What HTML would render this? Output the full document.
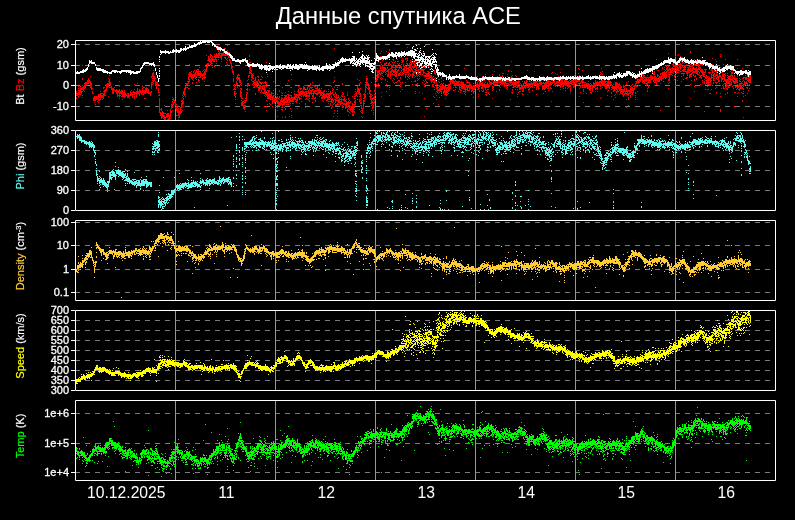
<!DOCTYPE html>
<html><head><meta charset="utf-8"><title>ACE</title><style>html,body{margin:0;padding:0;background:#000;overflow:hidden}</style></head><body>
<svg width="795" height="520" viewBox="0 0 795 520" style="display:block">
<rect width="795" height="520" fill="#000"/>
<text x="398.3" y="24" text-anchor="middle" fill="#fff" font-size="23.7" font-family="Liberation Sans, Arial, sans-serif">Данные спутника ACE</text>
<path d="M75 44.5H775M75 65.5H775M75 85.5H775M75 106.5H775M75 150.5H775M75 170.5H775M75 190.5H775M75 222.5H775M75 245.5H775M75 269.5H775M75 292.5H775M75 320.5H775M75 330.5H775M75 340.5H775M75 350.5H775M75 360.5H775M75 370.5H775M75 380.5H775M75 413.5H775M75 443.5H775M75 472.5H775" stroke="#7c7c7c" stroke-width="1" stroke-dasharray="5 5" fill="none"/>
<path d="M175.5 41V120M275.5 41V120M375.5 41V120M475.5 41V120M575.5 41V120M675.5 41V120M175.5 131V210M275.5 131V210M375.5 131V210M475.5 131V210M575.5 131V210M675.5 131V210M175.5 221V300M275.5 221V300M375.5 221V300M475.5 221V300M575.5 221V300M675.5 221V300M175.5 311V390M275.5 311V390M375.5 311V390M475.5 311V390M575.5 311V390M675.5 311V390M175.5 401V480M275.5 401V480M375.5 401V480M475.5 401V480M575.5 401V480M675.5 401V480" stroke="#969696" stroke-width="1" fill="none"/>
<path d="M75 90h1v4h-1zM76 91h1v5h-1zM76 97h1v2h-1zM77 93h1v3h-1zM78 86h1v1h-1zM78 88h1v1h-1zM78 90h1v1h-1zM78 92h1v3h-1zM78 96h1v2h-1zM79 90h1v5h-1zM80 86h1v1h-1zM80 88h1v5h-1zM80 94h1v1h-1zM81 88h1v2h-1zM81 91h1v3h-1zM82 65h1v1h-1zM82 78h1v2h-1zM82 85h1v1h-1zM82 87h1v3h-1zM82 91h1v1h-1zM82 95h1v1h-1zM82 97h1v1h-1zM83 86h1v5h-1zM84 83h1v6h-1zM84 91h1v1h-1zM85 82h1v6h-1zM86 82h1v4h-1zM87 80h1v4h-1zM88 78h1v6h-1zM89 80h1v3h-1zM90 76h1v1h-1zM90 81h1v7h-1zM91 83h1v7h-1zM92 88h1v1h-1zM92 91h1v3h-1zM93 93h1v1h-1zM93 97h1v4h-1zM94 96h1v5h-1zM94 102h1v1h-1zM95 96h1v5h-1zM95 104h1v1h-1zM96 96h1v4h-1zM97 96h1v4h-1zM97 101h1v1h-1zM98 94h1v7h-1zM98 102h1v1h-1zM99 94h1v4h-1zM99 99h1v2h-1zM100 91h1v1h-1zM100 93h1v7h-1zM101 93h1v1h-1zM101 95h1v3h-1zM102 93h1v1h-1zM102 95h1v3h-1zM102 99h1v1h-1zM103 87h1v2h-1zM103 91h1v1h-1zM103 93h1v6h-1zM104 87h1v1h-1zM104 90h1v6h-1zM105 89h1v4h-1zM105 95h1v1h-1zM106 84h1v7h-1zM107 83h1v5h-1zM108 78h1v1h-1zM108 81h1v1h-1zM108 83h1v4h-1zM108 96h1v1h-1zM109 75h1v1h-1zM109 79h1v6h-1zM109 87h1v1h-1zM110 82h1v4h-1zM110 87h1v1h-1zM111 86h1v4h-1zM112 88h1v6h-1zM113 88h1v6h-1zM114 87h1v1h-1zM114 89h1v2h-1zM115 90h1v2h-1zM116 89h1v5h-1zM117 90h1v7h-1zM118 90h1v3h-1zM118 95h1v1h-1zM119 81h1v1h-1zM119 85h1v2h-1zM119 89h1v8h-1zM119 98h1v1h-1zM120 91h1v3h-1zM120 95h1v1h-1zM121 90h1v5h-1zM121 96h1v1h-1zM122 90h1v7h-1zM122 99h1v1h-1zM123 92h1v5h-1zM124 90h1v8h-1zM125 93h1v4h-1zM126 94h1v2h-1zM127 93h1v1h-1zM127 95h1v3h-1zM128 93h1v5h-1zM129 95h1v2h-1zM129 98h1v1h-1zM130 91h1v5h-1zM131 90h1v1h-1zM131 92h1v4h-1zM132 92h1v1h-1zM132 94h1v4h-1zM133 91h1v2h-1zM133 94h1v1h-1zM134 84h1v1h-1zM134 89h1v1h-1zM134 92h1v3h-1zM134 96h1v3h-1zM135 92h1v2h-1zM136 91h1v7h-1zM137 83h1v1h-1zM137 88h1v7h-1zM138 91h1v3h-1zM139 89h1v7h-1zM140 90h1v3h-1zM141 91h1v4h-1zM142 85h1v2h-1zM142 88h1v5h-1zM142 94h1v1h-1zM143 87h1v1h-1zM143 90h1v5h-1zM144 87h1v1h-1zM144 90h1v4h-1zM144 98h1v1h-1zM145 88h1v6h-1zM145 98h1v1h-1zM146 87h1v6h-1zM147 88h1v5h-1zM148 89h1v5h-1zM149 92h1v2h-1zM150 92h1v4h-1zM151 76h1v2h-1zM151 82h1v7h-1zM151 91h1v2h-1zM152 73h1v4h-1zM152 78h1v1h-1zM152 80h1v1h-1zM152 82h1v1h-1zM152 84h1v1h-1zM153 70h1v1h-1zM153 72h1v7h-1zM153 80h1v2h-1zM153 83h1v1h-1zM154 76h1v5h-1zM155 78h1v1h-1zM155 81h1v5h-1zM156 82h1v7h-1zM157 81h1v5h-1zM158 84h1v1h-1zM158 88h1v5h-1zM158 95h1v1h-1zM159 92h1v1h-1zM159 94h1v2h-1zM159 98h1v15h-1zM160 109h1v1h-1zM160 112h1v4h-1zM161 108h1v3h-1zM161 113h1v6h-1zM162 111h1v7h-1zM163 112h1v5h-1zM163 118h1v1h-1zM164 105h1v1h-1zM164 113h1v1h-1zM164 115h1v5h-1zM165 113h1v1h-1zM165 117h1v3h-1zM166 114h1v4h-1zM167 110h1v1h-1zM167 113h1v5h-1zM167 119h1v1h-1zM168 113h1v4h-1zM168 118h1v2h-1zM169 115h1v5h-1zM170 109h1v8h-1zM170 118h1v1h-1zM171 104h1v5h-1zM171 111h1v2h-1zM172 97h1v1h-1zM172 99h1v1h-1zM172 101h1v2h-1zM172 104h1v4h-1zM172 110h1v1h-1zM173 98h1v3h-1zM173 102h1v3h-1zM174 100h1v3h-1zM174 105h1v1h-1zM175 101h1v5h-1zM175 107h1v2h-1zM176 104h1v1h-1zM176 106h1v5h-1zM176 115h1v1h-1zM177 106h1v2h-1zM177 109h1v4h-1zM177 115h1v1h-1zM178 108h1v1h-1zM178 110h1v6h-1zM178 117h1v1h-1zM178 119h1v1h-1zM179 111h1v7h-1zM180 107h1v7h-1zM181 100h1v2h-1zM181 103h1v5h-1zM181 109h1v1h-1zM181 111h1v2h-1zM182 95h1v1h-1zM182 97h1v1h-1zM182 100h1v5h-1zM182 106h1v1h-1zM182 110h1v1h-1zM183 91h1v4h-1zM183 96h1v1h-1zM183 98h1v2h-1zM183 101h1v3h-1zM184 88h1v8h-1zM185 83h1v1h-1zM185 86h1v4h-1zM185 94h1v1h-1zM185 96h1v1h-1zM186 83h1v3h-1zM186 87h1v1h-1zM187 81h1v1h-1zM187 83h1v2h-1zM187 87h1v1h-1zM188 74h1v1h-1zM188 76h1v4h-1zM188 81h1v3h-1zM188 85h1v1h-1zM188 88h1v1h-1zM189 64h1v1h-1zM189 72h1v5h-1zM189 79h1v3h-1zM189 85h1v1h-1zM189 88h1v1h-1zM190 72h1v5h-1zM191 71h1v1h-1zM191 73h1v6h-1zM192 74h1v6h-1zM192 82h1v2h-1zM193 71h1v2h-1zM193 74h1v4h-1zM193 80h1v1h-1zM194 70h1v1h-1zM194 73h1v4h-1zM195 72h1v7h-1zM196 70h1v3h-1zM196 74h1v1h-1zM196 76h1v2h-1zM196 79h1v1h-1zM196 82h1v1h-1zM197 69h1v1h-1zM197 71h1v5h-1zM198 69h1v7h-1zM198 77h1v1h-1zM198 79h1v3h-1zM199 67h1v1h-1zM199 71h1v1h-1zM199 73h1v3h-1zM199 77h1v1h-1zM199 80h1v1h-1zM199 82h1v1h-1zM200 71h1v7h-1zM201 73h1v3h-1zM202 71h1v1h-1zM202 74h1v3h-1zM202 78h1v2h-1zM203 70h1v1h-1zM203 73h1v3h-1zM203 77h1v1h-1zM204 69h1v1h-1zM204 71h1v8h-1zM204 81h1v1h-1zM205 66h1v1h-1zM205 69h1v6h-1zM205 77h1v1h-1zM206 55h1v1h-1zM206 64h1v1h-1zM206 66h1v6h-1zM207 60h1v1h-1zM207 63h1v5h-1zM208 56h1v5h-1zM208 63h1v2h-1zM209 58h1v4h-1zM210 54h1v4h-1zM210 59h1v4h-1zM210 64h1v1h-1zM211 55h1v1h-1zM211 58h1v6h-1zM211 65h1v1h-1zM212 56h1v5h-1zM212 63h1v1h-1zM212 65h1v1h-1zM212 67h1v1h-1zM213 59h1v3h-1zM214 54h1v1h-1zM214 56h1v2h-1zM214 59h1v3h-1zM214 65h1v2h-1zM215 55h1v5h-1zM216 48h1v1h-1zM216 53h1v5h-1zM216 59h1v3h-1zM216 63h1v1h-1zM217 54h1v4h-1zM218 46h1v1h-1zM218 49h1v3h-1zM218 53h1v5h-1zM218 59h1v1h-1zM219 47h1v1h-1zM219 49h1v1h-1zM219 52h1v4h-1zM219 57h1v1h-1zM220 51h1v1h-1zM220 53h1v1h-1zM220 55h1v3h-1zM221 53h1v7h-1zM221 61h1v1h-1zM221 66h1v1h-1zM222 53h1v3h-1zM223 49h1v7h-1zM224 48h1v3h-1zM224 52h1v1h-1zM224 54h1v2h-1zM224 57h1v1h-1zM225 48h1v1h-1zM225 51h1v5h-1zM225 57h1v2h-1zM226 51h1v5h-1zM226 59h1v1h-1zM226 62h1v1h-1zM227 45h1v1h-1zM227 50h1v2h-1zM227 53h1v3h-1zM227 58h1v1h-1zM227 60h1v1h-1zM227 64h1v2h-1zM228 52h1v6h-1zM229 52h1v1h-1zM229 54h1v4h-1zM229 59h1v2h-1zM230 60h1v4h-1zM231 63h1v6h-1zM232 66h1v2h-1zM232 69h1v4h-1zM233 71h1v4h-1zM233 76h1v1h-1zM233 78h1v4h-1zM233 85h1v1h-1zM233 89h1v1h-1zM234 84h1v1h-1zM234 86h1v1h-1zM234 88h1v2h-1zM234 91h1v5h-1zM235 87h1v1h-1zM235 89h1v1h-1zM235 91h1v1h-1zM235 93h1v2h-1zM235 96h1v2h-1zM235 99h1v1h-1zM235 103h1v1h-1zM236 77h1v2h-1zM236 81h1v5h-1zM236 93h1v1h-1zM237 75h1v6h-1zM237 83h1v2h-1zM237 86h1v2h-1zM238 74h1v2h-1zM238 77h1v3h-1zM239 75h1v1h-1zM239 77h1v6h-1zM239 86h1v1h-1zM240 80h1v3h-1zM240 84h1v1h-1zM240 88h1v1h-1zM240 90h1v7h-1zM241 83h1v1h-1zM241 85h1v1h-1zM241 88h1v2h-1zM241 92h1v2h-1zM241 95h1v4h-1zM241 100h1v1h-1zM241 102h1v4h-1zM242 98h1v1h-1zM242 101h1v5h-1zM243 101h1v1h-1zM243 103h1v1h-1zM243 105h1v4h-1zM244 100h1v1h-1zM244 102h1v1h-1zM244 105h1v5h-1zM245 98h1v1h-1zM245 100h1v3h-1zM245 105h1v3h-1zM245 111h1v1h-1zM246 85h1v1h-1zM246 89h1v1h-1zM246 92h1v1h-1zM246 94h1v7h-1zM247 80h1v1h-1zM247 83h1v4h-1zM247 88h1v3h-1zM247 92h1v2h-1zM248 75h1v3h-1zM248 79h1v1h-1zM248 83h1v3h-1zM249 55h1v2h-1zM249 59h1v1h-1zM249 62h1v4h-1zM249 67h1v3h-1zM249 71h1v3h-1zM249 75h1v1h-1zM249 89h1v1h-1zM250 62h1v1h-1zM250 65h1v6h-1zM250 72h1v2h-1zM251 64h1v1h-1zM251 70h1v2h-1zM251 73h1v5h-1zM251 79h1v2h-1zM252 74h1v5h-1zM252 81h1v1h-1zM252 84h1v1h-1zM253 73h1v1h-1zM253 75h1v1h-1zM253 78h1v1h-1zM253 81h1v3h-1zM253 85h1v1h-1zM253 87h1v1h-1zM254 80h1v1h-1zM254 82h1v3h-1zM254 86h1v2h-1zM255 64h1v1h-1zM255 77h1v4h-1zM255 82h1v4h-1zM255 93h1v2h-1zM255 103h1v1h-1zM256 81h1v6h-1zM257 76h1v1h-1zM257 81h1v4h-1zM257 86h1v2h-1zM258 76h1v2h-1zM258 79h1v2h-1zM258 83h1v3h-1zM258 87h1v4h-1zM259 81h1v2h-1zM259 85h1v6h-1zM260 79h1v1h-1zM260 82h1v2h-1zM260 85h1v4h-1zM260 92h1v1h-1zM261 76h1v1h-1zM261 79h1v1h-1zM261 82h1v3h-1zM261 86h1v1h-1zM261 90h1v2h-1zM262 77h1v1h-1zM262 82h1v1h-1zM262 85h1v5h-1zM262 92h1v1h-1zM263 83h1v1h-1zM263 85h1v2h-1zM263 88h1v2h-1zM263 92h1v2h-1zM264 82h1v1h-1zM264 85h1v9h-1zM264 95h1v1h-1zM264 106h1v1h-1zM265 81h1v3h-1zM265 85h1v1h-1zM265 89h1v6h-1zM265 96h1v1h-1zM266 62h1v1h-1zM266 69h1v1h-1zM266 82h1v1h-1zM266 84h1v1h-1zM266 86h1v1h-1zM266 91h1v2h-1zM266 94h1v2h-1zM266 100h1v1h-1zM266 106h1v1h-1zM266 110h1v1h-1zM267 74h1v1h-1zM267 76h1v1h-1zM267 90h1v1h-1zM267 92h1v7h-1zM267 101h1v1h-1zM267 104h1v1h-1zM268 90h1v3h-1zM268 94h1v5h-1zM269 88h1v1h-1zM269 90h1v2h-1zM269 93h1v6h-1zM269 103h1v1h-1zM270 94h1v6h-1zM270 104h1v1h-1zM271 92h1v6h-1zM271 99h1v1h-1zM272 93h1v1h-1zM272 96h1v8h-1zM272 106h1v1h-1zM273 81h1v1h-1zM273 90h1v1h-1zM273 93h1v1h-1zM273 95h1v4h-1zM273 100h1v2h-1zM274 95h1v1h-1zM274 98h1v5h-1zM275 84h1v1h-1zM275 87h1v1h-1zM275 95h1v1h-1zM275 98h1v4h-1zM275 104h1v1h-1zM275 106h1v1h-1zM275 108h1v1h-1zM276 97h1v5h-1zM277 94h1v1h-1zM277 96h1v3h-1zM277 100h1v4h-1zM277 105h1v1h-1zM277 107h1v1h-1zM277 110h1v1h-1zM277 116h1v1h-1zM278 98h1v1h-1zM278 101h1v5h-1zM279 90h1v2h-1zM279 96h1v2h-1zM279 99h1v1h-1zM279 102h1v4h-1zM280 100h1v6h-1zM281 92h1v1h-1zM281 95h1v1h-1zM281 97h1v5h-1zM281 103h1v2h-1zM281 107h1v1h-1zM281 109h1v1h-1zM282 87h1v1h-1zM282 93h1v1h-1zM282 95h1v1h-1zM282 98h1v1h-1zM282 100h1v3h-1zM282 104h1v4h-1zM282 109h1v2h-1zM282 117h1v1h-1zM283 99h1v6h-1zM284 95h1v1h-1zM284 97h1v8h-1zM284 107h1v1h-1zM285 92h1v1h-1zM285 95h1v5h-1zM285 101h1v2h-1zM285 108h1v2h-1zM285 116h1v2h-1zM286 95h1v2h-1zM286 98h1v5h-1zM286 104h1v1h-1zM287 83h1v1h-1zM287 94h1v1h-1zM287 97h1v1h-1zM287 99h1v4h-1zM287 104h1v1h-1zM288 80h1v1h-1zM288 91h1v1h-1zM288 94h1v7h-1zM288 102h1v1h-1zM288 104h1v1h-1zM289 95h1v1h-1zM289 97h1v6h-1zM289 116h1v1h-1zM290 87h1v1h-1zM290 95h1v1h-1zM290 98h1v4h-1zM290 103h1v1h-1zM290 105h1v1h-1zM290 108h1v1h-1zM291 68h1v1h-1zM291 74h1v1h-1zM291 79h1v1h-1zM291 87h1v1h-1zM291 92h1v1h-1zM291 95h1v4h-1zM291 100h1v2h-1zM291 111h1v1h-1zM291 115h1v1h-1zM291 117h1v1h-1zM292 97h1v5h-1zM292 103h1v1h-1zM293 97h1v5h-1zM293 103h1v1h-1zM294 91h1v1h-1zM294 93h1v2h-1zM294 96h1v4h-1zM295 94h1v6h-1zM295 101h1v1h-1zM296 94h1v4h-1zM296 99h1v4h-1zM297 91h1v1h-1zM297 94h1v2h-1zM297 97h1v4h-1zM297 108h1v1h-1zM298 86h1v1h-1zM298 89h1v4h-1zM298 94h1v4h-1zM299 88h1v1h-1zM299 92h1v4h-1zM299 97h1v3h-1zM299 103h1v1h-1zM300 88h1v2h-1zM300 91h1v5h-1zM300 98h1v1h-1zM301 88h1v1h-1zM301 91h1v4h-1zM301 96h1v1h-1zM301 98h1v1h-1zM301 101h1v1h-1zM302 90h1v5h-1zM303 86h1v4h-1zM303 91h1v3h-1zM303 95h1v2h-1zM304 85h1v1h-1zM304 87h1v3h-1zM304 92h1v4h-1zM305 85h1v1h-1zM305 89h1v1h-1zM305 91h1v2h-1zM305 94h1v3h-1zM305 99h1v1h-1zM305 103h1v2h-1zM305 107h1v1h-1zM306 85h1v1h-1zM306 89h1v1h-1zM306 91h1v6h-1zM306 98h1v1h-1zM307 87h1v3h-1zM307 91h1v1h-1zM307 93h1v1h-1zM307 95h1v2h-1zM307 99h1v1h-1zM308 86h1v1h-1zM308 90h1v4h-1zM308 95h1v2h-1zM308 99h1v1h-1zM309 86h1v1h-1zM309 88h1v2h-1zM309 92h1v5h-1zM309 98h1v1h-1zM309 100h1v2h-1zM310 83h1v3h-1zM310 87h1v1h-1zM310 90h1v1h-1zM310 92h1v2h-1zM311 87h1v2h-1zM311 90h1v5h-1zM311 98h1v1h-1zM312 82h1v1h-1zM312 85h1v1h-1zM312 87h1v1h-1zM312 89h1v2h-1zM312 93h1v1h-1zM312 95h1v2h-1zM312 98h1v1h-1zM312 102h1v1h-1zM313 85h1v1h-1zM313 89h1v1h-1zM313 91h1v7h-1zM314 85h1v2h-1zM314 90h1v4h-1zM314 98h1v1h-1zM315 86h1v1h-1zM315 88h1v1h-1zM315 90h1v2h-1zM315 93h1v1h-1zM315 97h1v2h-1zM315 100h1v2h-1zM316 88h1v1h-1zM316 90h1v2h-1zM316 93h1v2h-1zM317 86h1v5h-1zM317 92h1v3h-1zM318 89h1v5h-1zM319 84h1v1h-1zM319 88h1v6h-1zM319 96h1v1h-1zM320 90h1v6h-1zM321 88h1v1h-1zM321 92h1v4h-1zM321 97h1v2h-1zM322 92h1v2h-1zM322 95h1v4h-1zM322 100h1v1h-1zM323 91h1v7h-1zM323 101h1v1h-1zM324 90h1v2h-1zM324 93h1v6h-1zM325 94h1v4h-1zM326 91h1v1h-1zM326 93h1v5h-1zM326 100h1v1h-1zM327 93h1v2h-1zM327 96h1v5h-1zM328 89h1v1h-1zM328 91h1v1h-1zM328 93h1v7h-1zM328 101h1v1h-1zM328 103h1v1h-1zM329 93h1v5h-1zM329 99h1v1h-1zM329 101h1v1h-1zM330 85h1v1h-1zM330 91h1v4h-1zM330 98h1v1h-1zM330 101h1v1h-1zM330 103h1v3h-1zM331 86h1v1h-1zM331 93h1v1h-1zM331 96h1v2h-1zM331 99h1v4h-1zM331 107h1v2h-1zM332 67h1v1h-1zM332 88h1v1h-1zM332 90h1v1h-1zM332 92h1v2h-1zM332 98h1v3h-1zM332 102h1v1h-1zM332 105h1v2h-1zM333 82h1v1h-1zM333 89h1v1h-1zM333 94h1v2h-1zM333 100h1v2h-1zM333 104h1v1h-1zM333 116h1v1h-1zM334 48h1v1h-1zM334 71h1v1h-1zM334 77h1v1h-1zM334 80h1v2h-1zM334 87h1v1h-1zM334 94h1v1h-1zM334 96h1v1h-1zM334 99h1v1h-1zM334 103h1v1h-1zM334 110h1v1h-1zM334 113h1v1h-1zM335 92h1v2h-1zM335 97h1v1h-1zM335 99h1v4h-1zM335 104h1v2h-1zM336 89h1v1h-1zM336 94h1v5h-1zM336 100h1v1h-1zM336 104h1v2h-1zM337 87h1v1h-1zM337 89h1v1h-1zM337 97h1v2h-1zM337 100h1v2h-1zM337 103h1v2h-1zM337 108h1v1h-1zM337 110h1v2h-1zM337 113h1v1h-1zM337 116h1v1h-1zM338 95h1v3h-1zM338 99h1v4h-1zM338 104h1v1h-1zM339 98h1v5h-1zM340 97h1v1h-1zM340 99h1v1h-1zM340 101h1v4h-1zM341 95h1v2h-1zM341 98h1v6h-1zM342 83h1v2h-1zM342 92h1v1h-1zM342 94h1v1h-1zM342 96h1v1h-1zM342 99h1v1h-1zM342 102h1v2h-1zM342 105h1v3h-1zM342 109h1v1h-1zM343 93h1v2h-1zM343 99h1v2h-1zM343 103h1v2h-1zM343 106h1v2h-1zM344 96h1v1h-1zM344 98h1v4h-1zM344 103h1v2h-1zM345 100h1v2h-1zM345 103h1v6h-1zM346 99h1v1h-1zM346 101h1v7h-1zM347 92h1v1h-1zM347 94h1v2h-1zM347 102h1v3h-1zM347 106h1v2h-1zM347 109h1v3h-1zM348 98h1v2h-1zM348 101h1v5h-1zM348 108h1v1h-1zM348 111h1v1h-1zM348 115h1v1h-1zM349 100h1v1h-1zM349 102h1v2h-1zM349 105h1v3h-1zM349 109h1v1h-1zM349 112h1v1h-1zM350 101h1v2h-1zM350 106h1v1h-1zM350 108h1v3h-1zM350 113h1v1h-1zM351 106h1v4h-1zM351 111h1v1h-1zM352 96h1v1h-1zM352 103h1v10h-1zM352 114h1v2h-1zM353 104h1v1h-1zM353 106h1v6h-1zM353 114h1v2h-1zM354 94h1v1h-1zM354 96h1v1h-1zM354 98h1v1h-1zM354 101h1v2h-1zM354 104h1v4h-1zM354 109h1v1h-1zM354 111h1v2h-1zM355 89h1v1h-1zM355 91h1v1h-1zM355 93h1v1h-1zM355 95h1v2h-1zM355 98h1v1h-1zM355 100h1v5h-1zM356 92h1v4h-1zM357 79h1v1h-1zM357 86h1v6h-1zM357 96h1v1h-1zM357 99h1v1h-1zM358 85h1v1h-1zM358 88h1v6h-1zM359 80h1v1h-1zM359 83h1v2h-1zM359 89h1v6h-1zM359 96h1v1h-1zM359 99h1v3h-1zM359 109h1v1h-1zM360 82h1v1h-1zM360 88h1v1h-1zM360 93h1v4h-1zM360 98h1v1h-1zM360 100h1v1h-1zM360 102h1v2h-1zM360 105h1v1h-1zM360 111h1v1h-1zM361 99h1v1h-1zM361 102h1v2h-1zM361 105h1v4h-1zM361 110h1v1h-1zM361 112h1v1h-1zM361 116h1v1h-1zM362 108h1v6h-1zM362 117h1v1h-1zM363 94h1v1h-1zM363 98h1v1h-1zM363 100h1v9h-1zM364 93h1v6h-1zM364 100h1v2h-1zM364 103h1v1h-1zM365 82h1v1h-1zM365 84h1v9h-1zM365 94h1v4h-1zM366 76h1v1h-1zM366 78h1v8h-1zM366 87h1v1h-1zM367 78h1v2h-1zM367 82h1v4h-1zM367 88h1v1h-1zM367 93h1v1h-1zM368 83h1v7h-1zM369 85h1v1h-1zM369 87h1v7h-1zM369 96h1v1h-1zM370 90h1v2h-1zM370 93h1v7h-1zM370 103h1v1h-1zM371 82h1v1h-1zM371 94h1v1h-1zM371 96h1v1h-1zM371 98h1v6h-1zM371 105h1v1h-1zM371 110h1v1h-1zM372 95h1v1h-1zM372 98h1v2h-1zM372 101h1v2h-1zM372 104h1v1h-1zM372 106h1v3h-1zM373 77h1v1h-1zM373 97h1v2h-1zM373 100h1v1h-1zM373 102h1v2h-1zM373 105h1v3h-1zM373 110h1v1h-1zM373 112h1v1h-1zM373 114h1v1h-1zM374 84h1v1h-1zM374 90h1v2h-1zM374 94h1v1h-1zM374 96h1v4h-1zM374 101h1v2h-1zM375 80h1v1h-1zM375 82h1v2h-1zM375 87h1v6h-1zM375 94h1v2h-1zM375 98h1v1h-1zM376 70h1v1h-1zM376 75h1v2h-1zM376 78h1v4h-1zM376 84h1v3h-1zM377 68h1v1h-1zM377 71h1v9h-1zM378 70h1v3h-1zM378 74h1v4h-1zM378 83h1v2h-1zM378 86h1v1h-1zM379 70h1v4h-1zM380 53h1v1h-1zM380 56h1v1h-1zM380 62h1v1h-1zM380 65h1v4h-1zM380 70h1v1h-1zM380 73h1v2h-1zM380 78h1v1h-1zM381 51h1v1h-1zM381 56h1v1h-1zM381 59h1v1h-1zM381 64h1v1h-1zM381 70h1v1h-1zM381 72h1v2h-1zM381 77h1v1h-1zM381 79h1v1h-1zM381 82h1v1h-1zM381 92h1v1h-1zM381 96h1v1h-1zM382 60h1v1h-1zM382 65h1v4h-1zM382 70h1v2h-1zM382 73h1v1h-1zM382 75h1v1h-1zM382 78h1v1h-1zM383 65h1v1h-1zM383 67h1v6h-1zM383 76h1v1h-1zM384 57h1v1h-1zM384 63h1v3h-1zM384 67h1v5h-1zM385 59h1v1h-1zM385 63h1v3h-1zM385 67h1v4h-1zM385 72h1v1h-1zM385 74h1v1h-1zM385 79h1v2h-1zM386 51h1v1h-1zM386 56h1v1h-1zM386 59h1v1h-1zM386 62h1v2h-1zM386 65h1v1h-1zM386 69h1v1h-1zM386 71h1v1h-1zM386 73h1v1h-1zM386 84h1v1h-1zM386 91h1v1h-1zM387 59h1v1h-1zM387 65h1v1h-1zM387 67h1v2h-1zM387 70h1v2h-1zM387 74h1v3h-1zM387 81h1v1h-1zM387 86h1v1h-1zM388 52h1v1h-1zM388 63h1v3h-1zM388 69h1v8h-1zM389 49h1v2h-1zM389 62h1v2h-1zM389 65h1v1h-1zM389 69h1v1h-1zM389 77h1v1h-1zM389 87h1v1h-1zM389 89h1v1h-1zM389 95h1v1h-1zM390 64h1v1h-1zM390 68h1v1h-1zM390 71h1v6h-1zM390 78h1v1h-1zM390 85h1v1h-1zM391 56h1v1h-1zM391 61h1v1h-1zM391 65h1v4h-1zM391 70h1v3h-1zM391 74h1v1h-1zM392 59h1v1h-1zM392 62h1v1h-1zM392 65h1v3h-1zM392 69h1v3h-1zM392 73h1v2h-1zM392 80h1v1h-1zM393 53h1v1h-1zM393 59h1v2h-1zM393 64h1v2h-1zM393 67h1v1h-1zM393 70h1v3h-1zM393 74h1v1h-1zM393 78h1v1h-1zM393 82h1v1h-1zM394 62h1v1h-1zM394 65h1v1h-1zM394 67h1v1h-1zM394 69h1v4h-1zM394 74h1v2h-1zM394 79h1v1h-1zM394 83h1v1h-1zM395 61h1v1h-1zM395 66h1v8h-1zM395 75h1v2h-1zM395 82h1v1h-1zM396 65h1v3h-1zM396 69h1v1h-1zM396 71h1v6h-1zM396 82h1v1h-1zM397 55h1v1h-1zM397 59h1v1h-1zM397 61h1v1h-1zM397 63h1v1h-1zM397 65h1v3h-1zM397 70h1v3h-1zM397 78h1v1h-1zM397 81h1v1h-1zM398 61h1v1h-1zM398 64h1v1h-1zM398 67h1v1h-1zM398 69h1v2h-1zM398 73h1v3h-1zM398 80h1v1h-1zM399 55h1v1h-1zM399 57h1v1h-1zM399 63h1v1h-1zM399 66h1v3h-1zM399 73h1v3h-1zM399 80h1v2h-1zM400 57h1v1h-1zM400 65h1v3h-1zM400 72h1v1h-1zM400 74h1v1h-1zM400 77h1v2h-1zM400 82h1v1h-1zM400 84h1v1h-1zM400 86h1v1h-1zM400 91h1v1h-1zM401 57h1v1h-1zM401 60h1v1h-1zM401 62h1v1h-1zM401 64h1v1h-1zM401 66h1v3h-1zM401 70h1v2h-1zM401 75h1v1h-1zM402 58h1v1h-1zM402 60h1v3h-1zM402 69h1v1h-1zM402 72h1v1h-1zM402 74h1v1h-1zM402 82h1v1h-1zM402 89h1v1h-1zM403 60h1v2h-1zM403 64h1v3h-1zM403 68h1v4h-1zM403 73h1v1h-1zM404 66h1v7h-1zM405 44h1v1h-1zM405 53h1v1h-1zM405 55h1v1h-1zM405 58h1v2h-1zM405 67h1v1h-1zM405 70h1v1h-1zM405 72h1v1h-1zM405 74h1v4h-1zM405 82h1v1h-1zM405 86h1v1h-1zM406 55h1v1h-1zM406 58h1v1h-1zM406 61h1v1h-1zM406 63h1v1h-1zM406 66h1v5h-1zM406 72h1v1h-1zM406 74h1v1h-1zM407 47h1v1h-1zM407 58h1v3h-1zM407 63h1v3h-1zM407 68h1v1h-1zM407 71h1v2h-1zM407 76h1v1h-1zM407 79h1v1h-1zM408 67h1v6h-1zM408 74h1v2h-1zM408 77h1v1h-1zM409 63h1v5h-1zM409 69h1v2h-1zM409 73h1v1h-1zM409 76h1v1h-1zM409 78h1v1h-1zM410 60h1v1h-1zM410 62h1v1h-1zM410 64h1v5h-1zM410 70h1v2h-1zM410 74h1v2h-1zM411 57h1v1h-1zM411 61h1v5h-1zM411 68h1v2h-1zM411 81h1v1h-1zM412 61h1v2h-1zM412 66h1v2h-1zM412 69h1v3h-1zM412 73h1v5h-1zM412 84h1v1h-1zM413 57h1v1h-1zM413 61h1v1h-1zM413 63h1v1h-1zM413 66h1v3h-1zM413 71h1v5h-1zM414 57h1v1h-1zM414 60h1v1h-1zM414 62h1v1h-1zM414 64h1v4h-1zM414 69h1v1h-1zM414 71h1v2h-1zM414 75h1v1h-1zM414 77h1v1h-1zM414 81h1v1h-1zM415 64h1v1h-1zM415 66h1v1h-1zM415 69h1v4h-1zM415 76h1v1h-1zM415 80h1v2h-1zM415 84h1v2h-1zM415 91h1v1h-1zM415 93h1v1h-1zM416 62h1v1h-1zM416 65h1v4h-1zM416 70h1v1h-1zM416 72h1v1h-1zM416 74h1v2h-1zM416 84h1v1h-1zM417 44h1v1h-1zM417 59h1v1h-1zM417 62h1v1h-1zM417 65h1v1h-1zM417 70h1v1h-1zM417 72h1v1h-1zM417 74h1v1h-1zM417 76h1v1h-1zM417 78h1v1h-1zM417 80h1v1h-1zM417 83h1v2h-1zM417 86h1v1h-1zM418 60h1v3h-1zM418 67h1v1h-1zM418 69h1v5h-1zM418 75h1v1h-1zM418 79h1v1h-1zM419 51h1v1h-1zM419 60h1v2h-1zM419 64h1v2h-1zM419 67h1v1h-1zM419 69h1v1h-1zM419 72h1v1h-1zM419 74h1v1h-1zM419 76h1v1h-1zM419 78h1v1h-1zM419 92h1v1h-1zM420 68h1v7h-1zM421 64h1v1h-1zM421 66h1v5h-1zM422 62h1v2h-1zM422 66h1v2h-1zM422 69h1v2h-1zM422 74h1v1h-1zM422 82h1v1h-1zM422 93h1v1h-1zM423 65h1v1h-1zM423 69h1v5h-1zM423 75h1v1h-1zM423 80h1v1h-1zM424 66h1v2h-1zM424 69h1v1h-1zM424 72h1v1h-1zM424 75h1v2h-1zM424 81h1v1h-1zM424 84h1v1h-1zM424 86h1v1h-1zM424 98h1v1h-1zM424 116h1v1h-1zM425 45h1v1h-1zM425 62h1v1h-1zM425 66h1v3h-1zM425 73h1v1h-1zM425 75h1v2h-1zM425 79h1v2h-1zM425 83h1v1h-1zM425 86h1v1h-1zM426 73h1v4h-1zM426 78h1v1h-1zM426 81h1v2h-1zM426 108h1v1h-1zM427 71h1v1h-1zM427 73h1v4h-1zM427 78h1v1h-1zM427 82h1v1h-1zM428 66h1v2h-1zM428 71h1v6h-1zM428 78h1v1h-1zM429 69h1v1h-1zM429 72h1v7h-1zM430 73h1v1h-1zM430 75h1v3h-1zM430 79h1v2h-1zM431 75h1v8h-1zM432 77h1v5h-1zM432 84h1v3h-1zM433 76h1v1h-1zM433 79h1v2h-1zM433 82h1v1h-1zM433 84h1v1h-1zM433 86h1v1h-1zM433 96h1v1h-1zM433 103h1v1h-1zM434 70h1v4h-1zM434 78h1v1h-1zM434 80h1v4h-1zM434 87h1v1h-1zM434 89h1v1h-1zM434 97h1v1h-1zM435 67h1v2h-1zM435 73h1v2h-1zM435 77h1v1h-1zM435 79h1v3h-1zM435 93h1v1h-1zM436 80h1v3h-1zM436 84h1v5h-1zM436 91h1v1h-1zM436 95h1v1h-1zM436 99h1v1h-1zM437 75h1v1h-1zM437 77h1v1h-1zM437 84h1v1h-1zM437 86h1v7h-1zM438 76h1v1h-1zM438 79h1v1h-1zM438 81h1v1h-1zM438 85h1v1h-1zM438 87h1v1h-1zM438 89h1v2h-1zM438 93h1v1h-1zM438 104h1v1h-1zM439 79h1v1h-1zM439 82h1v1h-1zM439 85h1v2h-1zM439 88h1v3h-1zM439 92h1v1h-1zM439 97h1v1h-1zM440 84h1v1h-1zM440 86h1v6h-1zM441 77h1v2h-1zM441 81h1v1h-1zM441 83h1v1h-1zM441 86h1v4h-1zM441 91h1v3h-1zM441 95h1v1h-1zM442 84h1v6h-1zM443 80h1v1h-1zM443 83h1v1h-1zM443 85h1v4h-1zM443 91h1v3h-1zM444 86h1v7h-1zM444 94h1v1h-1zM445 84h1v1h-1zM445 86h1v3h-1zM445 90h1v5h-1zM445 98h1v1h-1zM446 87h1v9h-1zM447 87h1v2h-1zM447 90h1v3h-1zM447 94h1v1h-1zM448 84h1v8h-1zM448 93h1v1h-1zM449 81h1v1h-1zM449 84h1v7h-1zM450 77h1v1h-1zM450 80h1v5h-1zM450 86h1v3h-1zM451 78h1v4h-1zM452 77h1v7h-1zM453 79h1v5h-1zM453 85h1v1h-1zM453 87h1v1h-1zM453 90h1v1h-1zM454 77h1v1h-1zM454 79h1v1h-1zM454 81h1v5h-1zM454 90h1v1h-1zM455 80h1v2h-1zM455 83h1v5h-1zM455 89h1v1h-1zM456 81h1v5h-1zM456 87h1v1h-1zM457 81h1v5h-1zM458 81h1v5h-1zM458 91h1v1h-1zM459 77h1v1h-1zM459 81h1v1h-1zM459 84h1v6h-1zM460 79h1v1h-1zM460 82h1v1h-1zM460 84h1v2h-1zM460 87h1v1h-1zM460 89h1v2h-1zM460 92h1v1h-1zM461 81h1v8h-1zM461 90h1v1h-1zM462 82h1v7h-1zM463 82h1v7h-1zM463 91h1v1h-1zM464 68h1v1h-1zM464 84h1v6h-1zM464 91h1v1h-1zM464 93h1v1h-1zM465 84h1v2h-1zM465 87h1v6h-1zM465 94h1v1h-1zM466 80h1v1h-1zM466 82h1v1h-1zM466 85h1v3h-1zM466 89h1v1h-1zM467 81h1v2h-1zM467 85h1v6h-1zM468 82h1v1h-1zM468 85h1v3h-1zM468 90h1v1h-1zM469 82h1v9h-1zM470 84h1v5h-1zM471 85h1v4h-1zM471 90h1v2h-1zM471 94h1v1h-1zM472 86h1v5h-1zM473 79h1v1h-1zM473 83h1v1h-1zM473 85h1v2h-1zM473 88h1v2h-1zM473 91h1v3h-1zM473 97h1v1h-1zM474 85h1v5h-1zM474 91h1v1h-1zM475 84h1v1h-1zM475 86h1v3h-1zM476 84h1v3h-1zM477 76h1v1h-1zM477 79h1v2h-1zM477 82h1v6h-1zM477 89h1v1h-1zM478 79h1v3h-1zM478 84h1v6h-1zM478 94h1v1h-1zM478 96h1v1h-1zM479 79h1v2h-1zM479 82h1v5h-1zM479 88h1v1h-1zM479 90h1v2h-1zM480 79h1v1h-1zM480 81h1v5h-1zM481 80h1v2h-1zM481 83h1v3h-1zM481 87h1v2h-1zM481 90h1v1h-1zM482 76h1v1h-1zM482 82h1v7h-1zM482 91h1v1h-1zM483 77h1v1h-1zM483 80h1v1h-1zM483 84h1v3h-1zM483 89h1v3h-1zM484 80h1v1h-1zM484 83h1v5h-1zM485 74h1v1h-1zM485 82h1v1h-1zM485 84h1v6h-1zM485 92h1v1h-1zM485 94h1v1h-1zM486 79h1v1h-1zM486 84h1v4h-1zM486 90h1v1h-1zM486 92h1v1h-1zM486 94h1v2h-1zM487 82h1v6h-1zM487 89h1v1h-1zM488 77h1v2h-1zM488 80h1v1h-1zM488 84h1v4h-1zM488 89h1v1h-1zM488 92h1v2h-1zM489 76h1v1h-1zM489 80h1v4h-1zM489 85h1v2h-1zM489 94h1v1h-1zM490 82h1v3h-1zM491 77h1v1h-1zM491 79h1v2h-1zM491 82h1v3h-1zM492 74h1v1h-1zM492 77h1v2h-1zM492 80h1v1h-1zM492 83h1v1h-1zM492 86h1v3h-1zM492 90h1v1h-1zM492 98h1v1h-1zM493 79h1v1h-1zM493 81h1v4h-1zM493 86h1v2h-1zM493 89h1v1h-1zM494 71h1v1h-1zM494 78h1v8h-1zM495 77h1v2h-1zM495 80h1v3h-1zM495 84h1v1h-1zM496 77h1v1h-1zM496 79h1v4h-1zM496 84h1v1h-1zM496 91h1v1h-1zM497 76h1v1h-1zM497 79h1v6h-1zM498 77h1v6h-1zM499 74h1v2h-1zM499 77h1v1h-1zM499 79h1v2h-1zM499 82h1v1h-1zM499 86h1v1h-1zM499 89h1v2h-1zM500 76h1v1h-1zM500 78h1v5h-1zM500 84h1v1h-1zM500 87h1v1h-1zM501 77h1v7h-1zM502 73h1v1h-1zM502 75h1v4h-1zM502 80h1v5h-1zM503 73h1v1h-1zM503 78h1v1h-1zM503 80h1v4h-1zM504 78h1v1h-1zM504 81h1v6h-1zM505 79h1v5h-1zM505 85h1v1h-1zM506 80h1v2h-1zM506 83h1v4h-1zM506 88h1v1h-1zM507 74h1v1h-1zM507 76h1v1h-1zM507 78h1v4h-1zM507 83h1v1h-1zM507 87h1v1h-1zM507 89h1v1h-1zM508 70h1v2h-1zM508 78h1v4h-1zM508 83h1v3h-1zM509 78h1v5h-1zM509 84h1v2h-1zM510 77h1v7h-1zM510 85h1v1h-1zM510 99h1v1h-1zM511 61h1v1h-1zM511 71h1v1h-1zM511 76h1v2h-1zM511 79h1v4h-1zM511 84h1v2h-1zM511 92h1v1h-1zM512 75h1v1h-1zM512 77h1v4h-1zM512 82h1v3h-1zM512 87h1v1h-1zM512 89h1v2h-1zM512 92h1v2h-1zM513 79h1v1h-1zM513 81h1v7h-1zM514 79h1v2h-1zM514 82h1v3h-1zM514 86h1v1h-1zM515 75h1v1h-1zM515 79h1v1h-1zM515 81h1v6h-1zM515 89h1v1h-1zM516 76h1v1h-1zM516 81h1v5h-1zM516 87h1v1h-1zM517 81h1v3h-1zM517 85h1v3h-1zM517 89h1v1h-1zM517 94h1v1h-1zM517 96h1v1h-1zM518 78h1v1h-1zM518 80h1v5h-1zM518 86h1v1h-1zM518 92h1v1h-1zM519 81h1v2h-1zM519 84h1v6h-1zM519 91h1v1h-1zM520 83h1v1h-1zM520 85h1v1h-1zM520 87h1v3h-1zM520 91h1v1h-1zM521 84h1v5h-1zM522 81h1v1h-1zM522 85h1v4h-1zM522 90h1v2h-1zM522 93h1v2h-1zM523 83h1v3h-1zM523 87h1v5h-1zM523 94h1v1h-1zM524 81h1v3h-1zM524 85h1v3h-1zM525 82h1v7h-1zM526 80h1v7h-1zM527 70h1v1h-1zM527 77h1v2h-1zM527 81h1v1h-1zM527 83h1v2h-1zM527 87h1v1h-1zM528 83h1v5h-1zM528 89h1v2h-1zM529 80h1v2h-1zM529 83h1v4h-1zM529 88h1v2h-1zM529 92h1v1h-1zM530 81h1v1h-1zM530 83h1v5h-1zM531 78h1v1h-1zM531 82h1v3h-1zM531 86h1v1h-1zM532 83h1v5h-1zM532 90h1v1h-1zM533 77h1v8h-1zM534 71h1v1h-1zM534 81h1v5h-1zM534 87h1v1h-1zM535 79h1v6h-1zM536 81h1v2h-1zM536 84h1v6h-1zM536 94h1v1h-1zM537 81h1v1h-1zM537 83h1v5h-1zM538 81h1v1h-1zM538 83h1v7h-1zM539 81h1v3h-1zM539 85h1v1h-1zM539 88h1v1h-1zM540 79h1v6h-1zM541 80h1v1h-1zM541 82h1v3h-1zM542 83h1v1h-1zM542 85h1v5h-1zM543 76h1v1h-1zM543 79h1v2h-1zM543 82h1v2h-1zM543 85h1v4h-1zM543 93h1v1h-1zM544 80h1v1h-1zM544 83h1v7h-1zM545 80h1v1h-1zM545 82h1v7h-1zM545 91h1v1h-1zM546 77h1v2h-1zM546 80h1v8h-1zM547 77h1v7h-1zM547 85h1v2h-1zM547 88h1v1h-1zM548 79h1v10h-1zM548 90h1v1h-1zM549 81h1v1h-1zM549 83h1v3h-1zM550 78h1v1h-1zM550 81h1v5h-1zM550 87h1v2h-1zM551 73h1v1h-1zM551 77h1v1h-1zM551 80h1v1h-1zM551 82h1v3h-1zM551 88h1v1h-1zM551 101h1v1h-1zM552 72h1v1h-1zM552 77h1v4h-1zM552 82h1v2h-1zM552 91h1v1h-1zM553 77h1v1h-1zM553 79h1v4h-1zM553 85h1v1h-1zM554 80h1v5h-1zM555 73h1v1h-1zM555 77h1v3h-1zM555 83h1v4h-1zM556 79h1v1h-1zM556 81h1v3h-1zM557 74h1v1h-1zM557 77h1v3h-1zM557 81h1v4h-1zM557 86h1v1h-1zM558 76h1v2h-1zM558 79h1v4h-1zM558 84h1v1h-1zM559 79h1v5h-1zM560 72h1v1h-1zM560 76h1v1h-1zM560 78h1v1h-1zM560 80h1v1h-1zM560 82h1v6h-1zM560 89h1v1h-1zM561 79h1v7h-1zM562 77h1v8h-1zM562 86h1v1h-1zM563 75h1v1h-1zM563 79h1v1h-1zM563 82h1v5h-1zM563 88h1v1h-1zM564 77h1v1h-1zM564 80h1v5h-1zM565 80h1v6h-1zM565 87h1v2h-1zM565 90h1v1h-1zM566 80h1v6h-1zM567 77h1v3h-1zM567 81h1v6h-1zM567 88h1v1h-1zM568 81h1v7h-1zM569 80h1v1h-1zM569 82h1v5h-1zM570 76h1v1h-1zM570 81h1v3h-1zM570 85h1v2h-1zM570 88h1v4h-1zM570 93h1v1h-1zM571 76h1v1h-1zM571 78h1v1h-1zM571 80h1v5h-1zM572 80h1v3h-1zM572 84h1v1h-1zM573 79h1v6h-1zM573 86h1v2h-1zM574 75h1v1h-1zM574 79h1v2h-1zM574 82h1v5h-1zM575 80h1v4h-1zM576 77h1v6h-1zM576 84h1v1h-1zM577 76h1v6h-1zM578 68h1v1h-1zM578 73h1v1h-1zM578 76h1v3h-1zM578 80h1v2h-1zM578 83h1v1h-1zM579 69h1v1h-1zM579 75h1v1h-1zM579 78h1v4h-1zM579 83h1v2h-1zM579 88h1v1h-1zM579 96h1v1h-1zM580 77h1v3h-1zM580 82h1v2h-1zM580 85h1v3h-1zM580 92h1v1h-1zM581 78h1v1h-1zM581 80h1v3h-1zM581 85h1v1h-1zM582 70h1v1h-1zM582 75h1v1h-1zM582 80h1v8h-1zM583 79h1v1h-1zM583 81h1v2h-1zM583 85h1v1h-1zM583 87h1v1h-1zM583 89h1v3h-1zM583 93h1v1h-1zM583 102h1v1h-1zM584 82h1v1h-1zM584 84h1v4h-1zM585 82h1v1h-1zM585 84h1v4h-1zM586 83h1v4h-1zM586 93h1v1h-1zM587 83h1v6h-1zM588 81h1v1h-1zM588 83h1v6h-1zM589 84h1v7h-1zM590 79h1v1h-1zM590 83h1v1h-1zM590 85h1v6h-1zM590 92h1v1h-1zM591 79h1v1h-1zM591 84h1v3h-1zM591 88h1v1h-1zM591 92h1v2h-1zM592 85h1v7h-1zM593 82h1v6h-1zM594 83h1v5h-1zM595 75h1v1h-1zM595 78h1v1h-1zM595 80h1v7h-1zM595 88h1v2h-1zM595 91h1v1h-1zM596 82h1v4h-1zM596 88h1v1h-1zM597 78h1v1h-1zM597 81h1v4h-1zM597 87h1v3h-1zM597 91h1v1h-1zM598 82h1v4h-1zM599 81h1v5h-1zM600 72h1v1h-1zM600 74h1v1h-1zM600 76h1v4h-1zM600 81h1v2h-1zM600 84h1v3h-1zM600 88h1v1h-1zM600 98h1v1h-1zM601 68h1v1h-1zM601 73h1v1h-1zM601 77h1v2h-1zM601 80h1v4h-1zM601 85h1v1h-1zM601 97h1v1h-1zM602 71h1v1h-1zM602 74h1v1h-1zM602 78h1v1h-1zM602 80h1v6h-1zM602 87h1v1h-1zM603 79h1v1h-1zM603 81h1v5h-1zM604 79h1v8h-1zM605 77h1v1h-1zM605 81h1v2h-1zM605 84h1v5h-1zM606 78h1v1h-1zM606 81h1v1h-1zM606 83h1v6h-1zM607 78h1v1h-1zM607 81h1v4h-1zM607 86h1v2h-1zM607 91h1v1h-1zM607 95h1v1h-1zM608 77h1v1h-1zM608 80h1v5h-1zM608 86h1v2h-1zM608 90h1v1h-1zM609 76h1v3h-1zM609 81h1v3h-1zM609 85h1v4h-1zM610 81h1v5h-1zM611 75h1v2h-1zM611 79h1v1h-1zM611 82h1v1h-1zM611 84h1v2h-1zM611 87h1v1h-1zM611 89h1v1h-1zM611 92h1v2h-1zM611 96h1v1h-1zM612 85h1v4h-1zM613 78h1v1h-1zM613 84h1v1h-1zM613 86h1v3h-1zM613 90h1v2h-1zM613 99h1v1h-1zM614 86h1v5h-1zM614 95h1v1h-1zM615 77h1v1h-1zM615 82h1v7h-1zM615 90h1v1h-1zM615 94h1v1h-1zM615 97h1v1h-1zM616 82h1v8h-1zM616 91h1v2h-1zM617 83h1v5h-1zM617 89h1v3h-1zM618 84h1v5h-1zM618 91h1v1h-1zM619 83h1v3h-1zM619 87h1v4h-1zM619 94h1v1h-1zM620 85h1v9h-1zM621 86h1v2h-1zM621 89h1v3h-1zM621 93h1v1h-1zM622 89h1v6h-1zM623 85h1v3h-1zM623 89h1v4h-1zM623 94h1v3h-1zM624 86h1v1h-1zM624 88h1v4h-1zM624 93h1v2h-1zM625 91h1v3h-1zM626 82h1v1h-1zM626 84h1v1h-1zM626 88h1v4h-1zM626 93h1v2h-1zM626 99h1v1h-1zM626 107h1v1h-1zM627 90h1v5h-1zM628 81h1v1h-1zM628 90h1v2h-1zM628 93h1v3h-1zM628 97h1v3h-1zM628 105h1v1h-1zM629 90h1v4h-1zM630 86h1v1h-1zM630 88h1v6h-1zM630 95h1v3h-1zM631 85h1v1h-1zM631 87h1v6h-1zM631 94h1v1h-1zM632 84h1v1h-1zM632 87h1v4h-1zM632 92h1v3h-1zM633 86h1v1h-1zM633 88h1v5h-1zM634 85h1v5h-1zM635 75h1v1h-1zM635 81h1v1h-1zM635 83h1v4h-1zM635 92h1v2h-1zM635 95h1v1h-1zM635 97h1v1h-1zM635 99h1v1h-1zM636 78h1v1h-1zM636 81h1v3h-1zM636 85h1v2h-1zM637 73h1v1h-1zM637 76h1v1h-1zM637 79h1v4h-1zM637 86h1v1h-1zM637 91h1v1h-1zM638 79h1v5h-1zM638 85h1v1h-1zM639 75h1v1h-1zM639 79h1v4h-1zM640 73h1v1h-1zM640 76h1v6h-1zM640 85h1v1h-1zM641 77h1v3h-1zM642 74h1v2h-1zM642 77h1v6h-1zM643 73h1v6h-1zM643 80h1v2h-1zM643 83h1v1h-1zM644 70h1v1h-1zM644 73h1v1h-1zM644 75h1v3h-1zM644 79h1v5h-1zM645 77h1v5h-1zM645 83h1v1h-1zM646 77h1v5h-1zM646 83h1v3h-1zM647 65h1v1h-1zM647 75h1v1h-1zM647 77h1v1h-1zM647 79h1v2h-1zM647 82h1v3h-1zM647 88h1v1h-1zM647 90h1v2h-1zM648 77h1v6h-1zM648 85h1v3h-1zM649 77h1v1h-1zM649 79h1v4h-1zM650 75h1v8h-1zM651 75h1v5h-1zM652 72h1v2h-1zM652 76h1v4h-1zM653 73h1v2h-1zM653 77h1v2h-1zM653 80h1v2h-1zM654 71h1v4h-1zM654 76h1v5h-1zM654 82h1v1h-1zM654 85h1v1h-1zM655 76h1v7h-1zM656 59h1v1h-1zM656 66h1v1h-1zM656 69h1v1h-1zM656 77h1v4h-1zM656 82h1v3h-1zM657 70h1v1h-1zM657 74h1v3h-1zM657 78h1v4h-1zM658 70h1v1h-1zM658 75h1v1h-1zM658 77h1v5h-1zM658 85h1v1h-1zM659 76h1v6h-1zM659 85h1v1h-1zM660 73h1v2h-1zM660 76h1v4h-1zM660 83h1v1h-1zM660 110h1v1h-1zM661 73h1v1h-1zM661 76h1v5h-1zM662 67h1v2h-1zM662 72h1v5h-1zM662 78h1v1h-1zM663 72h1v7h-1zM663 81h1v1h-1zM664 67h1v1h-1zM664 69h1v1h-1zM664 71h1v7h-1zM665 70h1v1h-1zM665 72h1v7h-1zM666 65h1v2h-1zM666 68h1v2h-1zM666 71h1v2h-1zM666 74h1v4h-1zM667 67h1v5h-1zM668 53h1v1h-1zM668 60h1v1h-1zM668 63h1v1h-1zM668 66h1v1h-1zM668 69h1v2h-1zM668 72h1v1h-1zM668 74h1v1h-1zM668 76h1v1h-1zM668 79h1v2h-1zM668 83h1v1h-1zM668 88h1v1h-1zM669 68h1v2h-1zM669 72h1v1h-1zM669 74h1v7h-1zM669 82h1v1h-1zM670 68h1v7h-1zM671 68h1v1h-1zM671 70h1v3h-1zM671 74h1v1h-1zM672 64h1v1h-1zM672 67h1v4h-1zM672 72h1v1h-1zM672 75h1v1h-1zM673 60h1v1h-1zM673 63h1v4h-1zM673 68h1v2h-1zM673 71h1v1h-1zM673 73h1v1h-1zM674 60h1v1h-1zM674 63h1v1h-1zM674 65h1v2h-1zM674 68h1v4h-1zM674 75h1v2h-1zM674 79h1v1h-1zM675 56h1v1h-1zM675 61h1v1h-1zM675 65h1v4h-1zM675 70h1v1h-1zM675 73h1v1h-1zM675 75h1v1h-1zM675 78h1v1h-1zM675 85h1v1h-1zM676 61h1v1h-1zM676 63h1v1h-1zM676 65h1v2h-1zM676 68h1v6h-1zM677 55h1v1h-1zM677 62h1v1h-1zM677 64h1v7h-1zM677 72h1v1h-1zM677 76h1v1h-1zM677 80h1v1h-1zM678 54h1v1h-1zM678 60h1v2h-1zM678 64h1v2h-1zM678 67h1v4h-1zM678 72h1v1h-1zM679 59h1v1h-1zM679 61h1v1h-1zM679 64h1v4h-1zM679 70h1v1h-1zM680 56h1v1h-1zM680 61h1v1h-1zM680 63h1v7h-1zM680 71h1v1h-1zM681 43h1v1h-1zM681 57h1v1h-1zM681 60h1v2h-1zM681 64h1v2h-1zM681 67h1v1h-1zM681 71h1v1h-1zM681 73h1v1h-1zM681 76h1v1h-1zM681 81h1v1h-1zM682 57h1v1h-1zM682 59h1v1h-1zM682 62h1v2h-1zM682 65h1v2h-1zM682 70h1v1h-1zM682 73h1v1h-1zM683 58h1v1h-1zM683 62h1v1h-1zM683 65h1v1h-1zM683 67h1v1h-1zM683 69h1v3h-1zM683 73h1v3h-1zM683 79h1v1h-1zM684 63h1v1h-1zM684 65h1v7h-1zM684 73h1v1h-1zM685 59h1v1h-1zM685 65h1v3h-1zM685 69h1v1h-1zM685 71h1v1h-1zM685 78h1v1h-1zM686 59h1v3h-1zM686 64h1v2h-1zM686 71h1v3h-1zM686 77h1v2h-1zM687 59h1v1h-1zM687 67h1v1h-1zM687 69h1v7h-1zM687 77h1v1h-1zM688 67h1v6h-1zM689 61h1v1h-1zM689 66h1v2h-1zM689 69h1v2h-1zM689 72h1v1h-1zM689 74h1v4h-1zM690 51h1v2h-1zM690 64h1v1h-1zM690 66h1v1h-1zM690 68h1v4h-1zM690 74h1v3h-1zM690 84h1v1h-1zM690 98h1v1h-1zM691 60h1v1h-1zM691 64h1v1h-1zM691 66h1v1h-1zM691 70h1v2h-1zM691 73h1v2h-1zM691 76h1v1h-1zM691 80h1v1h-1zM692 60h1v1h-1zM692 62h1v1h-1zM692 65h1v2h-1zM692 68h1v3h-1zM692 72h1v2h-1zM693 65h1v1h-1zM693 67h1v3h-1zM693 71h1v2h-1zM693 74h1v2h-1zM694 59h1v1h-1zM694 61h1v1h-1zM694 63h1v2h-1zM694 68h1v2h-1zM694 71h1v2h-1zM694 76h1v1h-1zM694 79h1v2h-1zM694 86h1v1h-1zM694 91h1v1h-1zM695 61h1v1h-1zM695 64h1v2h-1zM695 68h1v5h-1zM695 75h1v2h-1zM696 60h1v1h-1zM696 62h1v1h-1zM696 64h1v1h-1zM696 67h1v7h-1zM696 78h1v2h-1zM697 62h1v1h-1zM697 64h1v2h-1zM697 69h1v6h-1zM698 60h1v2h-1zM698 63h1v4h-1zM698 68h1v2h-1zM698 71h1v1h-1zM698 74h1v1h-1zM699 59h1v1h-1zM699 62h1v2h-1zM699 65h1v1h-1zM699 67h1v3h-1zM699 72h1v2h-1zM699 75h1v1h-1zM699 77h1v1h-1zM700 61h1v1h-1zM700 64h1v1h-1zM700 67h1v2h-1zM700 70h1v2h-1zM700 75h1v3h-1zM700 84h1v1h-1zM701 64h1v1h-1zM701 69h1v4h-1zM701 75h1v1h-1zM701 77h1v2h-1zM702 64h1v2h-1zM702 69h1v7h-1zM702 80h1v1h-1zM702 82h1v1h-1zM703 71h1v6h-1zM704 60h1v1h-1zM704 69h1v1h-1zM704 72h1v1h-1zM704 74h1v1h-1zM704 76h1v1h-1zM704 79h1v1h-1zM704 81h1v3h-1zM704 111h1v1h-1zM705 69h1v4h-1zM705 77h1v2h-1zM705 80h1v1h-1zM705 84h1v1h-1zM705 89h1v1h-1zM706 69h1v1h-1zM706 75h1v4h-1zM706 80h1v4h-1zM707 76h1v2h-1zM707 79h1v6h-1zM707 86h1v1h-1zM707 89h1v1h-1zM708 72h1v1h-1zM708 76h1v1h-1zM708 78h1v7h-1zM708 89h1v1h-1zM709 69h1v1h-1zM709 72h1v2h-1zM709 77h1v4h-1zM709 82h1v1h-1zM709 84h1v2h-1zM709 93h1v1h-1zM710 72h1v1h-1zM710 78h1v5h-1zM710 84h1v2h-1zM710 93h1v1h-1zM711 68h1v3h-1zM711 74h1v5h-1zM711 80h1v1h-1zM711 89h1v1h-1zM712 58h1v1h-1zM712 64h1v1h-1zM712 69h1v5h-1zM712 75h1v1h-1zM712 77h1v1h-1zM712 85h1v1h-1zM713 72h1v1h-1zM713 74h1v7h-1zM713 82h1v2h-1zM714 66h1v1h-1zM714 68h1v1h-1zM714 70h1v2h-1zM714 73h1v2h-1zM714 76h1v1h-1zM714 78h1v1h-1zM714 80h1v1h-1zM715 59h1v1h-1zM715 69h1v3h-1zM715 75h1v2h-1zM715 82h1v1h-1zM715 88h1v1h-1zM716 61h1v1h-1zM716 70h1v3h-1zM716 74h1v2h-1zM716 77h1v2h-1zM716 82h1v2h-1zM716 87h1v1h-1zM716 92h1v2h-1zM717 71h1v1h-1zM717 74h1v4h-1zM717 79h1v1h-1zM717 82h1v1h-1zM718 76h1v6h-1zM719 69h1v1h-1zM719 73h1v4h-1zM719 80h1v2h-1zM719 83h1v1h-1zM720 54h1v1h-1zM720 56h1v1h-1zM720 67h1v1h-1zM720 73h1v1h-1zM720 75h1v2h-1zM720 85h1v1h-1zM720 93h1v1h-1zM720 96h1v1h-1zM720 109h1v3h-1zM721 68h1v1h-1zM721 72h1v1h-1zM721 77h1v5h-1zM721 88h1v1h-1zM722 72h1v1h-1zM722 74h1v3h-1zM722 78h1v2h-1zM722 85h1v1h-1zM723 64h1v1h-1zM723 67h1v1h-1zM723 69h1v1h-1zM723 74h1v3h-1zM723 78h1v1h-1zM723 81h1v1h-1zM723 84h1v1h-1zM723 86h1v3h-1zM724 74h1v1h-1zM724 76h1v5h-1zM724 83h1v1h-1zM724 88h1v1h-1zM725 59h1v1h-1zM725 67h1v1h-1zM725 73h1v1h-1zM725 75h1v1h-1zM725 79h1v3h-1zM725 83h1v2h-1zM725 86h1v2h-1zM725 94h1v1h-1zM726 79h1v8h-1zM726 88h1v1h-1zM727 70h1v1h-1zM727 73h1v1h-1zM727 75h1v1h-1zM727 77h1v1h-1zM727 79h1v5h-1zM727 85h1v1h-1zM727 88h1v2h-1zM727 92h1v2h-1zM728 76h1v8h-1zM728 85h1v3h-1zM729 76h1v4h-1zM729 81h1v4h-1zM729 87h1v1h-1zM730 71h1v1h-1zM730 75h1v2h-1zM730 78h1v4h-1zM730 83h1v3h-1zM731 65h1v1h-1zM731 70h1v1h-1zM731 72h1v4h-1zM731 79h1v1h-1zM731 82h1v3h-1zM732 70h1v1h-1zM732 72h1v2h-1zM732 75h1v2h-1zM732 78h1v3h-1zM732 86h1v1h-1zM733 77h1v2h-1zM733 80h1v3h-1zM733 85h1v1h-1zM733 88h1v1h-1zM734 75h1v2h-1zM734 78h1v2h-1zM734 81h1v3h-1zM734 85h1v1h-1zM734 92h1v1h-1zM734 106h1v1h-1zM735 72h1v1h-1zM735 78h1v6h-1zM735 86h1v2h-1zM735 92h1v1h-1zM736 71h1v1h-1zM736 78h1v5h-1zM736 86h1v1h-1zM736 89h1v1h-1zM737 59h1v1h-1zM737 68h1v1h-1zM737 75h1v2h-1zM737 78h1v1h-1zM737 80h1v3h-1zM737 84h1v1h-1zM737 86h1v3h-1zM737 93h1v1h-1zM737 96h1v1h-1zM738 85h1v3h-1zM738 89h1v1h-1zM738 92h1v1h-1zM739 78h1v1h-1zM739 80h1v2h-1zM739 83h1v4h-1zM739 88h1v3h-1zM740 79h1v1h-1zM740 81h1v1h-1zM740 83h1v6h-1zM741 82h1v2h-1zM741 85h1v4h-1zM741 92h1v1h-1zM742 68h1v1h-1zM742 71h1v1h-1zM742 73h1v1h-1zM742 78h1v1h-1zM742 81h1v1h-1zM742 83h1v1h-1zM742 85h1v1h-1zM742 87h1v2h-1zM742 93h1v1h-1zM742 100h1v2h-1zM743 77h1v2h-1zM743 80h1v1h-1zM743 84h1v3h-1zM743 88h1v2h-1zM743 91h1v1h-1zM743 93h1v1h-1zM743 96h1v1h-1zM743 117h1v1h-1zM744 77h1v1h-1zM744 81h1v4h-1zM745 71h1v2h-1zM745 75h1v1h-1zM745 77h1v3h-1zM745 82h1v3h-1zM745 95h1v1h-1zM746 77h1v3h-1zM746 81h1v3h-1zM746 85h1v1h-1zM746 87h1v1h-1zM747 67h1v1h-1zM747 71h1v2h-1zM747 74h1v3h-1zM747 78h1v1h-1zM747 80h1v1h-1zM747 83h1v2h-1zM747 87h1v2h-1zM747 93h1v1h-1zM748 72h1v2h-1zM748 75h1v7h-1zM748 85h1v1h-1zM748 90h1v1h-1zM749 71h1v1h-1zM749 73h1v1h-1zM749 75h1v3h-1zM749 79h1v4h-1zM749 84h1v1h-1zM749 88h1v1h-1zM750 72h1v1h-1zM750 74h1v9h-1z" fill="#ff0000" shape-rendering="crispEdges"/>
<path d="M75 71h1v3h-1zM76 72h1v2h-1zM77 71h1v3h-1zM78 72h1v2h-1zM79 72h1v2h-1zM80 71h1v2h-1zM81 71h1v2h-1zM82 70h1v3h-1zM83 69h1v4h-1zM84 70h1v2h-1zM85 69h1v3h-1zM86 68h1v3h-1zM87 67h1v3h-1zM88 64h1v3h-1zM89 60h1v4h-1zM90 61h1v2h-1zM91 60h1v4h-1zM92 62h1v2h-1zM93 62h1v2h-1zM94 62h1v2h-1zM95 64h1v2h-1zM96 67h1v3h-1zM97 68h1v3h-1zM98 68h1v3h-1zM99 68h1v3h-1zM100 68h1v3h-1zM101 69h1v2h-1zM102 69h1v3h-1zM103 69h1v4h-1zM104 70h1v3h-1zM105 70h1v3h-1zM106 71h1v2h-1zM107 71h1v3h-1zM108 72h1v1h-1zM109 72h1v2h-1zM110 72h1v2h-1zM111 71h1v3h-1zM112 70h1v2h-1zM113 70h1v2h-1zM114 70h1v3h-1zM115 70h1v3h-1zM116 70h1v2h-1zM117 71h1v2h-1zM118 71h1v1h-1zM119 71h1v2h-1zM120 71h1v3h-1zM121 70h1v3h-1zM122 70h1v2h-1zM123 70h1v2h-1zM124 70h1v2h-1zM125 70h1v2h-1zM126 70h1v3h-1zM127 70h1v2h-1zM128 70h1v3h-1zM129 70h1v3h-1zM130 70h1v5h-1zM131 71h1v3h-1zM132 71h1v2h-1zM133 71h1v3h-1zM134 72h1v2h-1zM135 72h1v2h-1zM136 71h1v3h-1zM137 71h1v3h-1zM138 71h1v2h-1zM139 71h1v2h-1zM140 68h1v4h-1zM141 67h1v2h-1zM142 65h1v3h-1zM143 63h1v3h-1zM144 62h1v3h-1zM145 62h1v2h-1zM146 62h1v2h-1zM147 62h1v2h-1zM148 62h1v2h-1zM149 63h1v2h-1zM150 63h1v2h-1zM151 63h1v3h-1zM152 63h1v2h-1zM153 62h1v4h-1zM154 64h1v3h-1zM155 68h1v3h-1zM156 72h1v3h-1zM157 75h1v3h-1zM158 78h1v4h-1zM159 56h1v2h-1zM159 59h1v1h-1zM159 61h1v1h-1zM159 68h1v1h-1zM159 70h1v2h-1zM159 73h1v1h-1zM159 75h1v2h-1zM159 78h1v1h-1zM160 50h1v3h-1zM160 54h1v1h-1zM161 51h1v3h-1zM162 51h1v2h-1zM163 51h1v2h-1zM164 51h1v2h-1zM165 50h1v4h-1zM166 51h1v2h-1zM167 51h1v2h-1zM168 51h1v3h-1zM169 52h1v2h-1zM170 51h1v2h-1zM171 52h1v1h-1zM172 50h1v3h-1zM173 49h1v4h-1zM174 50h1v2h-1zM175 50h1v2h-1zM176 49h1v4h-1zM177 50h1v2h-1zM178 50h1v3h-1zM179 50h1v3h-1zM180 48h1v4h-1zM181 48h1v3h-1zM182 49h1v1h-1zM183 48h1v3h-1zM184 48h1v2h-1zM185 46h1v5h-1zM186 48h1v2h-1zM187 47h1v2h-1zM188 47h1v2h-1zM189 45h1v3h-1zM190 46h1v2h-1zM191 45h1v3h-1zM192 45h1v3h-1zM193 45h1v2h-1zM194 43h1v4h-1zM195 44h1v3h-1zM196 44h1v2h-1zM197 43h1v2h-1zM198 42h1v2h-1zM199 42h1v3h-1zM200 41h1v3h-1zM201 42h1v2h-1zM202 41h1v2h-1zM203 41h1v2h-1zM204 41h1v2h-1zM205 41h1v2h-1zM206 41h1v1h-1zM207 41h1v2h-1zM208 41h1v2h-1zM209 41h1v2h-1zM210 41h1v1h-1zM211 41h1v2h-1zM212 42h1v4h-1zM213 43h1v2h-1zM214 44h1v3h-1zM215 45h1v2h-1zM216 46h1v2h-1zM217 46h1v4h-1zM218 47h1v3h-1zM219 47h1v3h-1zM220 47h1v4h-1zM221 48h1v2h-1zM222 49h1v2h-1zM223 49h1v2h-1zM224 49h1v4h-1zM225 51h1v3h-1zM226 51h1v3h-1zM227 52h1v3h-1zM228 53h1v2h-1zM229 53h1v3h-1zM230 54h1v4h-1zM231 55h1v4h-1zM232 56h1v5h-1zM233 58h1v3h-1zM234 58h1v3h-1zM235 60h1v2h-1zM236 60h1v2h-1zM237 59h1v3h-1zM238 59h1v3h-1zM239 60h1v3h-1zM240 60h1v4h-1zM241 60h1v2h-1zM242 59h1v3h-1zM243 59h1v3h-1zM244 59h1v2h-1zM245 58h1v4h-1zM246 60h1v3h-1zM247 60h1v6h-1zM248 63h1v4h-1zM249 64h1v3h-1zM250 64h1v2h-1zM251 64h1v2h-1zM252 63h1v4h-1zM253 63h1v4h-1zM254 64h1v3h-1zM255 64h1v3h-1zM256 64h1v3h-1zM257 63h1v3h-1zM258 64h1v3h-1zM259 64h1v5h-1zM260 65h1v4h-1zM261 64h1v6h-1zM262 65h1v4h-1zM263 66h1v2h-1zM264 65h1v5h-1zM265 65h1v5h-1zM266 65h1v6h-1zM266 72h1v1h-1zM267 66h1v4h-1zM268 65h1v2h-1zM268 68h1v3h-1zM269 63h1v1h-1zM269 65h1v6h-1zM270 65h1v5h-1zM271 66h1v3h-1zM272 66h1v4h-1zM272 71h1v1h-1zM273 66h1v3h-1zM274 66h1v2h-1zM274 69h1v1h-1zM275 65h1v4h-1zM276 65h1v3h-1zM276 69h1v1h-1zM277 65h1v3h-1zM277 69h1v1h-1zM278 66h1v2h-1zM279 65h1v4h-1zM280 64h1v5h-1zM281 66h1v2h-1zM281 69h1v1h-1zM282 65h1v4h-1zM283 65h1v4h-1zM284 65h1v3h-1zM285 66h1v2h-1zM286 66h1v3h-1zM287 64h1v5h-1zM288 64h1v3h-1zM288 68h1v1h-1zM289 65h1v4h-1zM290 64h1v5h-1zM290 70h1v1h-1zM291 66h1v3h-1zM292 65h1v5h-1zM293 64h1v4h-1zM294 66h1v3h-1zM295 64h1v5h-1zM296 64h1v5h-1zM297 65h1v5h-1zM298 65h1v5h-1zM299 64h1v1h-1zM299 66h1v3h-1zM300 64h1v4h-1zM301 64h1v4h-1zM302 64h1v5h-1zM303 65h1v4h-1zM304 64h1v5h-1zM305 62h1v1h-1zM305 65h1v4h-1zM306 64h1v5h-1zM307 65h1v4h-1zM307 70h1v1h-1zM308 66h1v4h-1zM309 66h1v4h-1zM310 66h1v3h-1zM311 66h1v3h-1zM312 65h1v5h-1zM313 66h1v4h-1zM314 65h1v5h-1zM315 66h1v4h-1zM316 66h1v5h-1zM317 66h1v3h-1zM318 67h1v3h-1zM319 65h1v6h-1zM320 68h1v2h-1zM321 67h1v3h-1zM322 66h1v5h-1zM323 66h1v5h-1zM324 66h1v3h-1zM325 66h1v3h-1zM326 63h1v6h-1zM327 65h1v5h-1zM328 66h1v3h-1zM329 64h1v1h-1zM329 66h1v3h-1zM329 70h1v1h-1zM330 65h1v5h-1zM331 66h1v3h-1zM332 64h1v1h-1zM332 66h1v3h-1zM333 64h1v5h-1zM334 64h1v4h-1zM335 62h1v4h-1zM336 63h1v4h-1zM337 62h1v4h-1zM338 60h1v1h-1zM338 62h1v4h-1zM339 61h1v3h-1zM340 59h1v4h-1zM341 58h1v4h-1zM342 57h1v6h-1zM343 58h1v4h-1zM344 59h1v3h-1zM345 58h1v4h-1zM346 59h1v2h-1zM347 59h1v2h-1zM348 59h1v2h-1zM349 58h1v3h-1zM350 59h1v5h-1zM351 58h1v5h-1zM352 52h1v1h-1zM352 56h1v1h-1zM352 58h1v4h-1zM352 63h1v1h-1zM352 65h1v1h-1zM353 56h1v5h-1zM353 62h1v2h-1zM353 65h1v1h-1zM354 56h1v6h-1zM354 63h1v2h-1zM355 60h1v1h-1zM355 62h1v3h-1zM356 58h1v2h-1zM356 61h1v2h-1zM356 64h1v3h-1zM357 60h1v5h-1zM358 59h1v5h-1zM359 52h1v1h-1zM359 58h1v2h-1zM359 61h1v1h-1zM359 63h1v3h-1zM360 57h1v1h-1zM360 59h1v6h-1zM360 66h1v1h-1zM361 56h1v3h-1zM361 60h1v3h-1zM362 51h1v1h-1zM362 54h1v10h-1zM363 55h1v1h-1zM363 58h1v5h-1zM363 64h1v1h-1zM364 56h1v7h-1zM365 57h1v2h-1zM365 60h1v7h-1zM366 55h1v1h-1zM366 58h1v1h-1zM366 60h1v4h-1zM366 65h1v1h-1zM367 56h1v8h-1zM367 65h1v2h-1zM368 55h1v1h-1zM368 57h1v3h-1zM368 61h1v3h-1zM368 66h1v1h-1zM369 57h1v1h-1zM369 60h1v5h-1zM369 66h1v2h-1zM369 69h1v1h-1zM370 63h1v6h-1zM371 60h1v1h-1zM371 63h1v4h-1zM371 68h1v2h-1zM371 71h1v1h-1zM372 63h1v1h-1zM372 65h1v2h-1zM372 68h1v5h-1zM373 63h1v2h-1zM373 66h1v4h-1zM373 72h1v1h-1zM374 58h1v1h-1zM374 62h1v3h-1zM374 66h1v3h-1zM375 59h1v5h-1zM376 53h1v8h-1zM377 55h1v4h-1zM377 60h1v1h-1zM378 56h1v6h-1zM379 57h1v3h-1zM380 57h1v3h-1zM381 57h1v2h-1zM382 56h1v3h-1zM383 56h1v4h-1zM384 56h1v3h-1zM385 56h1v4h-1zM386 56h1v3h-1zM387 55h1v4h-1zM388 54h1v4h-1zM389 53h1v5h-1zM389 59h1v1h-1zM390 54h1v2h-1zM391 52h1v4h-1zM392 52h1v5h-1zM393 53h1v5h-1zM394 54h1v3h-1zM395 52h1v5h-1zM396 52h1v2h-1zM396 55h1v4h-1zM397 53h1v3h-1zM398 52h1v5h-1zM399 52h1v5h-1zM400 53h1v3h-1zM401 51h1v6h-1zM402 52h1v4h-1zM403 52h1v4h-1zM404 51h1v4h-1zM404 56h1v1h-1zM405 53h1v3h-1zM406 52h1v3h-1zM407 52h1v4h-1zM408 51h1v5h-1zM409 51h1v5h-1zM410 50h1v6h-1zM411 50h1v7h-1zM412 47h1v2h-1zM412 50h1v6h-1zM412 59h1v1h-1zM412 61h1v1h-1zM413 46h1v1h-1zM413 51h1v7h-1zM414 49h1v1h-1zM414 51h1v8h-1zM414 61h1v1h-1zM415 49h1v2h-1zM415 53h1v4h-1zM415 59h1v2h-1zM416 45h1v1h-1zM416 50h1v1h-1zM416 53h1v1h-1zM416 56h1v1h-1zM416 59h1v2h-1zM416 63h1v1h-1zM416 72h1v2h-1zM417 48h1v1h-1zM417 54h1v1h-1zM417 56h1v2h-1zM417 59h1v2h-1zM417 62h1v4h-1zM418 53h1v1h-1zM418 55h1v6h-1zM418 62h1v1h-1zM419 51h1v2h-1zM419 54h1v2h-1zM419 57h1v1h-1zM419 59h1v4h-1zM419 65h1v2h-1zM419 72h1v1h-1zM420 48h1v1h-1zM420 50h1v1h-1zM420 52h1v1h-1zM420 57h1v4h-1zM420 63h1v3h-1zM420 68h1v1h-1zM421 53h1v2h-1zM421 56h1v4h-1zM421 61h1v1h-1zM421 63h1v3h-1zM421 67h1v1h-1zM422 55h1v1h-1zM422 57h1v7h-1zM422 67h1v1h-1zM423 51h1v1h-1zM423 53h1v1h-1zM423 55h1v2h-1zM423 58h1v4h-1zM423 66h1v1h-1zM424 46h1v1h-1zM424 53h1v3h-1zM424 59h1v1h-1zM424 61h1v3h-1zM424 65h1v1h-1zM425 56h1v9h-1zM425 66h1v1h-1zM426 56h1v2h-1zM426 59h1v1h-1zM426 62h1v3h-1zM426 66h1v2h-1zM427 56h1v1h-1zM427 58h1v6h-1zM427 65h1v1h-1zM428 56h1v2h-1zM428 59h1v3h-1zM428 63h1v3h-1zM428 67h1v1h-1zM429 56h1v3h-1zM429 60h1v5h-1zM430 56h1v1h-1zM430 59h1v7h-1zM430 69h1v1h-1zM431 55h1v1h-1zM431 58h1v2h-1zM431 63h1v4h-1zM431 68h1v1h-1zM431 71h1v1h-1zM431 73h1v1h-1zM432 49h1v1h-1zM432 54h1v1h-1zM432 57h1v1h-1zM432 59h1v1h-1zM432 61h1v3h-1zM432 66h1v1h-1zM432 69h1v1h-1zM432 71h1v1h-1zM433 53h1v1h-1zM433 55h1v1h-1zM433 57h1v6h-1zM433 64h1v1h-1zM433 70h1v1h-1zM433 79h1v1h-1zM434 56h1v4h-1zM434 61h1v2h-1zM434 64h1v1h-1zM435 53h1v1h-1zM435 57h1v1h-1zM435 59h1v3h-1zM435 64h1v5h-1zM436 54h1v1h-1zM436 61h1v2h-1zM436 64h1v3h-1zM436 69h1v4h-1zM436 78h1v1h-1zM436 80h1v1h-1zM437 67h1v8h-1zM438 69h1v2h-1zM438 72h1v5h-1zM439 72h1v3h-1zM440 72h1v4h-1zM441 73h1v2h-1zM442 72h1v5h-1zM443 73h1v4h-1zM444 74h1v3h-1zM445 75h1v2h-1zM446 75h1v5h-1zM447 77h1v1h-1zM448 76h1v4h-1zM449 74h1v5h-1zM450 76h1v4h-1zM451 77h1v3h-1zM452 76h1v3h-1zM453 76h1v3h-1zM454 76h1v3h-1zM455 76h1v2h-1zM456 75h1v3h-1zM457 76h1v2h-1zM458 76h1v2h-1zM459 74h1v5h-1zM460 76h1v3h-1zM461 76h1v3h-1zM462 76h1v3h-1zM463 76h1v3h-1zM464 76h1v3h-1zM465 76h1v3h-1zM466 75h1v3h-1zM467 76h1v2h-1zM468 76h1v3h-1zM469 77h1v2h-1zM470 77h1v3h-1zM471 76h1v4h-1zM472 77h1v3h-1zM473 77h1v3h-1zM474 77h1v3h-1zM475 77h1v3h-1zM476 77h1v4h-1zM477 78h1v2h-1zM478 79h1v1h-1zM479 78h1v3h-1zM480 78h1v4h-1zM481 78h1v2h-1zM482 77h1v4h-1zM483 76h1v4h-1zM484 77h1v3h-1zM485 76h1v3h-1zM486 77h1v2h-1zM487 77h1v3h-1zM488 77h1v3h-1zM489 77h1v3h-1zM490 77h1v3h-1zM491 77h1v3h-1zM492 76h1v4h-1zM493 77h1v3h-1zM494 77h1v4h-1zM495 77h1v3h-1zM496 77h1v4h-1zM497 77h1v4h-1zM498 77h1v3h-1zM499 77h1v3h-1zM500 77h1v3h-1zM501 77h1v2h-1zM502 78h1v3h-1zM503 77h1v3h-1zM504 78h1v3h-1zM505 77h1v4h-1zM506 78h1v2h-1zM507 78h1v2h-1zM508 77h1v3h-1zM509 77h1v4h-1zM510 79h1v2h-1zM511 78h1v3h-1zM512 78h1v2h-1zM513 78h1v2h-1zM514 78h1v3h-1zM515 78h1v3h-1zM516 78h1v2h-1zM517 78h1v2h-1zM518 78h1v2h-1zM519 78h1v2h-1zM520 78h1v2h-1zM521 77h1v3h-1zM522 77h1v2h-1zM523 77h1v2h-1zM524 76h1v3h-1zM525 76h1v3h-1zM526 75h1v4h-1zM527 76h1v4h-1zM528 77h1v3h-1zM529 77h1v3h-1zM530 78h1v2h-1zM531 77h1v4h-1zM532 77h1v3h-1zM533 77h1v4h-1zM534 78h1v3h-1zM535 78h1v3h-1zM536 78h1v2h-1zM537 78h1v3h-1zM538 78h1v2h-1zM539 76h1v5h-1zM540 77h1v4h-1zM541 77h1v3h-1zM542 77h1v3h-1zM543 77h1v3h-1zM544 77h1v4h-1zM545 78h1v2h-1zM546 77h1v4h-1zM547 76h1v4h-1zM548 77h1v3h-1zM549 77h1v3h-1zM550 77h1v3h-1zM551 77h1v3h-1zM552 78h1v2h-1zM553 78h1v3h-1zM554 77h1v3h-1zM555 77h1v2h-1zM556 77h1v3h-1zM557 77h1v3h-1zM558 77h1v3h-1zM559 77h1v4h-1zM560 76h1v4h-1zM561 77h1v2h-1zM562 76h1v3h-1zM563 76h1v3h-1zM564 77h1v2h-1zM565 77h1v3h-1zM566 76h1v4h-1zM567 77h1v3h-1zM568 76h1v3h-1zM569 77h1v2h-1zM570 76h1v4h-1zM571 77h1v2h-1zM572 76h1v3h-1zM573 76h1v4h-1zM574 77h1v2h-1zM575 76h1v3h-1zM576 77h1v2h-1zM577 76h1v4h-1zM578 77h1v3h-1zM579 76h1v4h-1zM580 76h1v3h-1zM581 77h1v2h-1zM582 76h1v4h-1zM583 77h1v3h-1zM584 77h1v2h-1zM585 77h1v2h-1zM586 76h1v3h-1zM587 76h1v3h-1zM588 75h1v4h-1zM589 77h1v2h-1zM590 76h1v4h-1zM591 77h1v2h-1zM592 76h1v3h-1zM593 76h1v3h-1zM594 76h1v2h-1zM595 76h1v3h-1zM596 76h1v3h-1zM597 76h1v3h-1zM598 77h1v2h-1zM599 75h1v5h-1zM600 76h1v3h-1zM601 76h1v4h-1zM602 76h1v3h-1zM603 76h1v3h-1zM604 76h1v4h-1zM605 77h1v3h-1zM606 76h1v3h-1zM607 77h1v3h-1zM608 76h1v4h-1zM609 76h1v4h-1zM610 76h1v3h-1zM611 76h1v3h-1zM612 76h1v3h-1zM613 74h1v4h-1zM614 72h1v1h-1zM614 75h1v4h-1zM615 75h1v3h-1zM616 74h1v5h-1zM617 73h1v3h-1zM618 73h1v4h-1zM619 72h1v6h-1zM620 74h1v3h-1zM621 73h1v1h-1zM621 75h1v3h-1zM622 75h1v3h-1zM623 73h1v4h-1zM624 73h1v3h-1zM625 73h1v4h-1zM626 71h1v5h-1zM627 71h1v5h-1zM628 71h1v3h-1zM629 71h1v4h-1zM630 72h1v4h-1zM631 73h1v3h-1zM632 72h1v1h-1zM632 74h1v4h-1zM633 73h1v4h-1zM634 73h1v1h-1zM634 75h1v3h-1zM635 74h1v5h-1zM636 75h1v3h-1zM637 74h1v4h-1zM638 74h1v3h-1zM639 71h1v6h-1zM640 73h1v2h-1zM641 68h1v1h-1zM641 71h1v6h-1zM642 72h1v2h-1zM643 71h1v3h-1zM644 70h1v4h-1zM645 69h1v5h-1zM646 69h1v4h-1zM647 68h1v5h-1zM648 69h1v4h-1zM649 68h1v4h-1zM650 68h1v4h-1zM651 68h1v3h-1zM652 66h1v6h-1zM652 73h1v1h-1zM653 66h1v4h-1zM654 66h1v4h-1zM655 66h1v3h-1zM656 65h1v4h-1zM657 65h1v4h-1zM658 64h1v4h-1zM659 64h1v3h-1zM660 63h1v3h-1zM661 62h1v4h-1zM662 63h1v2h-1zM663 61h1v4h-1zM664 60h1v4h-1zM665 60h1v3h-1zM666 60h1v3h-1zM667 60h1v3h-1zM668 57h1v6h-1zM669 59h1v5h-1zM670 58h1v6h-1zM671 58h1v4h-1zM672 59h1v3h-1zM673 59h1v4h-1zM674 59h1v4h-1zM675 60h1v4h-1zM676 62h1v3h-1zM677 61h1v4h-1zM678 60h1v3h-1zM679 58h1v5h-1zM680 57h1v4h-1zM681 58h1v2h-1zM682 58h1v4h-1zM683 58h1v3h-1zM684 57h1v5h-1zM685 59h1v4h-1zM686 60h1v3h-1zM687 59h1v4h-1zM688 60h1v4h-1zM689 61h1v3h-1zM690 60h1v3h-1zM691 59h1v5h-1zM692 60h1v4h-1zM693 60h1v5h-1zM694 61h1v2h-1zM695 60h1v3h-1zM696 61h1v3h-1zM697 59h1v5h-1zM698 60h1v3h-1zM699 60h1v3h-1zM700 60h1v4h-1zM701 61h1v3h-1zM702 57h1v1h-1zM702 60h1v4h-1zM703 60h1v5h-1zM704 60h1v4h-1zM705 60h1v1h-1zM705 62h1v4h-1zM706 62h1v3h-1zM707 62h1v3h-1zM708 63h1v4h-1zM709 63h1v6h-1zM710 63h1v5h-1zM711 64h1v3h-1zM712 65h1v4h-1zM713 65h1v4h-1zM714 66h1v4h-1zM715 66h1v3h-1zM715 70h1v1h-1zM716 64h1v1h-1zM716 66h1v3h-1zM717 66h1v5h-1zM717 72h1v1h-1zM718 68h1v3h-1zM719 67h1v5h-1zM719 73h1v1h-1zM720 69h1v4h-1zM721 69h1v2h-1zM722 68h1v4h-1zM723 67h1v5h-1zM724 67h1v5h-1zM725 66h1v3h-1zM725 70h1v1h-1zM726 65h1v5h-1zM727 64h1v1h-1zM727 66h1v4h-1zM728 66h1v3h-1zM729 66h1v3h-1zM730 65h1v5h-1zM731 66h1v4h-1zM732 66h1v4h-1zM733 66h1v5h-1zM734 69h1v2h-1zM734 73h1v1h-1zM735 70h1v3h-1zM736 71h1v3h-1zM737 71h1v4h-1zM738 71h1v3h-1zM739 71h1v2h-1zM739 74h1v2h-1zM740 70h1v5h-1zM741 70h1v5h-1zM742 71h1v4h-1zM743 71h1v3h-1zM744 71h1v2h-1zM745 70h1v4h-1zM746 70h1v4h-1zM747 72h1v3h-1zM748 70h1v1h-1zM748 72h1v5h-1zM749 71h1v4h-1zM750 71h1v4h-1z" fill="#ffffff" shape-rendering="crispEdges"/>
<path d="M75 137h1v2h-1zM76 136h1v1h-1zM77 134h1v5h-1zM78 135h1v3h-1zM79 134h1v7h-1zM80 136h1v5h-1zM81 137h1v6h-1zM82 140h1v2h-1zM83 140h1v2h-1zM84 140h1v4h-1zM85 141h1v3h-1zM86 141h1v4h-1zM87 142h1v2h-1zM88 142h1v3h-1zM89 141h1v7h-1zM90 142h1v5h-1zM91 141h1v1h-1zM91 143h1v5h-1zM92 142h1v5h-1zM93 144h1v7h-1zM94 145h1v3h-1zM94 150h1v3h-1zM94 155h1v2h-1zM95 150h1v1h-1zM95 152h1v3h-1zM95 159h1v1h-1zM95 161h1v3h-1zM96 164h1v2h-1zM96 168h1v1h-1zM96 170h1v6h-1zM97 174h1v1h-1zM97 176h1v6h-1zM97 183h1v1h-1zM98 178h1v3h-1zM99 171h1v1h-1zM99 176h1v1h-1zM99 178h1v1h-1zM99 180h1v4h-1zM99 185h1v1h-1zM99 189h1v1h-1zM100 177h1v1h-1zM100 179h1v4h-1zM100 184h1v1h-1zM100 187h1v1h-1zM101 178h1v5h-1zM102 180h1v5h-1zM103 178h1v7h-1zM103 186h1v1h-1zM104 180h1v6h-1zM105 182h1v5h-1zM106 183h1v5h-1zM107 181h1v2h-1zM107 184h1v6h-1zM107 191h1v1h-1zM108 181h1v6h-1zM109 172h1v11h-1zM110 172h1v7h-1zM111 171h1v2h-1zM111 174h1v2h-1zM111 177h1v3h-1zM112 170h1v6h-1zM112 177h1v1h-1zM113 169h1v1h-1zM113 171h1v6h-1zM114 172h1v5h-1zM114 189h1v1h-1zM115 162h1v1h-1zM115 166h1v1h-1zM115 170h1v1h-1zM115 174h1v6h-1zM116 170h1v4h-1zM116 175h1v1h-1zM117 170h1v4h-1zM118 167h1v1h-1zM118 169h1v6h-1zM118 176h1v1h-1zM119 170h1v6h-1zM120 170h1v6h-1zM121 172h1v5h-1zM122 171h1v7h-1zM122 179h1v1h-1zM123 171h1v1h-1zM123 173h1v6h-1zM124 171h1v1h-1zM124 174h1v4h-1zM124 180h1v1h-1zM125 169h1v1h-1zM125 173h1v3h-1zM125 177h1v1h-1zM125 179h1v2h-1zM125 183h1v1h-1zM125 185h1v1h-1zM126 176h1v5h-1zM127 171h1v1h-1zM127 173h1v4h-1zM127 178h1v4h-1zM127 183h1v1h-1zM128 177h1v5h-1zM129 178h1v6h-1zM130 180h1v3h-1zM131 180h1v4h-1zM132 179h1v1h-1zM132 181h1v4h-1zM133 179h1v2h-1zM133 182h1v3h-1zM134 172h1v1h-1zM134 179h1v1h-1zM134 181h1v5h-1zM135 179h1v1h-1zM135 181h1v4h-1zM136 180h1v4h-1zM136 185h1v3h-1zM137 180h1v1h-1zM137 182h1v4h-1zM138 180h1v6h-1zM139 180h1v6h-1zM140 179h1v1h-1zM140 183h1v4h-1zM140 188h1v2h-1zM141 177h1v1h-1zM141 180h1v6h-1zM142 180h1v6h-1zM143 179h1v7h-1zM143 190h1v1h-1zM144 179h1v1h-1zM144 181h1v5h-1zM145 179h1v5h-1zM146 176h1v1h-1zM146 179h1v9h-1zM147 181h1v6h-1zM148 182h1v4h-1zM149 182h1v3h-1zM150 182h1v5h-1zM151 182h1v5h-1zM152 143h1v1h-1zM152 146h1v1h-1zM152 148h1v2h-1zM152 151h1v2h-1zM152 154h1v1h-1zM153 144h1v1h-1zM153 146h1v4h-1zM153 152h1v1h-1zM154 141h1v6h-1zM154 148h1v1h-1zM154 151h1v2h-1zM154 154h1v1h-1zM155 141h1v6h-1zM155 148h1v3h-1zM156 140h1v1h-1zM156 142h1v4h-1zM156 147h1v2h-1zM157 140h1v9h-1zM157 151h1v2h-1zM158 132h1v1h-1zM158 134h1v3h-1zM158 141h1v7h-1zM158 149h1v2h-1zM158 152h1v1h-1zM158 196h1v3h-1zM158 200h1v3h-1zM158 204h1v4h-1zM159 141h1v1h-1zM159 144h1v3h-1zM159 148h1v3h-1zM159 185h1v1h-1zM159 192h1v1h-1zM159 197h1v1h-1zM159 199h1v6h-1zM160 199h1v1h-1zM160 201h1v7h-1zM161 198h1v1h-1zM161 200h1v6h-1zM161 209h1v1h-1zM162 197h1v1h-1zM162 199h1v1h-1zM162 201h1v1h-1zM162 203h1v2h-1zM162 206h1v3h-1zM163 177h1v1h-1zM163 198h1v2h-1zM163 201h1v2h-1zM163 204h1v1h-1zM163 206h1v1h-1zM163 208h1v1h-1zM164 199h1v5h-1zM164 206h1v1h-1zM165 198h1v1h-1zM165 200h1v1h-1zM165 202h1v4h-1zM166 194h1v1h-1zM166 197h1v6h-1zM167 196h1v5h-1zM167 203h1v1h-1zM168 193h1v2h-1zM168 196h1v1h-1zM168 198h1v2h-1zM168 202h1v1h-1zM169 194h1v5h-1zM169 200h1v1h-1zM170 194h1v5h-1zM171 190h1v8h-1zM172 190h1v5h-1zM172 196h1v1h-1zM173 190h1v5h-1zM174 177h1v1h-1zM174 189h1v4h-1zM175 188h1v2h-1zM176 185h1v3h-1zM177 184h1v6h-1zM178 185h1v4h-1zM178 190h1v1h-1zM179 173h1v1h-1zM179 184h1v6h-1zM180 183h1v1h-1zM180 185h1v5h-1zM181 184h1v4h-1zM181 189h1v1h-1zM182 183h1v5h-1zM183 183h1v6h-1zM184 183h1v4h-1zM185 182h1v4h-1zM185 187h1v1h-1zM186 183h1v4h-1zM187 179h1v1h-1zM187 183h1v1h-1zM187 185h1v2h-1zM187 188h1v1h-1zM188 180h1v1h-1zM188 182h1v7h-1zM189 184h1v4h-1zM190 183h1v5h-1zM191 177h1v1h-1zM191 180h1v1h-1zM191 182h1v6h-1zM192 182h1v5h-1zM193 180h1v4h-1zM193 185h1v2h-1zM194 182h1v3h-1zM194 186h1v1h-1zM194 207h1v1h-1zM195 181h1v6h-1zM196 182h1v4h-1zM197 181h1v1h-1zM197 183h1v5h-1zM198 184h1v3h-1zM199 182h1v1h-1zM199 184h1v3h-1zM200 173h1v1h-1zM200 178h1v1h-1zM200 180h1v4h-1zM200 186h1v2h-1zM200 189h1v1h-1zM201 181h1v3h-1zM201 185h1v1h-1zM202 179h1v4h-1zM203 180h1v5h-1zM204 182h1v2h-1zM205 180h1v1h-1zM205 182h1v4h-1zM206 179h1v6h-1zM207 178h1v1h-1zM207 180h1v6h-1zM208 180h1v4h-1zM209 179h1v7h-1zM209 188h1v1h-1zM210 179h1v3h-1zM210 183h1v2h-1zM211 180h1v4h-1zM212 179h1v5h-1zM213 179h1v4h-1zM213 184h1v1h-1zM214 178h1v6h-1zM215 181h1v3h-1zM216 181h1v3h-1zM217 180h1v1h-1zM217 182h1v3h-1zM218 180h1v5h-1zM219 176h1v6h-1zM219 183h1v1h-1zM220 178h1v1h-1zM220 180h1v3h-1zM220 184h1v2h-1zM221 179h1v5h-1zM222 178h1v4h-1zM223 177h1v4h-1zM223 182h1v2h-1zM224 179h1v4h-1zM225 179h1v3h-1zM226 178h1v4h-1zM227 178h1v5h-1zM227 205h1v1h-1zM228 177h1v5h-1zM228 183h1v2h-1zM229 177h1v1h-1zM229 179h1v1h-1zM229 181h1v3h-1zM230 179h1v6h-1zM231 137h1v1h-1zM231 182h1v5h-1zM233 155h1v2h-1zM233 159h1v1h-1zM233 161h1v1h-1zM233 163h1v2h-1zM233 166h1v1h-1zM233 170h1v1h-1zM233 177h1v2h-1zM233 183h1v1h-1zM233 186h1v1h-1zM233 190h1v1h-1zM236 136h1v1h-1zM236 144h1v5h-1zM236 150h1v1h-1zM236 153h1v1h-1zM236 157h1v3h-1zM236 161h1v1h-1zM236 165h1v3h-1zM236 174h1v2h-1zM236 178h1v1h-1zM236 185h1v1h-1zM239 133h1v1h-1zM239 136h1v2h-1zM239 139h1v2h-1zM239 144h1v1h-1zM239 147h1v1h-1zM239 150h1v3h-1zM239 155h1v1h-1zM239 158h1v3h-1zM239 163h1v2h-1zM242 136h1v1h-1zM242 139h1v1h-1zM242 147h1v4h-1zM242 155h1v1h-1zM242 157h1v2h-1zM242 162h1v1h-1zM242 164h1v1h-1zM242 166h1v1h-1zM242 172h1v1h-1zM242 175h1v2h-1zM242 178h1v2h-1zM242 182h1v1h-1zM242 186h1v2h-1zM242 190h1v1h-1zM242 192h1v1h-1zM242 194h1v1h-1zM244 139h1v1h-1zM244 142h1v3h-1zM244 146h1v1h-1zM244 148h1v2h-1zM244 151h1v1h-1zM245 142h1v5h-1zM245 148h1v1h-1zM245 154h1v1h-1zM245 156h1v1h-1zM245 158h1v3h-1zM245 162h1v1h-1zM245 167h1v2h-1zM245 171h1v2h-1zM245 176h1v1h-1zM245 178h1v1h-1zM245 182h1v2h-1zM245 192h1v1h-1zM245 194h1v1h-1zM246 142h1v6h-1zM246 152h1v1h-1zM247 142h1v3h-1zM247 146h1v1h-1zM248 142h1v3h-1zM248 147h1v1h-1zM249 141h1v4h-1zM250 140h1v5h-1zM250 146h1v1h-1zM251 139h1v3h-1zM251 143h1v3h-1zM251 147h1v1h-1zM252 137h1v4h-1zM252 142h1v3h-1zM252 146h1v1h-1zM252 150h1v1h-1zM253 136h1v2h-1zM253 141h1v5h-1zM253 147h1v1h-1zM254 136h1v1h-1zM254 138h1v3h-1zM254 142h1v2h-1zM254 145h1v3h-1zM255 138h1v1h-1zM255 141h1v3h-1zM255 145h1v2h-1zM256 135h1v1h-1zM256 137h1v1h-1zM256 141h1v5h-1zM256 147h1v2h-1zM256 150h1v1h-1zM257 142h1v4h-1zM258 139h1v1h-1zM258 142h1v5h-1zM258 149h1v1h-1zM259 139h1v1h-1zM259 141h1v7h-1zM260 138h1v3h-1zM260 142h1v3h-1zM260 146h1v2h-1zM261 131h1v1h-1zM261 140h1v5h-1zM262 140h1v5h-1zM262 147h1v2h-1zM263 141h1v6h-1zM263 148h1v1h-1zM264 137h1v2h-1zM264 142h1v6h-1zM264 149h1v1h-1zM265 141h1v4h-1zM266 142h1v1h-1zM266 144h1v3h-1zM266 149h1v1h-1zM267 142h1v5h-1zM268 141h1v5h-1zM269 142h1v5h-1zM270 138h1v1h-1zM270 141h1v2h-1zM270 144h1v2h-1zM270 147h1v2h-1zM270 152h1v1h-1zM271 143h1v7h-1zM271 154h1v1h-1zM272 133h1v1h-1zM272 138h1v1h-1zM272 140h1v4h-1zM272 145h1v4h-1zM273 137h1v1h-1zM273 143h1v6h-1zM273 150h1v1h-1zM273 154h1v1h-1zM273 158h1v1h-1zM274 140h1v5h-1zM274 146h1v2h-1zM274 149h1v2h-1zM275 140h1v1h-1zM275 142h1v2h-1zM275 145h1v5h-1zM275 152h1v2h-1zM275 156h1v2h-1zM275 159h1v2h-1zM275 164h1v1h-1zM275 166h1v2h-1zM275 169h1v2h-1zM275 173h1v1h-1zM275 175h1v1h-1zM275 179h1v1h-1zM275 181h1v1h-1zM275 183h1v3h-1zM275 187h1v1h-1zM275 189h1v1h-1zM275 192h1v2h-1zM275 195h1v4h-1zM275 200h1v2h-1zM275 203h1v6h-1zM276 143h1v1h-1zM276 145h1v5h-1zM276 152h1v2h-1zM276 158h1v2h-1zM276 164h1v3h-1zM276 168h1v1h-1zM276 170h1v2h-1zM276 176h1v4h-1zM276 183h1v3h-1zM276 190h1v1h-1zM276 192h1v1h-1zM276 194h1v1h-1zM276 198h1v1h-1zM276 200h1v1h-1zM276 203h1v2h-1zM276 209h1v1h-1zM277 145h1v4h-1zM277 158h1v1h-1zM277 161h1v2h-1zM277 164h1v1h-1zM277 167h1v1h-1zM277 171h1v1h-1zM277 175h1v2h-1zM277 179h1v1h-1zM277 183h1v3h-1zM277 188h1v1h-1zM277 196h1v1h-1zM278 131h1v1h-1zM278 140h1v1h-1zM278 144h1v2h-1zM278 148h1v2h-1zM278 151h1v1h-1zM278 153h1v1h-1zM278 157h1v1h-1zM279 140h1v1h-1zM279 145h1v5h-1zM280 144h1v7h-1zM281 139h1v1h-1zM281 141h1v1h-1zM281 144h1v5h-1zM282 141h1v1h-1zM282 143h1v1h-1zM282 146h1v1h-1zM282 148h1v4h-1zM283 143h1v5h-1zM283 149h1v1h-1zM284 143h1v4h-1zM285 143h1v1h-1zM285 145h1v3h-1zM286 139h1v2h-1zM286 142h1v1h-1zM286 145h1v1h-1zM286 147h1v5h-1zM286 167h1v1h-1zM287 142h1v4h-1zM287 147h1v2h-1zM288 139h1v1h-1zM288 142h1v1h-1zM288 144h1v2h-1zM288 147h1v2h-1zM288 150h1v1h-1zM289 141h1v6h-1zM290 135h1v1h-1zM290 137h1v3h-1zM290 141h1v1h-1zM290 144h1v4h-1zM290 149h1v2h-1zM290 156h1v1h-1zM290 158h1v1h-1zM291 140h1v1h-1zM291 142h1v4h-1zM292 137h1v1h-1zM292 139h1v1h-1zM292 141h1v6h-1zM292 148h1v1h-1zM293 140h1v1h-1zM293 142h1v3h-1zM293 146h1v2h-1zM294 142h1v6h-1zM295 137h1v1h-1zM295 140h1v1h-1zM295 143h1v4h-1zM295 148h1v2h-1zM296 141h1v1h-1zM296 144h1v5h-1zM296 150h1v1h-1zM297 141h1v5h-1zM298 138h1v1h-1zM298 141h1v1h-1zM298 143h1v5h-1zM299 140h1v3h-1zM299 144h1v2h-1zM299 147h1v2h-1zM300 138h1v1h-1zM300 141h1v1h-1zM300 144h1v3h-1zM300 148h1v1h-1zM301 140h1v1h-1zM301 142h1v1h-1zM301 145h1v3h-1zM301 149h1v3h-1zM301 154h1v1h-1zM302 140h1v3h-1zM302 144h1v2h-1zM302 147h1v1h-1zM302 149h1v1h-1zM302 152h1v1h-1zM303 142h1v3h-1zM303 146h1v4h-1zM303 151h1v1h-1zM304 144h1v7h-1zM305 141h1v2h-1zM305 145h1v2h-1zM305 148h1v2h-1zM305 151h1v1h-1zM305 153h1v2h-1zM306 143h1v1h-1zM306 145h1v3h-1zM306 154h1v1h-1zM307 143h1v1h-1zM307 145h1v2h-1zM307 148h1v2h-1zM308 141h1v2h-1zM308 144h1v5h-1zM308 150h1v1h-1zM309 141h1v7h-1zM309 150h1v1h-1zM310 141h1v3h-1zM310 145h1v1h-1zM310 147h1v1h-1zM310 149h1v1h-1zM311 141h1v6h-1zM312 139h1v6h-1zM312 147h1v2h-1zM313 142h1v3h-1zM313 146h1v2h-1zM313 149h1v3h-1zM313 155h1v1h-1zM314 139h1v7h-1zM314 147h1v2h-1zM315 137h1v1h-1zM315 140h1v1h-1zM315 143h1v4h-1zM315 148h1v1h-1zM315 150h1v2h-1zM316 135h1v1h-1zM316 140h1v3h-1zM316 144h1v2h-1zM316 147h1v3h-1zM317 135h1v1h-1zM317 137h1v1h-1zM317 139h1v1h-1zM317 142h1v2h-1zM317 145h1v3h-1zM318 141h1v5h-1zM319 138h1v1h-1zM319 140h1v1h-1zM319 142h1v2h-1zM319 145h1v2h-1zM319 148h1v1h-1zM320 137h1v1h-1zM320 139h1v1h-1zM320 141h1v1h-1zM320 143h1v3h-1zM320 147h1v1h-1zM321 139h1v1h-1zM321 141h1v6h-1zM321 148h1v1h-1zM322 138h1v1h-1zM322 141h1v6h-1zM322 149h1v1h-1zM323 137h1v1h-1zM323 140h1v4h-1zM323 146h1v2h-1zM323 149h1v1h-1zM323 154h1v1h-1zM324 140h1v2h-1zM324 143h1v4h-1zM325 139h1v1h-1zM325 141h1v6h-1zM325 148h1v2h-1zM325 151h1v1h-1zM326 139h1v2h-1zM326 143h1v5h-1zM326 157h1v1h-1zM327 143h1v5h-1zM328 144h1v6h-1zM328 152h1v1h-1zM329 141h1v1h-1zM329 143h1v5h-1zM329 149h1v1h-1zM329 153h1v1h-1zM330 140h1v1h-1zM330 144h1v2h-1zM330 147h1v4h-1zM331 144h1v5h-1zM332 142h1v5h-1zM332 148h1v2h-1zM332 151h1v1h-1zM332 154h1v1h-1zM333 143h1v6h-1zM333 150h1v3h-1zM334 144h1v6h-1zM335 143h1v1h-1zM335 145h1v1h-1zM335 149h1v3h-1zM335 153h1v1h-1zM335 156h1v1h-1zM335 161h1v1h-1zM336 142h1v4h-1zM336 148h1v4h-1zM336 153h1v1h-1zM337 143h1v1h-1zM337 145h1v1h-1zM337 147h1v4h-1zM338 142h1v3h-1zM338 148h1v3h-1zM338 153h1v2h-1zM338 157h1v1h-1zM339 145h1v1h-1zM339 147h1v2h-1zM339 150h1v4h-1zM339 157h1v2h-1zM340 148h1v1h-1zM340 151h1v4h-1zM341 146h1v1h-1zM341 149h1v1h-1zM341 154h1v1h-1zM341 156h1v2h-1zM341 159h1v3h-1zM342 144h1v1h-1zM342 149h1v1h-1zM342 151h1v1h-1zM342 155h1v2h-1zM342 158h1v1h-1zM342 160h1v1h-1zM343 148h1v3h-1zM343 153h1v4h-1zM344 142h1v1h-1zM344 147h1v1h-1zM344 150h1v1h-1zM344 153h1v1h-1zM344 158h1v2h-1zM344 161h1v2h-1zM344 165h1v1h-1zM345 149h1v1h-1zM345 152h1v2h-1zM345 155h1v4h-1zM345 160h1v2h-1zM346 151h1v7h-1zM346 160h1v1h-1zM347 144h1v1h-1zM347 149h1v1h-1zM347 152h1v5h-1zM347 159h1v1h-1zM347 161h1v1h-1zM348 146h1v1h-1zM348 148h1v1h-1zM348 151h1v1h-1zM348 153h1v2h-1zM348 156h1v1h-1zM348 158h1v1h-1zM348 161h1v1h-1zM348 163h1v1h-1zM349 149h1v3h-1zM349 154h1v1h-1zM349 156h1v5h-1zM350 149h1v5h-1zM350 155h1v4h-1zM350 160h1v1h-1zM351 146h1v1h-1zM351 148h1v1h-1zM351 151h1v3h-1zM351 157h1v2h-1zM351 163h1v1h-1zM352 146h1v1h-1zM352 151h1v1h-1zM352 153h1v4h-1zM353 150h1v6h-1zM354 146h1v3h-1zM354 150h1v1h-1zM354 152h1v4h-1zM354 157h1v2h-1zM354 164h1v1h-1zM355 146h1v2h-1zM355 149h1v4h-1zM355 154h1v2h-1zM355 157h1v1h-1zM355 159h1v1h-1zM355 162h1v2h-1zM355 166h1v1h-1zM355 170h1v2h-1zM355 173h1v3h-1zM355 181h1v1h-1zM355 183h1v1h-1zM355 188h1v1h-1zM355 190h1v2h-1zM355 195h1v1h-1zM356 138h1v1h-1zM356 142h1v2h-1zM356 145h1v1h-1zM356 147h1v1h-1zM356 149h1v3h-1zM356 153h1v1h-1zM356 171h1v1h-1zM356 173h1v1h-1zM356 175h1v2h-1zM356 181h1v1h-1zM356 184h1v1h-1zM356 186h1v1h-1zM356 188h1v4h-1zM356 193h1v1h-1zM356 196h1v1h-1zM356 200h1v1h-1zM357 141h1v5h-1zM357 148h1v1h-1zM357 150h1v1h-1zM361 155h1v3h-1zM361 161h1v3h-1zM361 165h1v2h-1zM361 169h1v4h-1zM362 160h1v1h-1zM362 162h1v2h-1zM362 167h1v3h-1zM362 172h1v1h-1zM362 177h1v2h-1zM366 152h1v2h-1zM366 155h1v3h-1zM366 159h1v1h-1zM366 161h1v1h-1zM366 165h1v2h-1zM366 168h1v1h-1zM366 170h1v1h-1zM366 172h1v2h-1zM366 178h1v1h-1zM366 180h1v1h-1zM366 185h1v4h-1zM366 190h1v2h-1zM366 196h1v7h-1zM366 204h1v2h-1zM366 207h1v1h-1zM367 144h1v1h-1zM367 147h1v4h-1zM367 152h1v2h-1zM367 188h1v2h-1zM367 193h1v1h-1zM367 198h1v1h-1zM367 200h1v3h-1zM367 204h1v2h-1zM368 145h1v4h-1zM368 150h1v2h-1zM369 140h1v1h-1zM369 142h1v1h-1zM369 144h1v1h-1zM369 147h1v2h-1zM369 150h1v1h-1zM369 153h1v1h-1zM369 157h1v1h-1zM370 133h1v1h-1zM370 137h1v1h-1zM370 144h1v1h-1zM370 147h1v3h-1zM370 151h1v2h-1zM370 155h1v1h-1zM371 142h1v6h-1zM372 141h1v3h-1zM372 146h1v1h-1zM372 148h1v1h-1zM372 150h1v1h-1zM373 139h1v3h-1zM373 143h1v2h-1zM374 135h1v1h-1zM374 138h1v4h-1zM374 143h1v1h-1zM375 132h1v1h-1zM375 138h1v4h-1zM375 143h1v2h-1zM375 146h1v1h-1zM375 148h1v1h-1zM375 151h1v1h-1zM376 132h1v2h-1zM376 136h1v2h-1zM376 139h1v2h-1zM376 144h1v1h-1zM377 131h1v1h-1zM377 133h1v1h-1zM377 135h1v4h-1zM377 141h1v2h-1zM377 144h1v1h-1zM377 209h1v1h-1zM378 135h1v7h-1zM379 131h1v1h-1zM379 135h1v6h-1zM380 135h1v6h-1zM381 132h1v3h-1zM381 137h1v1h-1zM381 140h1v2h-1zM381 144h1v1h-1zM381 146h1v1h-1zM382 135h1v5h-1zM382 141h1v1h-1zM382 143h1v1h-1zM383 132h1v2h-1zM383 135h1v2h-1zM383 140h1v1h-1zM383 144h1v1h-1zM384 133h1v1h-1zM384 136h1v2h-1zM384 139h1v1h-1zM384 141h1v1h-1zM385 134h1v7h-1zM385 147h1v1h-1zM386 132h1v3h-1zM386 137h1v1h-1zM386 139h1v2h-1zM386 142h1v1h-1zM387 131h1v2h-1zM387 134h1v3h-1zM387 138h1v2h-1zM387 207h1v1h-1zM388 135h1v6h-1zM389 131h1v1h-1zM389 135h1v3h-1zM389 139h1v2h-1zM389 144h1v2h-1zM389 149h1v1h-1zM389 208h1v1h-1zM390 137h1v3h-1zM391 133h1v3h-1zM391 138h1v2h-1zM391 141h1v1h-1zM391 146h1v1h-1zM391 150h1v2h-1zM391 155h1v1h-1zM391 201h1v1h-1zM392 132h1v1h-1zM392 135h1v1h-1zM392 137h1v1h-1zM392 142h1v1h-1zM392 146h1v2h-1zM392 200h1v3h-1zM392 206h1v1h-1zM392 208h1v1h-1zM393 135h1v6h-1zM393 142h1v3h-1zM394 133h1v2h-1zM394 137h1v7h-1zM395 132h1v1h-1zM395 134h1v1h-1zM395 136h1v2h-1zM395 140h1v3h-1zM395 145h1v1h-1zM396 135h1v1h-1zM396 137h1v2h-1zM396 140h1v3h-1zM397 131h1v2h-1zM397 135h1v2h-1zM397 139h1v1h-1zM397 141h1v1h-1zM397 143h1v1h-1zM397 155h1v2h-1zM398 136h1v1h-1zM398 138h1v5h-1zM399 133h1v1h-1zM399 136h1v2h-1zM399 139h1v2h-1zM399 143h1v1h-1zM399 145h1v1h-1zM399 147h1v1h-1zM399 151h1v1h-1zM399 209h1v1h-1zM400 134h1v1h-1zM400 136h1v1h-1zM400 138h1v1h-1zM400 140h1v3h-1zM401 139h1v3h-1zM401 143h1v1h-1zM401 146h1v1h-1zM401 205h1v1h-1zM401 207h1v1h-1zM401 209h1v1h-1zM402 134h1v1h-1zM402 140h1v2h-1zM402 143h1v1h-1zM402 145h1v1h-1zM402 148h1v1h-1zM402 150h1v1h-1zM402 159h1v1h-1zM403 136h1v1h-1zM403 139h1v4h-1zM403 144h1v1h-1zM404 132h1v1h-1zM404 135h1v1h-1zM404 137h1v2h-1zM404 142h1v3h-1zM404 149h1v1h-1zM405 138h1v1h-1zM405 140h1v2h-1zM405 144h1v3h-1zM405 153h1v1h-1zM405 194h1v1h-1zM405 207h1v1h-1zM406 137h1v2h-1zM406 141h1v5h-1zM407 139h1v6h-1zM407 147h1v1h-1zM407 208h1v1h-1zM408 137h1v1h-1zM408 139h1v1h-1zM408 141h1v3h-1zM408 145h1v1h-1zM409 137h1v2h-1zM409 140h1v2h-1zM409 143h1v2h-1zM410 140h1v2h-1zM410 143h1v1h-1zM410 145h1v1h-1zM410 147h1v1h-1zM411 133h1v1h-1zM411 135h1v2h-1zM411 138h1v1h-1zM411 141h1v1h-1zM411 143h1v1h-1zM411 146h1v2h-1zM411 156h1v1h-1zM412 136h1v1h-1zM412 144h1v1h-1zM412 146h1v3h-1zM412 150h1v1h-1zM412 154h1v1h-1zM412 193h1v1h-1zM412 198h1v1h-1zM412 200h1v2h-1zM412 203h1v1h-1zM412 209h1v1h-1zM413 140h1v1h-1zM413 142h1v2h-1zM413 145h1v2h-1zM413 148h1v1h-1zM414 143h1v5h-1zM414 149h1v2h-1zM415 140h1v2h-1zM415 143h1v1h-1zM415 145h1v2h-1zM415 148h1v1h-1zM415 151h1v3h-1zM416 142h1v3h-1zM416 146h1v1h-1zM416 148h1v2h-1zM416 151h1v1h-1zM416 159h1v1h-1zM416 195h1v1h-1zM416 198h1v1h-1zM416 201h1v2h-1zM416 206h1v2h-1zM417 141h1v1h-1zM417 143h1v1h-1zM417 146h1v1h-1zM417 148h1v1h-1zM417 150h1v2h-1zM417 154h1v1h-1zM418 141h1v1h-1zM418 144h1v5h-1zM419 134h1v1h-1zM419 138h1v1h-1zM419 140h1v1h-1zM419 143h1v2h-1zM419 147h1v2h-1zM419 150h1v1h-1zM419 152h1v1h-1zM420 142h1v2h-1zM420 146h1v2h-1zM420 150h1v1h-1zM420 152h1v1h-1zM421 144h1v4h-1zM421 149h1v2h-1zM422 141h1v3h-1zM422 146h1v4h-1zM422 162h1v1h-1zM423 138h1v1h-1zM423 140h1v1h-1zM423 142h1v1h-1zM423 146h1v2h-1zM423 150h1v2h-1zM423 153h1v1h-1zM423 155h1v1h-1zM424 139h1v1h-1zM424 141h1v1h-1zM424 144h1v1h-1zM424 146h1v3h-1zM424 151h1v1h-1zM425 139h1v1h-1zM425 141h1v1h-1zM425 143h1v8h-1zM426 141h1v4h-1zM426 146h1v4h-1zM426 152h1v1h-1zM427 133h1v1h-1zM427 136h1v2h-1zM427 139h1v1h-1zM427 142h1v1h-1zM427 144h1v1h-1zM427 148h1v1h-1zM427 150h1v1h-1zM428 139h1v4h-1zM428 144h1v5h-1zM428 151h1v1h-1zM428 154h1v2h-1zM429 134h1v1h-1zM429 139h1v1h-1zM429 141h1v2h-1zM429 144h1v1h-1zM429 147h1v2h-1zM429 150h1v1h-1zM429 152h1v1h-1zM429 205h1v1h-1zM430 139h1v1h-1zM430 141h1v6h-1zM431 132h1v1h-1zM431 134h1v1h-1zM431 137h1v5h-1zM431 143h1v3h-1zM431 148h1v1h-1zM432 137h1v2h-1zM432 140h1v1h-1zM432 143h1v4h-1zM432 156h1v1h-1zM433 137h1v3h-1zM433 141h1v3h-1zM434 136h1v1h-1zM434 140h1v7h-1zM435 137h1v6h-1zM435 144h1v1h-1zM436 138h1v3h-1zM436 142h1v3h-1zM437 136h1v2h-1zM437 139h1v3h-1zM438 135h1v3h-1zM438 139h1v3h-1zM438 143h1v1h-1zM439 133h1v1h-1zM439 136h1v1h-1zM439 138h1v1h-1zM439 140h1v2h-1zM439 143h1v1h-1zM439 207h1v1h-1zM440 136h1v2h-1zM440 139h1v2h-1zM440 142h1v1h-1zM440 147h1v2h-1zM440 150h1v1h-1zM440 200h1v1h-1zM440 203h1v1h-1zM440 208h1v2h-1zM441 139h1v2h-1zM441 142h1v1h-1zM441 144h1v1h-1zM441 146h1v1h-1zM441 150h1v2h-1zM441 153h1v1h-1zM442 136h1v1h-1zM442 139h1v2h-1zM442 142h1v2h-1zM442 145h1v1h-1zM442 147h1v1h-1zM442 149h1v1h-1zM442 209h1v1h-1zM443 133h1v1h-1zM443 135h1v6h-1zM443 142h1v1h-1zM444 132h1v1h-1zM444 134h1v2h-1zM444 138h1v1h-1zM444 140h1v1h-1zM444 142h1v2h-1zM444 146h1v1h-1zM444 150h1v1h-1zM444 209h1v1h-1zM445 135h1v6h-1zM446 133h1v4h-1zM446 138h1v2h-1zM446 190h1v2h-1zM446 200h1v1h-1zM447 132h1v7h-1zM448 132h1v2h-1zM448 135h1v3h-1zM448 140h1v1h-1zM448 142h1v2h-1zM448 209h1v1h-1zM449 133h1v2h-1zM449 136h1v1h-1zM449 138h1v5h-1zM450 132h1v1h-1zM450 134h1v4h-1zM450 139h1v2h-1zM450 143h1v1h-1zM451 134h1v2h-1zM451 138h1v7h-1zM451 155h1v1h-1zM452 134h1v1h-1zM452 136h1v5h-1zM452 142h1v1h-1zM453 133h1v2h-1zM453 138h1v2h-1zM453 141h1v2h-1zM453 144h1v1h-1zM453 147h1v1h-1zM454 136h1v3h-1zM454 142h1v2h-1zM454 145h1v1h-1zM454 147h1v2h-1zM454 150h1v2h-1zM455 134h1v5h-1zM455 140h1v3h-1zM456 134h1v1h-1zM456 137h1v5h-1zM456 146h1v1h-1zM457 135h1v1h-1zM457 139h1v1h-1zM457 141h1v4h-1zM457 146h1v1h-1zM457 155h1v1h-1zM458 140h1v2h-1zM458 143h1v4h-1zM459 139h1v6h-1zM459 146h1v2h-1zM460 139h1v1h-1zM460 141h1v2h-1zM460 144h1v4h-1zM461 138h1v3h-1zM461 142h1v1h-1zM461 144h1v1h-1zM461 147h1v1h-1zM461 152h1v1h-1zM462 135h1v1h-1zM462 137h1v1h-1zM462 140h1v1h-1zM462 142h1v1h-1zM462 145h1v2h-1zM462 151h1v2h-1zM462 156h1v1h-1zM462 206h1v1h-1zM463 133h1v1h-1zM463 136h1v3h-1zM463 140h1v1h-1zM463 142h1v1h-1zM463 145h1v2h-1zM463 148h1v1h-1zM463 152h1v1h-1zM464 135h1v1h-1zM464 137h1v2h-1zM464 140h1v5h-1zM464 146h1v2h-1zM465 133h1v1h-1zM465 137h1v7h-1zM465 146h1v1h-1zM465 149h1v1h-1zM466 131h1v1h-1zM466 138h1v3h-1zM466 142h1v1h-1zM466 144h1v1h-1zM466 147h1v1h-1zM466 150h1v1h-1zM467 137h1v3h-1zM467 141h1v4h-1zM468 135h1v2h-1zM468 138h1v7h-1zM468 160h1v1h-1zM468 171h1v1h-1zM468 175h1v1h-1zM469 134h1v1h-1zM469 136h1v1h-1zM469 138h1v3h-1zM469 144h1v1h-1zM469 158h1v1h-1zM469 190h1v1h-1zM469 197h1v1h-1zM469 199h1v2h-1zM470 131h1v1h-1zM470 135h1v3h-1zM470 139h1v3h-1zM470 144h1v1h-1zM470 147h1v1h-1zM470 149h1v1h-1zM471 137h1v2h-1zM471 143h1v4h-1zM471 148h1v1h-1zM471 152h1v1h-1zM471 208h1v1h-1zM472 134h1v2h-1zM472 138h1v2h-1zM472 141h1v1h-1zM472 143h1v1h-1zM473 134h1v2h-1zM473 137h1v2h-1zM473 142h1v1h-1zM473 145h1v2h-1zM473 153h1v1h-1zM474 131h1v1h-1zM474 134h1v1h-1zM474 137h1v1h-1zM474 139h1v3h-1zM474 143h1v1h-1zM474 150h1v1h-1zM475 131h1v1h-1zM475 134h1v1h-1zM475 136h1v2h-1zM475 140h1v2h-1zM475 144h1v2h-1zM476 139h1v5h-1zM476 147h1v1h-1zM476 154h1v1h-1zM477 138h1v2h-1zM477 141h1v4h-1zM478 131h1v1h-1zM478 134h1v3h-1zM478 138h1v3h-1zM478 145h1v1h-1zM478 147h1v1h-1zM478 151h1v1h-1zM478 155h1v1h-1zM479 132h1v1h-1zM479 137h1v1h-1zM479 139h1v1h-1zM479 142h1v2h-1zM479 145h1v3h-1zM479 152h1v1h-1zM480 133h1v3h-1zM480 139h1v2h-1zM480 142h1v1h-1zM480 145h1v1h-1zM480 148h1v2h-1zM480 204h1v1h-1zM480 209h1v1h-1zM481 136h1v2h-1zM481 139h1v2h-1zM481 142h1v1h-1zM482 131h1v1h-1zM482 136h1v3h-1zM482 140h1v1h-1zM482 142h1v1h-1zM482 144h1v1h-1zM482 158h1v1h-1zM483 132h1v8h-1zM484 131h1v1h-1zM484 134h1v1h-1zM484 137h1v2h-1zM484 142h1v2h-1zM484 209h1v1h-1zM485 132h1v1h-1zM485 136h1v4h-1zM486 132h1v5h-1zM486 138h1v1h-1zM486 140h1v1h-1zM487 133h1v1h-1zM487 135h1v1h-1zM487 139h1v1h-1zM487 144h1v1h-1zM487 146h1v2h-1zM487 149h1v1h-1zM487 151h1v1h-1zM487 194h1v1h-1zM487 205h1v1h-1zM488 132h1v1h-1zM488 134h1v1h-1zM488 136h1v5h-1zM488 144h1v1h-1zM488 147h1v1h-1zM488 209h1v1h-1zM489 135h1v4h-1zM489 141h1v3h-1zM489 199h1v2h-1zM490 133h1v4h-1zM490 139h1v2h-1zM490 146h1v2h-1zM490 207h1v2h-1zM491 137h1v1h-1zM491 139h1v4h-1zM492 132h1v1h-1zM492 135h1v1h-1zM492 137h1v3h-1zM492 141h1v3h-1zM492 145h1v1h-1zM493 134h1v1h-1zM493 137h1v1h-1zM493 139h1v2h-1zM493 142h1v2h-1zM493 145h1v2h-1zM494 140h1v1h-1zM494 142h1v4h-1zM495 140h1v1h-1zM495 142h1v4h-1zM495 147h1v1h-1zM495 149h1v2h-1zM496 134h1v1h-1zM496 139h1v1h-1zM496 141h1v1h-1zM496 148h1v5h-1zM496 154h1v1h-1zM497 143h1v2h-1zM497 147h1v4h-1zM497 152h1v3h-1zM498 145h1v4h-1zM498 150h1v1h-1zM498 152h1v1h-1zM499 138h1v1h-1zM499 142h1v1h-1zM499 145h1v5h-1zM499 151h1v2h-1zM500 142h1v3h-1zM500 146h1v4h-1zM501 136h1v1h-1zM501 140h1v1h-1zM501 142h1v3h-1zM501 147h1v1h-1zM501 149h1v1h-1zM501 154h1v1h-1zM501 161h1v1h-1zM502 143h1v7h-1zM503 138h1v1h-1zM503 140h1v1h-1zM503 145h1v4h-1zM503 153h1v1h-1zM503 161h1v1h-1zM504 141h1v2h-1zM504 144h1v3h-1zM504 149h1v1h-1zM504 151h1v1h-1zM505 142h1v6h-1zM505 149h1v1h-1zM505 151h1v1h-1zM505 153h1v1h-1zM506 141h1v2h-1zM506 144h1v6h-1zM506 153h1v1h-1zM507 131h1v1h-1zM507 143h1v1h-1zM507 145h1v5h-1zM508 142h1v2h-1zM508 145h1v1h-1zM508 147h1v1h-1zM508 149h1v2h-1zM509 138h1v1h-1zM509 141h1v7h-1zM509 149h1v1h-1zM510 136h1v2h-1zM510 144h1v6h-1zM510 151h1v1h-1zM511 135h1v1h-1zM511 138h1v1h-1zM511 140h1v6h-1zM511 147h1v1h-1zM512 139h1v5h-1zM512 145h1v2h-1zM512 192h1v2h-1zM512 199h1v1h-1zM512 207h1v2h-1zM513 136h1v1h-1zM513 139h1v1h-1zM513 141h1v1h-1zM513 143h1v4h-1zM513 148h1v1h-1zM513 152h1v1h-1zM514 136h1v2h-1zM514 139h1v2h-1zM514 142h1v1h-1zM514 144h1v3h-1zM514 149h1v1h-1zM515 135h1v1h-1zM515 138h1v1h-1zM515 140h1v2h-1zM515 143h1v3h-1zM515 181h1v2h-1zM515 184h1v2h-1zM515 190h1v1h-1zM515 195h1v2h-1zM515 202h1v2h-1zM515 205h1v1h-1zM515 209h1v1h-1zM516 131h1v5h-1zM516 137h1v1h-1zM516 139h1v1h-1zM516 146h1v2h-1zM517 137h1v7h-1zM517 147h1v1h-1zM517 205h1v1h-1zM518 136h1v1h-1zM518 138h1v1h-1zM518 140h1v1h-1zM518 142h1v2h-1zM518 147h1v1h-1zM519 131h1v1h-1zM519 133h1v2h-1zM519 136h1v1h-1zM519 138h1v1h-1zM519 140h1v4h-1zM520 135h1v7h-1zM520 196h1v1h-1zM520 201h1v1h-1zM520 206h1v1h-1zM521 135h1v1h-1zM521 137h1v1h-1zM521 139h1v1h-1zM521 146h1v1h-1zM521 148h1v1h-1zM521 153h1v2h-1zM521 196h1v1h-1zM521 207h1v2h-1zM522 131h1v1h-1zM522 134h1v2h-1zM522 137h1v1h-1zM522 139h1v4h-1zM523 132h1v5h-1zM523 139h1v1h-1zM523 141h1v2h-1zM524 134h1v5h-1zM524 140h1v1h-1zM525 132h1v2h-1zM525 135h1v3h-1zM525 139h1v2h-1zM525 145h1v1h-1zM525 205h1v1h-1zM526 131h1v1h-1zM526 133h1v1h-1zM526 135h1v4h-1zM526 142h1v1h-1zM526 145h1v1h-1zM527 132h1v6h-1zM528 132h1v1h-1zM528 135h1v4h-1zM528 141h1v1h-1zM528 143h1v1h-1zM528 190h1v1h-1zM528 199h1v1h-1zM528 201h1v1h-1zM528 204h1v1h-1zM528 209h1v1h-1zM529 132h1v1h-1zM529 134h1v8h-1zM530 132h1v2h-1zM530 135h1v2h-1zM530 141h1v2h-1zM530 144h1v2h-1zM530 206h1v1h-1zM531 131h1v1h-1zM531 133h1v1h-1zM531 136h1v4h-1zM531 141h1v2h-1zM532 134h1v1h-1zM532 137h1v6h-1zM533 132h1v1h-1zM533 136h1v4h-1zM533 143h1v2h-1zM534 135h1v1h-1zM534 138h1v1h-1zM534 140h1v1h-1zM534 142h1v2h-1zM534 145h1v2h-1zM534 148h1v1h-1zM535 136h1v1h-1zM535 138h1v1h-1zM535 141h1v4h-1zM536 136h1v2h-1zM536 139h1v4h-1zM536 144h1v1h-1zM536 146h1v2h-1zM537 135h1v4h-1zM537 140h1v1h-1zM537 144h1v3h-1zM537 149h1v2h-1zM537 154h1v1h-1zM538 133h1v1h-1zM538 136h1v1h-1zM538 139h1v2h-1zM538 142h1v2h-1zM538 146h1v1h-1zM539 133h1v1h-1zM539 138h1v5h-1zM539 144h1v2h-1zM539 147h1v1h-1zM539 151h1v1h-1zM540 137h1v1h-1zM540 141h1v2h-1zM540 144h1v1h-1zM540 147h1v1h-1zM540 154h1v1h-1zM541 142h1v3h-1zM541 147h1v3h-1zM542 141h1v4h-1zM542 146h1v2h-1zM542 150h1v2h-1zM543 136h1v2h-1zM543 141h1v4h-1zM543 146h1v3h-1zM544 141h1v1h-1zM544 144h1v1h-1zM544 147h1v2h-1zM544 150h1v1h-1zM545 143h1v3h-1zM545 147h1v1h-1zM545 150h1v5h-1zM545 157h1v1h-1zM546 143h1v1h-1zM546 147h1v3h-1zM546 151h1v3h-1zM546 155h1v1h-1zM547 148h1v3h-1zM547 152h1v4h-1zM547 158h1v2h-1zM548 142h1v1h-1zM548 144h1v1h-1zM548 147h1v1h-1zM548 149h1v1h-1zM548 151h1v5h-1zM548 159h1v1h-1zM549 148h1v5h-1zM549 154h1v4h-1zM549 161h1v1h-1zM550 146h1v2h-1zM550 150h1v4h-1zM550 156h1v1h-1zM550 158h1v1h-1zM550 160h1v1h-1zM550 165h1v1h-1zM551 143h1v1h-1zM551 149h1v3h-1zM551 153h1v1h-1zM551 155h1v2h-1zM551 158h1v3h-1zM551 170h1v2h-1zM551 177h1v3h-1zM551 181h1v1h-1zM551 193h1v1h-1zM551 206h1v1h-1zM552 144h1v1h-1zM552 148h1v2h-1zM552 152h1v1h-1zM552 154h1v1h-1zM553 134h1v1h-1zM553 144h1v3h-1zM553 151h1v2h-1zM553 156h1v1h-1zM554 142h1v6h-1zM555 133h1v2h-1zM555 136h1v1h-1zM555 140h1v3h-1zM555 154h1v1h-1zM555 207h1v1h-1zM556 138h1v3h-1zM556 143h1v1h-1zM556 145h1v2h-1zM557 133h1v1h-1zM557 136h1v1h-1zM557 139h1v1h-1zM557 141h1v1h-1zM557 143h1v2h-1zM557 146h1v1h-1zM557 152h1v1h-1zM558 137h1v2h-1zM558 141h1v4h-1zM559 136h1v1h-1zM559 139h1v6h-1zM559 146h1v1h-1zM559 150h1v1h-1zM560 139h1v1h-1zM560 141h1v8h-1zM561 131h1v1h-1zM561 133h1v2h-1zM561 136h1v1h-1zM561 144h1v1h-1zM561 148h1v1h-1zM561 151h1v2h-1zM562 143h1v1h-1zM562 145h1v6h-1zM562 152h1v1h-1zM562 154h1v1h-1zM562 157h1v1h-1zM563 140h1v1h-1zM563 142h1v1h-1zM563 144h1v1h-1zM563 146h1v1h-1zM563 149h1v1h-1zM563 153h1v1h-1zM564 144h1v6h-1zM565 137h1v1h-1zM565 140h1v2h-1zM565 143h1v1h-1zM565 146h1v1h-1zM565 149h1v6h-1zM566 146h1v8h-1zM567 144h1v2h-1zM567 147h1v2h-1zM567 150h1v1h-1zM567 153h1v1h-1zM568 140h1v1h-1zM568 142h1v7h-1zM568 150h1v1h-1zM569 140h1v1h-1zM569 142h1v2h-1zM569 145h1v2h-1zM569 148h1v1h-1zM570 139h1v1h-1zM570 141h1v2h-1zM570 144h1v4h-1zM570 149h1v2h-1zM570 154h1v1h-1zM571 138h1v1h-1zM571 141h1v4h-1zM571 147h1v3h-1zM571 152h1v1h-1zM572 135h1v1h-1zM572 138h1v1h-1zM572 143h1v2h-1zM572 148h1v2h-1zM572 151h1v1h-1zM572 154h1v1h-1zM573 138h1v2h-1zM573 141h1v1h-1zM573 143h1v4h-1zM573 208h1v1h-1zM574 139h1v1h-1zM574 141h1v5h-1zM575 134h1v1h-1zM575 136h1v1h-1zM575 140h1v2h-1zM575 147h1v2h-1zM575 151h1v1h-1zM575 153h1v2h-1zM575 207h1v1h-1zM576 131h1v2h-1zM576 135h1v3h-1zM576 139h1v2h-1zM576 144h1v1h-1zM576 146h1v1h-1zM577 134h1v1h-1zM577 136h1v2h-1zM577 140h1v1h-1zM577 143h1v1h-1zM577 146h1v1h-1zM577 148h1v2h-1zM577 157h1v1h-1zM577 201h1v1h-1zM577 208h1v2h-1zM578 135h1v1h-1zM578 137h1v3h-1zM578 142h1v2h-1zM578 147h1v1h-1zM579 131h1v1h-1zM579 136h1v1h-1zM579 139h1v4h-1zM579 145h1v1h-1zM579 147h1v1h-1zM580 137h1v1h-1zM580 141h1v2h-1zM580 147h1v3h-1zM580 151h1v1h-1zM580 157h1v2h-1zM580 207h1v1h-1zM581 137h1v5h-1zM581 143h1v1h-1zM582 139h1v4h-1zM582 144h1v1h-1zM582 146h1v1h-1zM583 133h1v1h-1zM583 138h1v1h-1zM583 140h1v1h-1zM583 142h1v5h-1zM583 149h1v2h-1zM584 132h1v1h-1zM584 137h1v3h-1zM584 142h1v3h-1zM584 146h1v1h-1zM585 132h1v1h-1zM585 137h1v2h-1zM585 141h1v1h-1zM585 143h1v2h-1zM585 147h1v2h-1zM585 150h1v3h-1zM586 136h1v1h-1zM586 139h1v1h-1zM586 141h1v4h-1zM586 147h1v1h-1zM587 134h1v1h-1zM587 137h1v1h-1zM587 142h1v5h-1zM587 149h1v1h-1zM588 136h1v3h-1zM588 141h1v1h-1zM588 144h1v1h-1zM588 149h1v2h-1zM589 134h1v1h-1zM589 137h1v2h-1zM589 140h1v1h-1zM589 143h1v1h-1zM589 145h1v3h-1zM589 151h1v2h-1zM589 202h1v1h-1zM590 139h1v6h-1zM590 148h1v1h-1zM591 139h1v2h-1zM591 142h1v2h-1zM591 145h1v1h-1zM591 148h1v2h-1zM592 136h1v1h-1zM592 140h1v2h-1zM592 144h1v4h-1zM592 157h1v1h-1zM593 138h1v1h-1zM593 140h1v1h-1zM593 142h1v1h-1zM593 144h1v1h-1zM593 146h1v3h-1zM593 152h1v1h-1zM594 138h1v1h-1zM594 142h1v2h-1zM594 146h1v4h-1zM594 154h1v1h-1zM594 159h1v1h-1zM595 136h1v2h-1zM595 140h1v1h-1zM595 143h1v2h-1zM595 146h1v1h-1zM595 148h1v1h-1zM595 154h1v1h-1zM596 135h1v2h-1zM596 139h1v2h-1zM596 142h1v3h-1zM596 149h1v1h-1zM596 153h1v1h-1zM596 155h1v1h-1zM597 141h1v2h-1zM597 144h1v6h-1zM597 151h1v1h-1zM597 155h1v1h-1zM598 147h1v7h-1zM598 155h1v1h-1zM599 146h1v1h-1zM599 150h1v2h-1zM599 153h1v3h-1zM599 157h1v1h-1zM600 147h1v1h-1zM600 149h1v1h-1zM600 151h1v6h-1zM600 158h1v1h-1zM600 162h1v1h-1zM601 154h1v7h-1zM601 163h1v1h-1zM602 158h1v2h-1zM602 161h1v1h-1zM602 163h1v1h-1zM602 165h1v1h-1zM602 167h1v3h-1zM603 161h1v6h-1zM604 155h1v1h-1zM604 158h1v1h-1zM604 160h1v4h-1zM604 165h1v1h-1zM604 168h1v1h-1zM605 154h1v2h-1zM605 157h1v4h-1zM605 162h1v1h-1zM605 164h1v1h-1zM605 167h1v1h-1zM606 152h1v2h-1zM606 155h1v1h-1zM606 157h1v6h-1zM606 164h1v1h-1zM606 170h1v1h-1zM607 150h1v1h-1zM607 152h1v2h-1zM607 156h1v5h-1zM608 151h1v1h-1zM608 153h1v4h-1zM608 158h1v1h-1zM609 153h1v3h-1zM610 149h1v1h-1zM610 151h1v2h-1zM610 154h1v3h-1zM610 159h1v1h-1zM611 142h1v1h-1zM611 144h1v2h-1zM611 148h1v1h-1zM611 152h1v1h-1zM611 154h1v1h-1zM611 157h1v1h-1zM611 159h1v1h-1zM611 161h1v1h-1zM612 147h1v7h-1zM613 145h1v1h-1zM613 147h1v1h-1zM613 149h1v4h-1zM613 189h1v1h-1zM613 193h1v1h-1zM613 201h1v2h-1zM613 205h1v1h-1zM613 207h1v2h-1zM614 146h1v6h-1zM615 139h1v1h-1zM615 142h1v1h-1zM615 144h1v6h-1zM615 151h1v3h-1zM616 144h1v2h-1zM616 147h1v3h-1zM616 152h1v1h-1zM616 155h1v1h-1zM617 138h1v1h-1zM617 140h1v2h-1zM617 143h1v3h-1zM617 147h1v2h-1zM617 151h1v1h-1zM617 153h1v1h-1zM617 155h1v1h-1zM618 144h1v1h-1zM618 146h1v1h-1zM618 148h1v4h-1zM618 155h1v1h-1zM619 148h1v5h-1zM620 148h1v5h-1zM621 148h1v5h-1zM622 148h1v3h-1zM622 152h1v3h-1zM623 148h1v8h-1zM623 159h1v1h-1zM624 132h1v1h-1zM624 149h1v5h-1zM624 155h1v1h-1zM625 149h1v4h-1zM625 154h1v1h-1zM626 147h1v9h-1zM627 146h1v2h-1zM627 149h1v1h-1zM627 151h1v3h-1zM627 155h1v3h-1zM628 153h1v5h-1zM629 153h1v6h-1zM629 160h1v2h-1zM630 150h1v1h-1zM630 153h1v5h-1zM630 159h1v3h-1zM631 152h1v1h-1zM631 154h1v1h-1zM631 156h1v2h-1zM631 159h1v1h-1zM632 151h1v6h-1zM633 150h1v8h-1zM634 143h1v1h-1zM634 145h1v3h-1zM634 151h1v2h-1zM634 155h1v1h-1zM634 157h1v1h-1zM635 146h1v7h-1zM636 145h1v5h-1zM637 139h1v2h-1zM637 143h1v3h-1zM637 148h1v2h-1zM637 153h1v1h-1zM638 139h1v6h-1zM639 139h1v5h-1zM639 145h1v2h-1zM640 139h1v4h-1zM641 135h1v7h-1zM641 143h1v1h-1zM641 202h1v1h-1zM641 206h1v2h-1zM642 139h1v5h-1zM643 136h1v1h-1zM643 139h1v5h-1zM644 136h1v1h-1zM644 138h1v1h-1zM644 140h1v5h-1zM644 146h1v1h-1zM645 140h1v4h-1zM646 139h1v1h-1zM646 141h1v3h-1zM646 145h1v1h-1zM647 139h1v4h-1zM648 137h1v1h-1zM648 140h1v3h-1zM648 144h1v3h-1zM649 139h1v6h-1zM650 140h1v4h-1zM651 135h1v2h-1zM651 139h1v4h-1zM651 144h1v3h-1zM652 141h1v5h-1zM652 147h1v1h-1zM653 141h1v5h-1zM654 139h1v2h-1zM654 142h1v5h-1zM655 142h1v4h-1zM656 140h1v1h-1zM656 142h1v4h-1zM657 140h1v2h-1zM657 143h1v5h-1zM657 149h1v1h-1zM658 139h1v1h-1zM658 142h1v6h-1zM659 140h1v8h-1zM659 149h1v1h-1zM660 138h1v1h-1zM660 141h1v6h-1zM660 148h1v1h-1zM661 141h1v1h-1zM661 143h1v3h-1zM662 140h1v2h-1zM662 144h1v1h-1zM662 146h1v2h-1zM663 141h1v1h-1zM663 143h1v5h-1zM664 140h1v1h-1zM664 143h1v2h-1zM664 146h1v3h-1zM665 141h1v5h-1zM665 147h1v1h-1zM666 143h1v3h-1zM667 142h1v6h-1zM668 135h1v1h-1zM668 141h1v6h-1zM669 139h1v1h-1zM669 142h1v4h-1zM669 147h1v1h-1zM669 149h1v1h-1zM670 142h1v4h-1zM671 141h1v5h-1zM671 147h1v1h-1zM672 139h1v2h-1zM672 142h1v1h-1zM672 144h1v3h-1zM672 148h1v1h-1zM672 151h1v1h-1zM673 140h1v1h-1zM673 143h1v2h-1zM673 147h1v2h-1zM673 152h1v1h-1zM673 154h1v2h-1zM673 157h1v1h-1zM674 143h1v4h-1zM674 148h1v2h-1zM675 143h1v7h-1zM675 152h1v1h-1zM676 141h1v1h-1zM676 144h1v4h-1zM676 149h1v2h-1zM676 152h1v1h-1zM677 142h1v1h-1zM677 145h1v4h-1zM678 145h1v5h-1zM679 141h1v2h-1zM679 144h1v1h-1zM679 146h1v3h-1zM680 143h1v1h-1zM680 145h1v5h-1zM681 137h1v2h-1zM681 144h1v4h-1zM681 151h1v2h-1zM682 144h1v5h-1zM683 145h1v4h-1zM684 144h1v6h-1zM685 141h1v1h-1zM685 143h1v7h-1zM685 152h1v1h-1zM686 144h1v4h-1zM686 156h1v1h-1zM686 159h1v1h-1zM686 172h1v1h-1zM687 142h1v7h-1zM688 144h1v4h-1zM688 165h1v1h-1zM688 173h1v1h-1zM688 178h1v2h-1zM688 182h1v1h-1zM688 184h1v1h-1zM688 188h1v1h-1zM688 190h1v1h-1zM689 141h1v2h-1zM689 145h1v3h-1zM689 149h1v1h-1zM690 136h1v1h-1zM690 142h1v1h-1zM690 144h1v1h-1zM690 146h1v2h-1zM690 149h1v1h-1zM691 142h1v3h-1zM692 133h1v1h-1zM692 141h1v6h-1zM693 139h1v5h-1zM693 145h1v1h-1zM693 147h1v2h-1zM693 181h1v2h-1zM693 185h1v1h-1zM693 194h1v1h-1zM693 198h1v1h-1zM694 139h1v4h-1zM694 145h1v1h-1zM695 139h1v6h-1zM695 146h1v1h-1zM696 140h1v5h-1zM697 140h1v5h-1zM698 138h1v2h-1zM698 141h1v4h-1zM699 139h1v6h-1zM699 146h1v2h-1zM700 138h1v6h-1zM701 138h1v1h-1zM701 140h1v3h-1zM701 146h1v1h-1zM702 137h1v1h-1zM702 139h1v4h-1zM702 144h1v1h-1zM703 141h1v2h-1zM704 140h1v4h-1zM705 136h1v1h-1zM705 139h1v5h-1zM706 137h1v1h-1zM706 139h1v2h-1zM706 142h1v2h-1zM707 138h1v1h-1zM707 140h1v4h-1zM707 145h1v2h-1zM708 138h1v1h-1zM708 140h1v3h-1zM709 139h1v5h-1zM710 138h1v1h-1zM710 140h1v3h-1zM711 136h1v1h-1zM711 138h1v5h-1zM712 141h1v4h-1zM713 141h1v3h-1zM714 141h1v4h-1zM715 136h1v1h-1zM715 140h1v3h-1zM715 144h1v3h-1zM716 141h1v4h-1zM716 146h1v1h-1zM716 195h1v1h-1zM717 141h1v3h-1zM717 146h1v1h-1zM718 142h1v6h-1zM719 141h1v1h-1zM719 143h1v1h-1zM719 145h1v1h-1zM720 140h1v1h-1zM720 143h1v3h-1zM720 147h1v1h-1zM721 140h1v5h-1zM722 139h1v4h-1zM722 144h1v2h-1zM722 148h1v1h-1zM723 140h1v2h-1zM723 143h1v4h-1zM723 150h1v1h-1zM724 138h1v1h-1zM724 140h1v3h-1zM724 144h1v1h-1zM724 146h1v2h-1zM725 142h1v5h-1zM725 149h1v1h-1zM726 137h1v1h-1zM726 143h1v6h-1zM727 143h1v5h-1zM728 141h1v3h-1zM728 145h1v5h-1zM729 144h1v1h-1zM729 146h1v6h-1zM729 153h1v1h-1zM729 159h1v1h-1zM729 162h1v1h-1zM730 141h1v3h-1zM730 145h1v3h-1zM730 149h1v1h-1zM730 156h1v1h-1zM731 145h1v1h-1zM731 147h1v4h-1zM731 152h1v1h-1zM731 158h1v1h-1zM732 146h1v6h-1zM733 139h1v1h-1zM733 142h1v5h-1zM734 138h1v1h-1zM734 142h1v3h-1zM735 135h1v1h-1zM735 138h1v3h-1zM735 143h1v3h-1zM736 132h1v1h-1zM736 136h1v5h-1zM736 160h1v1h-1zM737 133h1v1h-1zM737 135h1v4h-1zM737 140h1v1h-1zM738 135h1v1h-1zM738 137h1v2h-1zM738 140h1v2h-1zM738 145h1v1h-1zM738 147h1v1h-1zM739 135h1v2h-1zM739 139h1v3h-1zM740 132h1v1h-1zM740 135h1v8h-1zM741 133h1v2h-1zM741 138h1v4h-1zM741 143h1v1h-1zM741 145h1v2h-1zM741 148h1v1h-1zM741 150h1v2h-1zM741 155h1v1h-1zM741 161h1v2h-1zM741 168h1v1h-1zM741 174h1v2h-1zM742 135h1v4h-1zM742 140h1v2h-1zM743 139h1v4h-1zM743 146h1v1h-1zM744 141h1v7h-1zM744 152h1v1h-1zM744 154h1v1h-1zM744 156h1v2h-1zM745 140h1v1h-1zM745 144h1v3h-1zM745 149h1v1h-1zM745 152h1v2h-1zM746 150h1v3h-1zM746 154h1v1h-1zM746 156h1v2h-1zM747 153h1v1h-1zM747 155h1v6h-1zM748 160h1v5h-1zM749 156h1v1h-1zM749 161h1v3h-1zM749 168h1v2h-1zM749 171h1v1h-1zM749 173h1v1h-1zM750 163h1v1h-1zM750 166h1v6h-1zM750 173h1v1h-1z" fill="#5ff8f0" shape-rendering="crispEdges"/>
<path d="M75 270h1v4h-1zM76 269h1v3h-1zM77 265h1v4h-1zM77 271h1v2h-1zM78 256h1v1h-1zM78 262h1v2h-1zM78 265h1v4h-1zM78 270h1v1h-1zM78 272h1v1h-1zM79 264h1v4h-1zM80 262h1v6h-1zM80 269h1v1h-1zM81 263h1v4h-1zM82 255h1v1h-1zM82 258h1v1h-1zM82 260h1v8h-1zM83 260h1v3h-1zM83 264h1v1h-1zM84 258h1v4h-1zM85 255h1v1h-1zM85 257h1v4h-1zM85 262h1v3h-1zM85 267h1v1h-1zM86 253h1v1h-1zM86 255h1v5h-1zM86 261h1v2h-1zM87 253h1v4h-1zM87 258h1v2h-1zM88 253h1v5h-1zM89 250h1v7h-1zM90 250h1v5h-1zM90 257h1v1h-1zM91 247h1v1h-1zM91 251h1v7h-1zM92 257h1v4h-1zM93 260h1v4h-1zM93 265h1v1h-1zM94 262h1v1h-1zM94 264h1v1h-1zM94 266h1v7h-1zM94 277h1v1h-1zM95 261h1v6h-1zM96 242h1v4h-1zM96 247h1v2h-1zM96 252h1v1h-1zM96 256h1v2h-1zM96 261h1v2h-1zM97 244h1v4h-1zM98 246h1v3h-1zM99 247h1v4h-1zM100 248h1v5h-1zM101 249h1v7h-1zM101 260h1v1h-1zM102 249h1v3h-1zM103 249h1v6h-1zM103 258h1v1h-1zM104 252h1v3h-1zM105 253h1v4h-1zM105 259h1v1h-1zM106 252h1v8h-1zM107 252h1v1h-1zM107 254h1v5h-1zM107 263h1v1h-1zM108 251h1v1h-1zM108 253h1v3h-1zM108 257h1v1h-1zM109 247h1v1h-1zM109 250h1v4h-1zM110 250h1v4h-1zM111 250h1v4h-1zM112 251h1v4h-1zM113 250h1v3h-1zM113 255h1v4h-1zM114 251h1v6h-1zM115 249h1v6h-1zM115 267h1v1h-1zM116 249h1v1h-1zM116 252h1v5h-1zM117 252h1v3h-1zM117 256h1v2h-1zM118 251h1v6h-1zM119 251h1v5h-1zM119 257h1v1h-1zM120 251h1v4h-1zM121 252h1v5h-1zM121 258h1v1h-1zM121 297h1v1h-1zM122 253h1v5h-1zM122 260h1v1h-1zM123 251h1v7h-1zM124 253h1v4h-1zM124 258h1v1h-1zM125 247h1v1h-1zM125 249h1v5h-1zM125 255h1v1h-1zM125 258h1v1h-1zM126 252h1v4h-1zM127 252h1v4h-1zM128 251h1v7h-1zM129 251h1v7h-1zM130 252h1v4h-1zM131 250h1v4h-1zM131 255h1v2h-1zM131 258h1v1h-1zM132 251h1v4h-1zM133 250h1v3h-1zM134 250h1v5h-1zM135 248h1v4h-1zM135 254h1v1h-1zM136 248h1v3h-1zM136 252h1v2h-1zM137 250h1v2h-1zM137 253h1v1h-1zM138 249h1v3h-1zM138 253h1v1h-1zM138 255h1v1h-1zM139 249h1v6h-1zM140 248h1v1h-1zM140 250h1v6h-1zM141 250h1v5h-1zM142 248h1v5h-1zM142 254h1v1h-1zM143 246h1v2h-1zM143 249h1v5h-1zM143 256h1v1h-1zM143 258h1v2h-1zM144 248h1v1h-1zM144 250h1v4h-1zM145 249h1v6h-1zM145 256h1v1h-1zM146 248h1v1h-1zM146 250h1v4h-1zM146 255h1v1h-1zM146 257h1v1h-1zM147 251h1v4h-1zM148 250h1v5h-1zM149 246h1v4h-1zM149 251h1v3h-1zM149 255h1v3h-1zM149 259h1v1h-1zM150 247h1v5h-1zM150 253h1v2h-1zM150 256h1v1h-1zM150 259h1v1h-1zM151 241h1v1h-1zM151 248h1v5h-1zM152 246h1v5h-1zM153 241h1v1h-1zM153 246h1v3h-1zM154 243h1v4h-1zM154 250h1v1h-1zM155 240h1v4h-1zM155 245h1v1h-1zM155 247h1v2h-1zM155 250h1v1h-1zM156 239h1v5h-1zM157 238h1v4h-1zM157 244h1v1h-1zM158 235h1v8h-1zM158 256h1v1h-1zM159 235h1v5h-1zM159 241h1v1h-1zM160 233h1v6h-1zM160 243h1v1h-1zM161 233h1v6h-1zM162 234h1v5h-1zM162 240h1v1h-1zM162 242h1v1h-1zM162 246h1v1h-1zM163 234h1v1h-1zM163 236h1v3h-1zM163 240h1v2h-1zM163 243h1v1h-1zM164 233h1v1h-1zM164 236h1v7h-1zM165 235h1v3h-1zM165 240h1v1h-1zM165 242h1v3h-1zM166 235h1v5h-1zM167 232h1v3h-1zM167 236h1v4h-1zM167 242h1v1h-1zM167 250h1v1h-1zM168 234h1v1h-1zM168 236h1v3h-1zM168 240h1v2h-1zM168 244h1v1h-1zM169 237h1v4h-1zM169 242h1v1h-1zM170 236h1v5h-1zM170 242h1v1h-1zM170 248h1v1h-1zM171 232h1v1h-1zM171 236h1v5h-1zM171 243h1v1h-1zM171 245h1v1h-1zM171 247h1v1h-1zM171 249h1v1h-1zM172 239h1v5h-1zM172 245h1v1h-1zM173 234h1v1h-1zM173 241h1v5h-1zM174 243h1v1h-1zM174 245h1v4h-1zM175 247h1v6h-1zM175 257h1v1h-1zM176 246h1v1h-1zM176 248h1v4h-1zM176 254h1v3h-1zM176 261h1v1h-1zM176 264h1v1h-1zM177 248h1v3h-1zM177 252h1v1h-1zM177 255h1v1h-1zM178 241h1v1h-1zM178 246h1v5h-1zM178 254h1v1h-1zM179 245h1v7h-1zM179 255h1v1h-1zM180 246h1v6h-1zM181 247h1v5h-1zM181 253h1v1h-1zM181 255h1v1h-1zM182 246h1v5h-1zM183 247h1v4h-1zM183 253h1v1h-1zM184 246h1v5h-1zM185 246h1v1h-1zM185 248h1v3h-1zM185 253h1v1h-1zM186 246h1v6h-1zM186 253h1v1h-1zM187 246h1v6h-1zM187 261h1v1h-1zM188 248h1v3h-1zM188 254h1v2h-1zM189 249h1v5h-1zM189 255h1v1h-1zM190 245h1v1h-1zM190 250h1v4h-1zM190 256h1v1h-1zM191 252h1v4h-1zM192 246h1v1h-1zM192 251h1v3h-1zM192 255h1v1h-1zM192 257h1v3h-1zM192 261h1v1h-1zM192 273h1v1h-1zM193 253h1v6h-1zM193 260h1v1h-1zM194 254h1v4h-1zM194 263h1v1h-1zM195 254h1v5h-1zM195 260h1v1h-1zM195 262h1v1h-1zM195 267h1v1h-1zM196 256h1v5h-1zM197 257h1v2h-1zM198 254h1v7h-1zM198 263h1v2h-1zM199 256h1v4h-1zM199 261h1v1h-1zM200 254h1v1h-1zM200 256h1v5h-1zM201 254h1v6h-1zM202 255h1v3h-1zM202 260h1v1h-1zM203 254h1v5h-1zM204 252h1v3h-1zM204 256h1v2h-1zM205 250h1v5h-1zM206 248h1v1h-1zM206 251h1v4h-1zM207 247h1v1h-1zM207 249h1v5h-1zM208 248h1v4h-1zM208 253h1v2h-1zM208 256h1v1h-1zM209 244h1v3h-1zM209 248h1v3h-1zM209 254h1v2h-1zM210 245h1v3h-1zM210 249h1v2h-1zM210 252h1v3h-1zM210 256h1v1h-1zM210 258h1v1h-1zM211 247h1v4h-1zM212 248h1v3h-1zM212 254h1v1h-1zM213 244h1v1h-1zM213 246h1v4h-1zM214 243h1v1h-1zM214 246h1v4h-1zM214 252h1v1h-1zM214 263h1v1h-1zM215 245h1v7h-1zM216 244h1v2h-1zM216 247h1v3h-1zM216 252h1v1h-1zM216 254h1v1h-1zM216 256h1v1h-1zM217 246h1v6h-1zM218 246h1v4h-1zM219 246h1v4h-1zM220 226h1v1h-1zM220 246h1v4h-1zM221 245h1v4h-1zM222 242h1v9h-1zM223 244h1v4h-1zM223 250h1v2h-1zM224 247h1v1h-1zM224 249h1v5h-1zM224 256h1v1h-1zM225 243h1v1h-1zM225 245h1v5h-1zM226 246h1v4h-1zM226 251h1v1h-1zM227 245h1v1h-1zM227 247h1v4h-1zM228 245h1v5h-1zM229 246h1v5h-1zM229 253h1v1h-1zM230 246h1v4h-1zM230 277h1v1h-1zM231 244h1v1h-1zM231 247h1v3h-1zM231 252h1v1h-1zM232 245h1v3h-1zM232 249h1v1h-1zM233 244h1v4h-1zM233 268h1v1h-1zM234 245h1v6h-1zM235 247h1v5h-1zM236 249h1v6h-1zM237 254h1v4h-1zM237 277h1v1h-1zM238 255h1v6h-1zM239 257h1v3h-1zM239 261h1v1h-1zM240 258h1v4h-1zM241 258h1v1h-1zM241 260h1v6h-1zM242 259h1v3h-1zM242 263h1v1h-1zM243 255h1v6h-1zM244 249h1v1h-1zM244 251h1v8h-1zM245 244h1v1h-1zM245 248h1v4h-1zM245 253h1v1h-1zM246 245h1v4h-1zM247 247h1v3h-1zM248 248h1v3h-1zM249 249h1v3h-1zM250 248h1v5h-1zM251 235h1v1h-1zM251 249h1v3h-1zM252 247h1v6h-1zM253 248h1v5h-1zM254 246h1v6h-1zM254 253h1v2h-1zM255 246h1v4h-1zM255 251h1v1h-1zM256 246h1v4h-1zM256 252h1v1h-1zM257 248h1v4h-1zM258 249h1v5h-1zM259 246h1v7h-1zM260 247h1v5h-1zM260 253h1v1h-1zM261 244h1v1h-1zM261 247h1v2h-1zM261 250h1v2h-1zM261 253h1v1h-1zM261 265h1v1h-1zM262 247h1v4h-1zM263 245h1v4h-1zM264 246h1v6h-1zM265 248h1v4h-1zM265 253h1v1h-1zM266 248h1v5h-1zM266 254h1v1h-1zM266 256h1v1h-1zM267 249h1v4h-1zM267 255h1v1h-1zM268 251h1v3h-1zM269 252h1v3h-1zM270 252h1v2h-1zM270 255h1v2h-1zM271 252h1v8h-1zM272 251h1v4h-1zM273 251h1v6h-1zM273 258h1v1h-1zM274 253h1v3h-1zM275 252h1v4h-1zM275 270h1v1h-1zM276 252h1v6h-1zM276 260h1v1h-1zM276 262h1v1h-1zM277 252h1v6h-1zM278 252h1v3h-1zM278 256h1v2h-1zM278 260h1v1h-1zM279 251h1v4h-1zM279 256h1v2h-1zM280 250h1v4h-1zM280 255h1v1h-1zM281 249h1v6h-1zM282 246h1v1h-1zM282 249h1v5h-1zM282 256h1v1h-1zM283 250h1v4h-1zM283 255h1v2h-1zM284 252h1v3h-1zM285 251h1v5h-1zM286 251h1v2h-1zM286 254h1v3h-1zM286 259h1v1h-1zM286 261h1v1h-1zM287 253h1v4h-1zM288 251h1v7h-1zM288 261h1v1h-1zM289 253h1v3h-1zM289 257h1v1h-1zM290 254h1v3h-1zM291 250h1v1h-1zM291 253h1v5h-1zM292 253h1v1h-1zM292 255h1v5h-1zM293 254h1v5h-1zM294 253h1v4h-1zM294 258h1v1h-1zM295 252h1v6h-1zM296 253h1v3h-1zM296 258h1v1h-1zM297 252h1v6h-1zM298 249h1v1h-1zM298 252h1v4h-1zM298 257h1v1h-1zM299 251h1v5h-1zM300 237h1v1h-1zM300 252h1v4h-1zM301 250h1v1h-1zM301 252h1v6h-1zM302 245h1v1h-1zM302 249h1v9h-1zM302 260h1v1h-1zM303 252h1v5h-1zM303 258h1v1h-1zM304 252h1v5h-1zM305 255h1v3h-1zM305 259h1v1h-1zM305 265h1v1h-1zM306 252h1v2h-1zM306 255h1v6h-1zM307 256h1v6h-1zM308 256h1v1h-1zM308 258h1v4h-1zM308 265h1v1h-1zM309 259h1v5h-1zM310 258h1v5h-1zM310 265h1v1h-1zM311 257h1v5h-1zM311 267h1v1h-1zM312 253h1v1h-1zM312 256h1v5h-1zM312 266h1v1h-1zM313 255h1v3h-1zM313 259h1v2h-1zM314 252h1v5h-1zM314 259h1v1h-1zM315 251h1v6h-1zM316 250h1v5h-1zM316 259h1v1h-1zM317 250h1v4h-1zM318 250h1v5h-1zM318 258h1v1h-1zM319 248h1v6h-1zM319 255h1v1h-1zM319 258h1v1h-1zM320 249h1v1h-1zM320 251h1v5h-1zM321 247h1v6h-1zM321 255h1v2h-1zM322 249h1v4h-1zM322 254h1v1h-1zM323 249h1v4h-1zM323 254h1v1h-1zM323 259h1v1h-1zM324 250h1v6h-1zM325 247h1v2h-1zM325 250h1v3h-1zM325 254h1v2h-1zM325 257h1v2h-1zM325 265h1v1h-1zM325 270h1v1h-1zM326 248h1v4h-1zM327 247h1v3h-1zM328 245h1v1h-1zM328 247h1v7h-1zM328 256h1v1h-1zM329 246h1v7h-1zM330 244h1v1h-1zM330 246h1v4h-1zM330 251h1v1h-1zM331 245h1v5h-1zM332 247h1v6h-1zM333 245h1v1h-1zM333 247h1v4h-1zM333 252h1v1h-1zM334 247h1v4h-1zM334 252h1v1h-1zM335 247h1v4h-1zM335 252h1v1h-1zM336 246h1v1h-1zM336 248h1v3h-1zM336 252h1v1h-1zM337 242h1v1h-1zM337 244h1v8h-1zM338 246h1v1h-1zM338 248h1v4h-1zM339 248h1v4h-1zM340 248h1v4h-1zM341 246h1v8h-1zM342 247h1v4h-1zM342 252h1v1h-1zM343 248h1v5h-1zM344 248h1v3h-1zM344 252h1v3h-1zM344 257h1v1h-1zM345 250h1v4h-1zM345 257h1v1h-1zM346 251h1v4h-1zM347 244h1v1h-1zM347 249h1v4h-1zM347 254h1v4h-1zM347 261h1v1h-1zM348 252h1v3h-1zM349 249h1v5h-1zM349 255h1v3h-1zM350 249h1v6h-1zM350 263h1v1h-1zM351 248h1v6h-1zM352 246h1v3h-1zM352 253h1v1h-1zM353 244h1v5h-1zM353 274h1v1h-1zM354 243h1v5h-1zM354 251h1v1h-1zM355 241h1v3h-1zM356 239h1v2h-1zM356 242h1v3h-1zM356 247h1v1h-1zM356 249h1v1h-1zM356 252h1v1h-1zM357 244h1v4h-1zM358 243h1v1h-1zM358 245h1v3h-1zM358 249h1v1h-1zM359 243h1v1h-1zM359 245h1v5h-1zM359 261h1v1h-1zM360 247h1v5h-1zM361 247h1v1h-1zM361 249h1v4h-1zM361 255h1v1h-1zM362 249h1v4h-1zM363 248h1v1h-1zM363 250h1v3h-1zM363 254h1v2h-1zM363 258h1v2h-1zM363 264h1v1h-1zM363 269h1v1h-1zM364 245h1v1h-1zM364 250h1v4h-1zM365 250h1v4h-1zM365 255h1v1h-1zM365 258h1v1h-1zM366 248h1v1h-1zM366 251h1v4h-1zM366 258h1v1h-1zM367 250h1v5h-1zM368 247h1v4h-1zM368 253h1v2h-1zM369 246h1v1h-1zM369 248h1v5h-1zM369 263h1v1h-1zM370 247h1v6h-1zM370 265h1v1h-1zM371 247h1v5h-1zM372 246h1v1h-1zM372 249h1v4h-1zM373 249h1v5h-1zM373 259h1v1h-1zM374 249h1v8h-1zM374 259h1v1h-1zM374 261h1v2h-1zM375 253h1v5h-1zM376 257h1v5h-1zM376 266h1v1h-1zM377 256h1v4h-1zM378 255h1v4h-1zM379 254h1v6h-1zM380 247h1v1h-1zM380 253h1v3h-1zM380 257h1v1h-1zM381 253h1v4h-1zM381 258h1v1h-1zM382 251h1v1h-1zM382 253h1v3h-1zM382 258h1v2h-1zM383 253h1v5h-1zM383 260h1v1h-1zM384 252h1v5h-1zM385 252h1v2h-1zM386 248h1v5h-1zM386 254h1v1h-1zM386 256h1v1h-1zM387 249h1v5h-1zM388 250h1v3h-1zM388 255h1v1h-1zM389 249h1v5h-1zM390 248h1v4h-1zM390 256h1v1h-1zM391 250h1v4h-1zM392 251h1v5h-1zM393 252h1v3h-1zM393 256h1v2h-1zM394 253h1v3h-1zM394 257h1v1h-1zM395 250h1v1h-1zM395 252h1v3h-1zM395 256h1v2h-1zM395 259h1v1h-1zM396 228h1v1h-1zM396 252h1v5h-1zM396 258h1v1h-1zM397 253h1v5h-1zM397 259h1v1h-1zM398 252h1v9h-1zM398 263h1v1h-1zM399 252h1v5h-1zM400 251h1v1h-1zM400 253h1v5h-1zM400 260h1v1h-1zM400 270h1v1h-1zM401 251h1v3h-1zM401 255h1v1h-1zM402 244h1v1h-1zM402 248h1v3h-1zM402 253h1v6h-1zM403 249h1v5h-1zM403 267h1v1h-1zM404 250h1v4h-1zM404 255h1v1h-1zM405 248h1v6h-1zM405 255h1v1h-1zM406 250h1v1h-1zM406 252h1v4h-1zM406 258h1v1h-1zM407 250h1v3h-1zM407 254h1v4h-1zM407 260h1v1h-1zM408 250h1v5h-1zM408 259h1v1h-1zM409 252h1v6h-1zM409 259h1v1h-1zM410 252h1v6h-1zM410 260h1v1h-1zM411 253h1v7h-1zM412 252h1v8h-1zM413 254h1v5h-1zM414 255h1v4h-1zM415 252h1v1h-1zM415 254h1v4h-1zM415 259h1v1h-1zM416 255h1v3h-1zM416 259h1v1h-1zM417 256h1v3h-1zM417 260h1v2h-1zM418 256h1v4h-1zM419 257h1v6h-1zM419 264h1v1h-1zM419 267h1v1h-1zM420 257h1v6h-1zM421 253h1v2h-1zM421 256h1v2h-1zM421 260h1v2h-1zM421 263h1v2h-1zM421 268h1v1h-1zM422 256h1v4h-1zM422 263h1v1h-1zM423 256h1v3h-1zM423 261h1v1h-1zM424 255h1v4h-1zM425 254h1v4h-1zM425 259h1v2h-1zM425 263h1v2h-1zM426 257h1v4h-1zM426 262h1v1h-1zM427 257h1v4h-1zM427 262h1v2h-1zM428 257h1v4h-1zM429 256h1v6h-1zM429 263h1v1h-1zM430 253h1v1h-1zM430 256h1v4h-1zM430 261h1v2h-1zM431 257h1v7h-1zM431 273h1v1h-1zM431 276h1v1h-1zM432 258h1v3h-1zM433 257h1v3h-1zM433 261h1v5h-1zM433 267h1v1h-1zM434 256h1v2h-1zM434 259h1v5h-1zM434 268h1v1h-1zM435 254h1v1h-1zM435 257h1v8h-1zM435 269h1v1h-1zM436 258h1v5h-1zM436 265h1v1h-1zM436 269h1v1h-1zM437 257h1v6h-1zM437 265h1v2h-1zM437 270h1v1h-1zM438 260h1v3h-1zM439 258h1v2h-1zM439 261h1v4h-1zM439 267h1v1h-1zM440 259h1v1h-1zM440 261h1v3h-1zM440 265h1v1h-1zM441 263h1v2h-1zM441 266h1v1h-1zM442 263h1v8h-1zM443 258h1v1h-1zM443 261h1v8h-1zM443 278h1v1h-1zM444 263h1v9h-1zM445 262h1v1h-1zM445 264h1v3h-1zM445 269h1v1h-1zM446 256h1v3h-1zM446 263h1v5h-1zM446 269h1v1h-1zM446 271h1v2h-1zM446 274h1v1h-1zM447 263h1v5h-1zM447 269h1v1h-1zM448 263h1v2h-1zM448 266h1v2h-1zM448 269h1v1h-1zM448 273h1v1h-1zM449 261h1v2h-1zM449 265h1v4h-1zM449 270h1v2h-1zM449 273h1v1h-1zM450 264h1v4h-1zM450 269h1v1h-1zM450 271h1v1h-1zM451 262h1v5h-1zM452 260h1v5h-1zM453 258h1v3h-1zM453 262h1v5h-1zM453 270h1v1h-1zM454 227h1v1h-1zM454 260h1v5h-1zM454 266h1v1h-1zM454 268h1v1h-1zM455 259h1v1h-1zM455 261h1v5h-1zM456 261h1v7h-1zM456 271h1v1h-1zM457 263h1v4h-1zM457 268h1v1h-1zM457 273h1v1h-1zM458 263h1v4h-1zM459 261h1v1h-1zM459 263h1v5h-1zM459 269h1v1h-1zM459 272h1v1h-1zM460 263h1v3h-1zM460 267h1v1h-1zM460 270h1v1h-1zM460 272h1v1h-1zM461 260h1v1h-1zM461 264h1v7h-1zM462 265h1v6h-1zM462 272h1v1h-1zM463 266h1v2h-1zM463 269h1v1h-1zM463 271h1v1h-1zM464 267h1v3h-1zM464 271h1v1h-1zM465 267h1v5h-1zM466 266h1v4h-1zM467 264h1v1h-1zM467 266h1v1h-1zM467 268h1v2h-1zM467 271h1v1h-1zM467 275h1v1h-1zM468 264h1v6h-1zM468 271h1v1h-1zM469 267h1v5h-1zM470 267h1v3h-1zM470 271h1v1h-1zM470 273h1v1h-1zM471 266h1v5h-1zM472 266h1v7h-1zM473 266h1v6h-1zM473 274h1v1h-1zM474 268h1v4h-1zM475 269h1v4h-1zM475 274h1v1h-1zM476 268h1v3h-1zM477 268h1v4h-1zM478 267h1v3h-1zM478 271h1v1h-1zM478 273h1v1h-1zM479 267h1v5h-1zM479 282h1v1h-1zM480 265h1v5h-1zM481 264h1v5h-1zM481 270h1v1h-1zM482 263h1v4h-1zM482 268h1v2h-1zM483 263h1v1h-1zM483 265h1v4h-1zM484 261h1v1h-1zM484 263h1v5h-1zM484 270h1v1h-1zM485 264h1v4h-1zM486 262h1v1h-1zM486 264h1v3h-1zM486 268h1v2h-1zM487 263h1v6h-1zM488 262h1v1h-1zM488 264h1v2h-1zM488 267h1v1h-1zM488 271h1v1h-1zM488 273h1v1h-1zM489 265h1v5h-1zM490 265h1v9h-1zM491 267h1v6h-1zM492 262h1v1h-1zM492 264h1v5h-1zM492 270h1v2h-1zM492 276h1v1h-1zM493 266h1v8h-1zM494 266h1v4h-1zM495 266h1v5h-1zM496 265h1v4h-1zM497 265h1v4h-1zM498 264h1v6h-1zM499 265h1v5h-1zM500 261h1v1h-1zM500 264h1v6h-1zM500 271h1v1h-1zM501 246h1v1h-1zM501 265h1v4h-1zM501 270h1v1h-1zM501 280h1v1h-1zM502 262h1v8h-1zM503 262h1v5h-1zM503 268h1v2h-1zM504 262h1v5h-1zM504 268h1v1h-1zM505 257h1v1h-1zM505 260h1v1h-1zM505 262h1v2h-1zM505 265h1v2h-1zM505 270h1v1h-1zM506 263h1v4h-1zM506 268h1v1h-1zM507 258h1v1h-1zM507 263h1v4h-1zM507 268h1v2h-1zM507 274h1v1h-1zM508 252h1v1h-1zM508 262h1v5h-1zM508 269h1v1h-1zM509 262h1v7h-1zM510 262h1v4h-1zM511 261h1v1h-1zM511 263h1v7h-1zM512 263h1v3h-1zM513 261h1v1h-1zM513 263h1v6h-1zM514 260h1v6h-1zM514 268h1v1h-1zM515 261h1v6h-1zM515 268h1v1h-1zM516 251h1v1h-1zM516 259h1v4h-1zM516 264h1v5h-1zM516 273h1v1h-1zM517 255h1v1h-1zM517 261h1v4h-1zM518 262h1v3h-1zM518 266h1v1h-1zM519 262h1v5h-1zM519 269h1v2h-1zM520 262h1v2h-1zM520 265h1v1h-1zM521 252h1v1h-1zM521 261h1v9h-1zM522 264h1v4h-1zM523 261h1v1h-1zM523 265h1v6h-1zM524 255h1v1h-1zM524 263h1v7h-1zM524 271h1v1h-1zM524 274h1v1h-1zM525 263h1v1h-1zM525 265h1v5h-1zM525 273h1v1h-1zM526 263h1v5h-1zM526 269h1v1h-1zM526 271h1v1h-1zM527 263h1v5h-1zM528 263h1v6h-1zM529 265h1v4h-1zM530 263h1v5h-1zM531 262h1v8h-1zM531 271h1v1h-1zM532 260h1v2h-1zM532 263h1v4h-1zM532 268h1v2h-1zM532 279h1v1h-1zM533 262h1v4h-1zM533 267h1v2h-1zM534 261h1v7h-1zM535 248h1v1h-1zM535 260h1v6h-1zM535 267h1v3h-1zM535 271h1v1h-1zM536 262h1v3h-1zM536 266h1v1h-1zM536 273h1v1h-1zM537 262h1v5h-1zM537 268h1v2h-1zM537 272h1v1h-1zM537 276h1v1h-1zM538 264h1v4h-1zM538 270h1v1h-1zM539 257h1v1h-1zM539 261h1v4h-1zM539 266h1v2h-1zM539 269h1v2h-1zM539 272h1v1h-1zM540 265h1v4h-1zM541 264h1v5h-1zM542 265h1v3h-1zM543 264h1v3h-1zM543 268h1v2h-1zM544 262h1v1h-1zM544 265h1v4h-1zM545 263h1v1h-1zM545 265h1v7h-1zM546 266h1v3h-1zM546 270h1v1h-1zM547 261h1v7h-1zM547 269h1v1h-1zM548 260h1v1h-1zM548 264h1v4h-1zM548 269h1v1h-1zM549 261h1v2h-1zM549 264h1v1h-1zM549 266h1v4h-1zM550 262h1v6h-1zM551 260h1v4h-1zM551 267h1v2h-1zM552 260h1v5h-1zM552 266h1v1h-1zM553 262h1v5h-1zM553 268h1v1h-1zM553 271h1v1h-1zM554 263h1v4h-1zM555 262h1v7h-1zM555 270h1v1h-1zM556 262h1v8h-1zM556 271h1v2h-1zM557 263h1v1h-1zM557 267h1v3h-1zM558 266h1v4h-1zM559 262h1v3h-1zM559 266h1v4h-1zM559 271h1v1h-1zM559 281h1v1h-1zM560 265h1v1h-1zM560 267h1v5h-1zM560 273h1v2h-1zM561 266h1v1h-1zM561 268h1v2h-1zM561 271h1v1h-1zM561 273h1v1h-1zM562 265h1v6h-1zM563 265h1v1h-1zM563 268h1v4h-1zM564 265h1v4h-1zM564 270h1v3h-1zM564 275h1v1h-1zM564 277h1v1h-1zM564 280h1v1h-1zM564 282h1v1h-1zM565 266h1v5h-1zM566 265h1v4h-1zM566 270h1v1h-1zM567 264h1v1h-1zM567 266h1v3h-1zM568 264h1v5h-1zM568 270h1v1h-1zM569 262h1v3h-1zM569 266h1v1h-1zM570 263h1v5h-1zM570 271h1v1h-1zM571 263h1v4h-1zM572 262h1v1h-1zM572 264h1v5h-1zM573 264h1v6h-1zM573 275h1v1h-1zM574 263h1v7h-1zM575 263h1v6h-1zM576 263h1v7h-1zM576 273h1v1h-1zM577 261h1v5h-1zM577 267h1v1h-1zM578 261h1v5h-1zM578 267h1v1h-1zM579 263h1v6h-1zM580 261h1v8h-1zM581 261h1v4h-1zM581 266h1v1h-1zM581 268h1v1h-1zM582 262h1v3h-1zM582 266h1v2h-1zM582 269h1v3h-1zM583 261h1v2h-1zM583 264h1v2h-1zM583 269h1v2h-1zM583 277h1v1h-1zM584 260h1v1h-1zM584 262h1v5h-1zM584 269h1v2h-1zM584 273h1v1h-1zM585 260h1v7h-1zM585 268h1v1h-1zM585 271h1v1h-1zM586 264h1v3h-1zM587 262h1v5h-1zM587 276h1v1h-1zM588 259h1v1h-1zM588 261h1v4h-1zM588 266h1v1h-1zM589 257h1v1h-1zM589 260h1v4h-1zM589 267h1v1h-1zM589 271h1v1h-1zM590 257h1v1h-1zM590 259h1v2h-1zM590 262h1v1h-1zM590 265h1v4h-1zM591 259h1v4h-1zM592 257h1v6h-1zM592 269h1v1h-1zM593 255h1v1h-1zM593 257h1v7h-1zM593 265h1v1h-1zM594 260h1v5h-1zM594 266h1v1h-1zM595 260h1v3h-1zM595 287h1v1h-1zM596 260h1v4h-1zM596 266h1v1h-1zM597 260h1v6h-1zM598 260h1v5h-1zM599 261h1v6h-1zM600 262h1v5h-1zM600 268h1v1h-1zM601 262h1v4h-1zM601 267h1v1h-1zM602 261h1v4h-1zM603 260h1v6h-1zM604 259h1v5h-1zM605 260h1v4h-1zM605 265h1v1h-1zM605 267h1v1h-1zM606 258h1v5h-1zM606 264h1v2h-1zM606 273h1v1h-1zM607 259h1v5h-1zM607 265h1v1h-1zM608 260h1v4h-1zM609 256h1v7h-1zM609 268h1v1h-1zM610 258h1v6h-1zM610 265h1v2h-1zM611 260h1v3h-1zM612 258h1v5h-1zM612 267h1v1h-1zM612 269h1v1h-1zM613 259h1v5h-1zM613 265h1v1h-1zM613 268h1v1h-1zM613 270h1v1h-1zM614 259h1v5h-1zM615 256h1v5h-1zM615 262h1v2h-1zM616 256h1v8h-1zM617 258h1v6h-1zM618 259h1v6h-1zM619 259h1v1h-1zM619 261h1v7h-1zM619 269h1v1h-1zM619 274h1v1h-1zM620 262h1v3h-1zM620 268h1v1h-1zM621 265h1v3h-1zM622 265h1v5h-1zM623 254h1v1h-1zM623 265h1v1h-1zM623 267h1v5h-1zM623 275h1v2h-1zM624 264h1v1h-1zM624 266h1v6h-1zM625 259h1v1h-1zM625 262h1v4h-1zM625 267h1v2h-1zM625 270h1v1h-1zM626 262h1v5h-1zM627 252h1v1h-1zM627 259h1v1h-1zM627 261h1v4h-1zM628 256h1v1h-1zM628 258h1v5h-1zM628 264h1v1h-1zM629 256h1v4h-1zM629 261h1v2h-1zM629 265h1v1h-1zM629 268h1v1h-1zM630 255h1v3h-1zM631 250h1v2h-1zM631 253h1v7h-1zM632 250h1v5h-1zM632 256h1v1h-1zM632 260h1v1h-1zM632 264h1v1h-1zM633 251h1v6h-1zM634 252h1v5h-1zM635 250h1v6h-1zM635 257h1v1h-1zM636 252h1v4h-1zM637 253h1v3h-1zM637 257h1v4h-1zM638 252h1v5h-1zM639 252h1v5h-1zM640 253h1v5h-1zM641 254h1v5h-1zM642 256h1v4h-1zM643 257h1v5h-1zM644 255h1v1h-1zM644 258h1v6h-1zM644 266h1v2h-1zM645 258h1v6h-1zM645 265h1v2h-1zM645 269h1v1h-1zM646 259h1v4h-1zM647 260h1v3h-1zM647 264h1v2h-1zM648 261h1v4h-1zM649 259h1v6h-1zM649 266h1v1h-1zM649 268h1v1h-1zM650 255h1v1h-1zM650 258h1v1h-1zM650 261h1v4h-1zM651 258h1v1h-1zM651 260h1v2h-1zM651 264h1v3h-1zM651 270h1v1h-1zM651 274h1v1h-1zM652 259h1v7h-1zM652 268h1v1h-1zM653 259h1v4h-1zM654 258h1v5h-1zM654 264h1v1h-1zM655 258h1v4h-1zM655 265h1v1h-1zM656 254h1v2h-1zM656 258h1v5h-1zM656 265h1v1h-1zM657 258h1v6h-1zM658 257h1v5h-1zM659 257h1v5h-1zM660 255h1v1h-1zM660 257h1v3h-1zM660 262h1v2h-1zM661 258h1v5h-1zM661 264h1v3h-1zM662 257h1v5h-1zM662 264h1v1h-1zM663 256h1v7h-1zM664 256h1v1h-1zM664 258h1v6h-1zM664 271h1v1h-1zM665 259h1v4h-1zM666 259h1v3h-1zM667 260h1v7h-1zM668 262h1v4h-1zM669 257h1v1h-1zM669 264h1v7h-1zM669 272h1v1h-1zM670 266h1v5h-1zM671 263h1v4h-1zM671 268h1v4h-1zM671 274h1v1h-1zM672 267h1v7h-1zM673 266h1v5h-1zM673 273h1v1h-1zM674 265h1v2h-1zM674 268h1v1h-1zM675 258h1v1h-1zM675 261h1v6h-1zM675 270h1v1h-1zM676 258h1v1h-1zM676 263h1v5h-1zM676 271h1v1h-1zM676 274h1v1h-1zM677 262h1v1h-1zM677 264h1v5h-1zM678 262h1v5h-1zM679 259h1v2h-1zM679 262h1v4h-1zM679 267h1v2h-1zM679 272h1v1h-1zM679 279h1v1h-1zM680 260h1v3h-1zM680 264h1v3h-1zM680 273h1v1h-1zM681 260h1v5h-1zM682 255h1v1h-1zM682 257h1v1h-1zM682 259h1v5h-1zM682 265h1v1h-1zM682 268h1v1h-1zM683 251h1v1h-1zM683 259h1v5h-1zM683 282h1v1h-1zM684 259h1v6h-1zM685 262h1v5h-1zM685 268h1v1h-1zM686 264h1v6h-1zM687 263h1v1h-1zM687 265h1v4h-1zM687 270h1v1h-1zM688 266h1v7h-1zM689 267h1v5h-1zM689 274h1v2h-1zM690 261h1v1h-1zM690 270h1v5h-1zM690 276h1v1h-1zM691 269h1v4h-1zM692 269h1v4h-1zM692 276h1v1h-1zM693 256h1v1h-1zM693 267h1v6h-1zM694 267h1v3h-1zM694 271h1v2h-1zM694 274h1v2h-1zM695 266h1v4h-1zM695 271h1v1h-1zM695 274h1v1h-1zM696 264h1v6h-1zM696 272h1v1h-1zM697 262h1v1h-1zM697 264h1v4h-1zM697 270h1v1h-1zM698 259h1v1h-1zM698 262h1v5h-1zM698 268h1v1h-1zM698 272h1v1h-1zM699 262h1v9h-1zM700 262h1v8h-1zM701 253h1v1h-1zM701 261h1v5h-1zM701 272h1v1h-1zM702 261h1v5h-1zM702 268h1v1h-1zM703 258h1v1h-1zM703 261h1v5h-1zM703 267h1v2h-1zM703 270h1v1h-1zM704 262h1v3h-1zM705 261h1v1h-1zM705 263h1v3h-1zM705 267h1v2h-1zM706 263h1v4h-1zM707 261h1v2h-1zM707 264h1v3h-1zM707 268h1v1h-1zM708 245h1v1h-1zM708 263h1v1h-1zM708 265h1v5h-1zM708 273h1v1h-1zM709 265h1v4h-1zM709 270h1v1h-1zM710 261h1v1h-1zM710 265h1v6h-1zM711 264h1v1h-1zM711 266h1v5h-1zM711 276h1v1h-1zM712 265h1v4h-1zM713 264h1v5h-1zM714 263h1v1h-1zM714 265h1v3h-1zM714 271h1v1h-1zM715 265h1v3h-1zM716 265h1v4h-1zM717 264h1v6h-1zM717 272h1v1h-1zM718 257h1v1h-1zM718 262h1v1h-1zM718 264h1v2h-1zM718 267h1v3h-1zM718 275h1v1h-1zM718 277h1v2h-1zM719 263h1v4h-1zM719 268h1v1h-1zM719 277h1v1h-1zM720 262h1v5h-1zM721 262h1v5h-1zM721 270h1v1h-1zM722 260h1v1h-1zM722 263h1v4h-1zM723 261h1v3h-1zM723 265h1v4h-1zM723 270h1v1h-1zM724 261h1v5h-1zM725 259h1v4h-1zM725 264h1v4h-1zM726 259h1v6h-1zM727 240h1v1h-1zM727 256h1v2h-1zM727 260h1v4h-1zM727 265h1v2h-1zM728 260h1v4h-1zM729 259h1v5h-1zM729 265h1v1h-1zM730 260h1v5h-1zM731 245h1v1h-1zM731 257h1v6h-1zM731 264h1v1h-1zM732 259h1v6h-1zM733 259h1v5h-1zM733 265h1v2h-1zM734 256h1v1h-1zM734 258h1v7h-1zM735 259h1v4h-1zM735 265h1v3h-1zM736 259h1v5h-1zM736 268h1v1h-1zM737 260h1v4h-1zM737 265h1v2h-1zM738 252h1v1h-1zM738 255h1v7h-1zM738 264h1v1h-1zM738 266h1v1h-1zM738 269h1v1h-1zM739 250h1v1h-1zM739 259h1v5h-1zM740 252h1v1h-1zM740 258h1v4h-1zM740 263h1v3h-1zM741 254h1v1h-1zM741 258h1v5h-1zM741 264h1v1h-1zM742 259h1v9h-1zM743 261h1v3h-1zM743 267h1v1h-1zM744 260h1v4h-1zM744 265h1v2h-1zM745 259h1v1h-1zM745 263h1v6h-1zM746 262h1v5h-1zM747 259h1v1h-1zM747 262h1v4h-1zM748 261h1v6h-1zM748 268h1v1h-1zM748 272h1v1h-1zM749 260h1v6h-1zM750 261h1v1h-1zM750 263h1v3h-1z" fill="#ffcc33" shape-rendering="crispEdges"/>
<path d="M75 381h1v3h-1zM76 379h1v5h-1zM77 379h1v3h-1zM77 383h1v1h-1zM78 378h1v4h-1zM79 377h1v1h-1zM79 379h1v3h-1zM80 378h1v4h-1zM81 374h1v1h-1zM81 376h1v4h-1zM82 376h1v4h-1zM83 374h1v5h-1zM84 375h1v5h-1zM85 376h1v4h-1zM86 373h1v1h-1zM86 375h1v3h-1zM87 374h1v5h-1zM88 372h1v1h-1zM88 374h1v4h-1zM89 374h1v5h-1zM90 372h1v1h-1zM90 374h1v3h-1zM91 373h1v4h-1zM91 380h1v1h-1zM92 371h1v1h-1zM92 373h1v3h-1zM93 371h1v4h-1zM94 369h1v4h-1zM94 374h1v1h-1zM95 367h1v4h-1zM96 365h1v5h-1zM97 365h1v5h-1zM98 368h1v2h-1zM98 371h1v1h-1zM99 367h1v6h-1zM100 367h1v5h-1zM101 368h1v5h-1zM102 367h1v5h-1zM103 367h1v5h-1zM104 367h1v4h-1zM105 368h1v4h-1zM106 369h1v4h-1zM107 369h1v4h-1zM108 370h1v4h-1zM109 369h1v1h-1zM109 371h1v4h-1zM110 370h1v4h-1zM111 372h1v4h-1zM112 370h1v1h-1zM112 372h1v4h-1zM113 368h1v1h-1zM113 372h1v4h-1zM114 372h1v4h-1zM115 371h1v3h-1zM115 375h1v1h-1zM116 367h1v1h-1zM116 371h1v3h-1zM117 371h1v3h-1zM118 368h1v1h-1zM118 371h1v5h-1zM119 371h1v4h-1zM120 372h1v4h-1zM121 373h1v5h-1zM122 373h1v4h-1zM123 373h1v4h-1zM124 372h1v6h-1zM125 373h1v4h-1zM126 374h1v3h-1zM126 378h1v1h-1zM127 374h1v4h-1zM128 372h1v1h-1zM128 374h1v5h-1zM129 374h1v3h-1zM129 378h1v1h-1zM130 374h1v5h-1zM130 380h1v1h-1zM131 375h1v4h-1zM132 374h1v4h-1zM133 373h1v4h-1zM134 373h1v3h-1zM135 373h1v4h-1zM136 372h1v1h-1zM136 374h1v4h-1zM137 372h1v6h-1zM138 372h1v5h-1zM138 378h1v1h-1zM139 372h1v4h-1zM140 370h1v1h-1zM140 372h1v3h-1zM141 372h1v5h-1zM142 371h1v6h-1zM143 370h1v4h-1zM143 375h1v1h-1zM144 370h1v4h-1zM145 369h1v5h-1zM146 368h1v4h-1zM147 368h1v4h-1zM148 367h1v5h-1zM149 368h1v5h-1zM150 368h1v4h-1zM150 373h1v1h-1zM150 375h1v1h-1zM151 370h1v3h-1zM152 367h1v6h-1zM153 368h1v5h-1zM154 359h1v1h-1zM154 367h1v1h-1zM154 369h1v4h-1zM155 369h1v4h-1zM156 365h1v1h-1zM156 369h1v5h-1zM156 375h1v1h-1zM156 381h1v1h-1zM157 366h1v4h-1zM158 363h1v7h-1zM158 373h1v1h-1zM159 356h1v2h-1zM159 360h1v1h-1zM159 363h1v6h-1zM160 355h1v1h-1zM160 357h1v1h-1zM160 359h1v2h-1zM160 362h1v3h-1zM160 366h1v1h-1zM160 368h1v1h-1zM161 360h1v4h-1zM161 366h1v1h-1zM162 355h1v1h-1zM162 357h1v1h-1zM162 359h1v4h-1zM162 364h1v2h-1zM162 367h1v1h-1zM163 359h1v1h-1zM163 361h1v5h-1zM164 356h1v1h-1zM164 359h1v5h-1zM164 365h1v1h-1zM165 359h1v1h-1zM165 361h1v1h-1zM165 363h1v4h-1zM166 361h1v2h-1zM166 364h1v3h-1zM167 359h1v7h-1zM167 367h1v1h-1zM168 356h1v1h-1zM168 360h1v7h-1zM168 369h1v1h-1zM169 359h1v6h-1zM169 366h1v1h-1zM170 360h1v5h-1zM170 366h1v1h-1zM171 357h1v1h-1zM171 359h1v1h-1zM171 361h1v4h-1zM172 360h1v6h-1zM173 360h1v6h-1zM174 360h1v1h-1zM174 362h1v5h-1zM175 362h1v3h-1zM176 362h1v4h-1zM177 362h1v5h-1zM178 362h1v5h-1zM179 363h1v3h-1zM179 367h1v1h-1zM180 363h1v5h-1zM181 363h1v4h-1zM182 363h1v4h-1zM183 360h1v5h-1zM184 359h1v1h-1zM184 361h1v5h-1zM185 362h1v5h-1zM186 362h1v5h-1zM187 363h1v1h-1zM187 365h1v3h-1zM188 364h1v6h-1zM189 363h1v2h-1zM189 366h1v4h-1zM190 363h1v1h-1zM190 366h1v4h-1zM191 365h1v3h-1zM191 369h1v1h-1zM192 365h1v4h-1zM192 370h1v1h-1zM193 366h1v4h-1zM194 365h1v5h-1zM195 365h1v4h-1zM196 363h1v1h-1zM196 365h1v4h-1zM197 365h1v4h-1zM198 365h1v3h-1zM199 365h1v4h-1zM200 362h1v1h-1zM200 365h1v4h-1zM200 370h1v1h-1zM201 365h1v5h-1zM201 374h1v1h-1zM202 365h1v5h-1zM202 371h1v1h-1zM203 363h1v1h-1zM203 367h1v4h-1zM204 364h1v7h-1zM205 366h1v3h-1zM206 367h1v3h-1zM207 366h1v5h-1zM208 368h1v3h-1zM208 372h1v1h-1zM209 366h1v4h-1zM209 371h1v1h-1zM210 365h1v6h-1zM211 359h1v1h-1zM211 368h1v3h-1zM212 366h1v7h-1zM213 367h1v3h-1zM214 369h1v3h-1zM214 373h1v1h-1zM215 367h1v5h-1zM216 365h1v1h-1zM216 367h1v4h-1zM217 367h1v3h-1zM217 371h1v1h-1zM218 366h1v5h-1zM219 366h1v4h-1zM220 366h1v1h-1zM220 368h1v3h-1zM221 364h1v1h-1zM221 366h1v4h-1zM221 371h1v1h-1zM222 364h1v1h-1zM222 366h1v4h-1zM223 360h1v1h-1zM223 366h1v3h-1zM224 365h1v4h-1zM225 365h1v5h-1zM226 364h1v5h-1zM227 365h1v5h-1zM228 363h1v1h-1zM228 365h1v4h-1zM229 365h1v1h-1zM229 367h1v4h-1zM230 364h1v4h-1zM231 364h1v5h-1zM232 365h1v4h-1zM233 363h1v7h-1zM234 365h1v6h-1zM235 365h1v5h-1zM235 371h1v1h-1zM236 366h1v1h-1zM236 368h1v5h-1zM237 370h1v1h-1zM237 372h1v3h-1zM238 371h1v1h-1zM238 373h1v5h-1zM239 373h1v5h-1zM239 380h1v1h-1zM240 374h1v1h-1zM240 376h1v3h-1zM240 381h1v1h-1zM241 371h1v4h-1zM241 376h1v1h-1zM242 370h1v4h-1zM243 368h1v3h-1zM244 365h1v4h-1zM245 363h1v6h-1zM246 363h1v6h-1zM247 355h1v1h-1zM247 360h1v1h-1zM247 362h1v5h-1zM248 362h1v4h-1zM249 361h1v4h-1zM250 358h1v1h-1zM250 362h1v3h-1zM251 356h1v1h-1zM251 362h1v4h-1zM252 362h1v4h-1zM253 362h1v1h-1zM253 364h1v2h-1zM254 363h1v3h-1zM255 362h1v1h-1zM255 364h1v4h-1zM256 361h1v1h-1zM256 363h1v4h-1zM257 360h1v1h-1zM257 362h1v5h-1zM258 363h1v1h-1zM258 365h1v4h-1zM259 365h1v4h-1zM259 370h1v1h-1zM260 365h1v5h-1zM261 366h1v5h-1zM262 366h1v5h-1zM263 366h1v4h-1zM264 366h1v4h-1zM265 364h1v7h-1zM266 366h1v5h-1zM267 366h1v5h-1zM268 367h1v4h-1zM268 374h1v1h-1zM269 368h1v4h-1zM270 367h1v1h-1zM270 369h1v4h-1zM271 366h1v5h-1zM272 367h1v2h-1zM272 370h1v2h-1zM273 365h1v1h-1zM273 367h1v3h-1zM273 371h1v1h-1zM274 365h1v4h-1zM275 362h1v5h-1zM276 362h1v5h-1zM277 359h1v3h-1zM277 363h1v1h-1zM278 357h1v5h-1zM278 363h1v1h-1zM279 358h1v6h-1zM280 357h1v1h-1zM280 359h1v5h-1zM281 356h1v4h-1zM281 362h1v1h-1zM282 357h1v6h-1zM283 357h1v4h-1zM284 351h1v1h-1zM284 355h1v4h-1zM284 360h1v1h-1zM285 355h1v4h-1zM286 356h1v4h-1zM286 361h1v1h-1zM287 357h1v5h-1zM287 366h1v1h-1zM288 360h1v4h-1zM288 365h1v1h-1zM289 360h1v3h-1zM289 364h1v1h-1zM290 361h1v5h-1zM291 360h1v2h-1zM291 363h1v3h-1zM292 361h1v5h-1zM293 358h1v7h-1zM294 360h1v2h-1zM294 363h1v3h-1zM295 358h1v4h-1zM296 356h1v4h-1zM297 353h1v1h-1zM297 355h1v5h-1zM298 352h1v1h-1zM298 355h1v4h-1zM299 353h1v1h-1zM299 355h1v4h-1zM300 356h1v4h-1zM301 357h1v4h-1zM302 360h1v4h-1zM303 362h1v4h-1zM304 362h1v5h-1zM305 364h1v1h-1zM305 366h1v3h-1zM305 371h1v1h-1zM306 364h1v5h-1zM307 363h1v5h-1zM308 360h1v5h-1zM308 367h1v1h-1zM309 360h1v4h-1zM310 359h1v5h-1zM310 365h1v1h-1zM311 360h1v3h-1zM311 365h1v1h-1zM312 361h1v5h-1zM313 362h1v6h-1zM314 364h1v5h-1zM315 366h1v5h-1zM316 366h1v4h-1zM317 366h1v5h-1zM318 367h1v3h-1zM319 366h1v4h-1zM320 365h1v1h-1zM320 367h1v4h-1zM320 372h1v1h-1zM321 364h1v2h-1zM321 367h1v4h-1zM322 365h1v5h-1zM323 365h1v1h-1zM323 367h1v5h-1zM324 367h1v4h-1zM325 366h1v4h-1zM325 371h1v1h-1zM326 365h1v5h-1zM327 366h1v5h-1zM328 366h1v4h-1zM329 366h1v5h-1zM330 366h1v6h-1zM331 364h1v1h-1zM331 366h1v6h-1zM332 366h1v4h-1zM333 362h1v1h-1zM333 365h1v4h-1zM333 371h1v1h-1zM334 362h1v5h-1zM334 368h1v1h-1zM335 365h1v5h-1zM336 366h1v5h-1zM337 365h1v6h-1zM338 364h1v6h-1zM339 365h1v4h-1zM340 364h1v1h-1zM340 366h1v4h-1zM341 364h1v5h-1zM342 362h1v6h-1zM343 364h1v4h-1zM344 361h1v1h-1zM344 363h1v4h-1zM345 361h1v4h-1zM345 366h1v1h-1zM346 360h1v2h-1zM346 363h1v3h-1zM347 362h1v4h-1zM348 361h1v5h-1zM349 359h1v4h-1zM349 364h1v1h-1zM350 360h1v4h-1zM350 366h1v1h-1zM351 360h1v4h-1zM352 360h1v6h-1zM353 360h1v4h-1zM354 358h1v6h-1zM354 365h1v1h-1zM355 358h1v5h-1zM356 357h1v4h-1zM357 358h1v4h-1zM358 358h1v3h-1zM359 356h1v5h-1zM359 363h1v1h-1zM360 357h1v4h-1zM361 356h1v5h-1zM362 355h1v1h-1zM362 357h1v4h-1zM363 356h1v4h-1zM363 361h1v1h-1zM364 356h1v3h-1zM364 360h1v1h-1zM365 355h1v4h-1zM366 355h1v5h-1zM367 355h1v5h-1zM368 356h1v6h-1zM369 356h1v6h-1zM370 356h1v4h-1zM371 356h1v5h-1zM371 363h1v1h-1zM372 353h1v1h-1zM372 355h1v5h-1zM373 355h1v5h-1zM374 353h1v5h-1zM375 353h1v5h-1zM375 359h1v1h-1zM376 352h1v6h-1zM377 351h1v4h-1zM378 350h1v4h-1zM379 350h1v5h-1zM380 351h1v4h-1zM381 351h1v4h-1zM382 351h1v4h-1zM382 356h1v1h-1zM383 352h1v5h-1zM384 354h1v3h-1zM385 354h1v4h-1zM386 354h1v5h-1zM386 361h1v1h-1zM387 351h1v7h-1zM388 352h1v7h-1zM389 353h1v4h-1zM390 351h1v7h-1zM391 349h1v1h-1zM391 351h1v4h-1zM392 329h1v1h-1zM392 349h1v5h-1zM393 350h1v6h-1zM394 350h1v5h-1zM395 346h1v1h-1zM395 348h1v5h-1zM396 348h1v2h-1zM396 351h1v3h-1zM397 349h1v4h-1zM397 354h1v1h-1zM398 347h1v5h-1zM399 345h1v5h-1zM400 345h1v5h-1zM401 339h1v1h-1zM401 342h1v2h-1zM401 345h1v6h-1zM402 333h1v1h-1zM402 339h1v1h-1zM402 341h1v1h-1zM402 343h1v1h-1zM402 345h1v3h-1zM402 349h1v1h-1zM402 352h1v1h-1zM403 336h1v1h-1zM403 338h1v3h-1zM403 343h1v1h-1zM403 345h1v4h-1zM403 350h1v1h-1zM404 334h1v1h-1zM404 340h1v2h-1zM404 343h1v1h-1zM404 345h1v2h-1zM404 351h1v1h-1zM404 356h1v1h-1zM405 316h1v1h-1zM405 339h1v1h-1zM405 341h1v1h-1zM405 343h1v5h-1zM405 353h1v1h-1zM406 334h1v1h-1zM406 336h1v2h-1zM406 340h1v5h-1zM406 347h1v2h-1zM407 335h1v2h-1zM407 338h1v2h-1zM407 341h1v1h-1zM407 345h1v3h-1zM407 349h1v1h-1zM408 335h1v3h-1zM408 339h1v4h-1zM408 344h1v3h-1zM409 324h1v1h-1zM409 329h1v1h-1zM409 331h1v2h-1zM409 334h1v1h-1zM409 337h1v1h-1zM409 340h1v1h-1zM409 342h1v2h-1zM409 349h1v1h-1zM410 321h1v1h-1zM410 324h1v1h-1zM410 333h1v1h-1zM410 335h1v1h-1zM410 338h1v5h-1zM410 344h1v1h-1zM410 347h1v1h-1zM411 330h1v1h-1zM411 333h1v1h-1zM411 337h1v1h-1zM411 339h1v2h-1zM411 342h1v2h-1zM411 346h1v2h-1zM411 350h1v1h-1zM411 353h1v2h-1zM412 332h1v3h-1zM412 337h1v1h-1zM412 341h1v1h-1zM412 343h1v1h-1zM412 345h1v3h-1zM413 323h1v1h-1zM413 334h1v1h-1zM413 336h1v2h-1zM413 340h1v2h-1zM413 344h1v2h-1zM413 348h1v1h-1zM413 352h1v1h-1zM413 355h1v1h-1zM414 324h1v1h-1zM414 333h1v5h-1zM414 339h1v1h-1zM414 341h1v1h-1zM414 343h1v2h-1zM414 349h1v1h-1zM415 327h1v1h-1zM415 331h1v1h-1zM415 335h1v2h-1zM415 338h1v1h-1zM415 340h1v1h-1zM415 342h1v3h-1zM415 346h1v1h-1zM416 331h1v1h-1zM416 333h1v1h-1zM416 335h1v3h-1zM416 339h1v3h-1zM416 354h1v1h-1zM417 321h1v1h-1zM417 331h1v2h-1zM417 335h1v1h-1zM417 337h1v8h-1zM417 358h1v1h-1zM418 330h1v1h-1zM418 333h1v2h-1zM418 336h1v1h-1zM418 339h1v1h-1zM418 342h1v1h-1zM418 345h1v1h-1zM418 347h1v1h-1zM419 330h1v2h-1zM419 333h1v8h-1zM419 343h1v1h-1zM419 352h1v1h-1zM420 328h1v1h-1zM420 331h1v1h-1zM420 334h1v1h-1zM420 336h1v1h-1zM420 338h1v2h-1zM420 341h1v2h-1zM420 345h1v1h-1zM420 347h1v1h-1zM420 351h1v2h-1zM421 334h1v1h-1zM421 336h1v1h-1zM421 338h1v2h-1zM421 341h1v5h-1zM421 347h1v1h-1zM421 349h1v1h-1zM422 329h1v1h-1zM422 335h1v2h-1zM422 339h1v3h-1zM422 343h1v2h-1zM422 346h1v1h-1zM422 348h1v1h-1zM422 350h1v1h-1zM423 330h1v1h-1zM423 333h1v1h-1zM423 337h1v2h-1zM423 340h1v3h-1zM423 344h1v2h-1zM423 348h1v1h-1zM423 351h1v2h-1zM424 323h1v1h-1zM424 327h1v1h-1zM424 334h1v1h-1zM424 336h1v1h-1zM424 338h1v4h-1zM424 343h1v1h-1zM424 345h1v1h-1zM425 324h1v1h-1zM425 326h1v1h-1zM425 329h1v2h-1zM425 332h1v3h-1zM425 338h1v1h-1zM425 340h1v1h-1zM425 342h1v2h-1zM425 345h1v1h-1zM425 353h1v1h-1zM426 332h1v7h-1zM426 340h1v2h-1zM426 343h1v1h-1zM426 350h1v1h-1zM427 326h1v1h-1zM427 329h1v1h-1zM427 332h1v2h-1zM427 336h1v7h-1zM427 344h1v1h-1zM428 331h1v2h-1zM428 334h1v2h-1zM428 337h1v3h-1zM428 341h1v3h-1zM428 347h1v1h-1zM429 322h1v1h-1zM429 326h1v1h-1zM429 330h1v3h-1zM429 334h1v1h-1zM429 337h1v4h-1zM429 343h1v1h-1zM430 329h1v1h-1zM430 331h1v4h-1zM430 338h1v1h-1zM430 340h1v1h-1zM430 342h1v2h-1zM431 329h1v1h-1zM431 331h1v4h-1zM431 339h1v1h-1zM431 341h1v1h-1zM431 348h1v1h-1zM432 335h1v2h-1zM432 338h1v1h-1zM432 340h1v5h-1zM432 346h1v1h-1zM432 350h1v1h-1zM432 353h1v1h-1zM433 321h1v1h-1zM433 329h1v1h-1zM433 336h1v2h-1zM433 339h1v6h-1zM433 349h1v1h-1zM433 352h1v1h-1zM433 357h1v1h-1zM434 336h1v3h-1zM434 342h1v3h-1zM434 346h1v2h-1zM434 349h1v2h-1zM434 353h1v2h-1zM435 336h1v2h-1zM435 340h1v9h-1zM436 320h1v1h-1zM436 323h1v1h-1zM436 327h1v2h-1zM436 336h1v3h-1zM436 340h1v1h-1zM436 342h1v2h-1zM436 345h1v2h-1zM437 319h1v1h-1zM437 322h1v1h-1zM437 325h1v1h-1zM437 327h1v1h-1zM437 329h1v1h-1zM437 331h1v2h-1zM437 334h1v4h-1zM437 339h1v3h-1zM437 345h1v1h-1zM438 314h1v1h-1zM438 318h1v2h-1zM438 323h1v2h-1zM438 326h1v5h-1zM438 332h1v1h-1zM438 336h1v2h-1zM439 312h1v2h-1zM439 317h1v1h-1zM439 321h1v1h-1zM439 323h1v1h-1zM439 326h1v3h-1zM439 333h1v2h-1zM440 322h1v4h-1zM440 329h1v2h-1zM440 332h1v4h-1zM440 338h1v1h-1zM441 315h1v1h-1zM441 317h1v1h-1zM441 325h1v1h-1zM441 328h1v4h-1zM441 334h1v2h-1zM441 341h1v1h-1zM442 318h1v1h-1zM442 322h1v3h-1zM442 326h1v3h-1zM442 331h1v1h-1zM442 335h1v1h-1zM442 348h1v1h-1zM443 321h1v1h-1zM443 323h1v6h-1zM443 330h1v1h-1zM443 332h1v1h-1zM443 335h1v1h-1zM443 338h1v1h-1zM443 341h1v1h-1zM444 318h1v1h-1zM444 324h1v5h-1zM444 330h1v2h-1zM444 340h1v1h-1zM445 316h1v1h-1zM445 319h1v1h-1zM445 322h1v1h-1zM445 324h1v4h-1zM445 332h1v1h-1zM445 335h1v1h-1zM446 312h1v1h-1zM446 316h1v1h-1zM446 318h1v6h-1zM446 325h1v1h-1zM446 330h1v1h-1zM447 314h1v4h-1zM447 321h1v2h-1zM447 324h1v1h-1zM447 326h1v1h-1zM447 328h1v1h-1zM447 330h1v2h-1zM448 313h1v1h-1zM448 315h1v2h-1zM448 319h1v1h-1zM448 321h1v3h-1zM448 326h1v1h-1zM449 314h1v1h-1zM449 318h1v8h-1zM450 312h1v1h-1zM450 314h1v2h-1zM450 318h1v5h-1zM450 329h1v1h-1zM451 314h1v1h-1zM451 316h1v3h-1zM451 321h1v2h-1zM451 325h1v1h-1zM451 327h1v1h-1zM452 311h1v1h-1zM452 313h1v6h-1zM452 320h1v1h-1zM453 314h1v4h-1zM453 319h1v2h-1zM453 322h1v3h-1zM454 312h1v4h-1zM454 317h1v1h-1zM454 319h1v5h-1zM455 312h1v1h-1zM455 314h1v3h-1zM455 318h1v2h-1zM455 321h1v1h-1zM456 312h1v8h-1zM456 321h1v3h-1zM457 312h1v1h-1zM457 315h1v7h-1zM457 324h1v1h-1zM458 314h1v2h-1zM458 318h1v2h-1zM458 321h1v1h-1zM459 313h1v1h-1zM459 315h1v1h-1zM459 317h1v5h-1zM459 324h1v2h-1zM460 312h1v1h-1zM460 314h1v7h-1zM461 311h1v1h-1zM461 313h1v2h-1zM461 316h1v4h-1zM462 314h1v2h-1zM462 317h1v1h-1zM462 319h1v2h-1zM462 322h1v1h-1zM463 313h1v1h-1zM463 315h1v8h-1zM463 324h1v1h-1zM464 311h1v1h-1zM464 316h1v1h-1zM464 318h1v5h-1zM465 315h1v1h-1zM465 317h1v6h-1zM465 326h1v1h-1zM466 317h1v1h-1zM466 320h1v4h-1zM466 325h1v2h-1zM467 320h1v4h-1zM468 318h1v6h-1zM469 317h1v7h-1zM470 313h1v1h-1zM470 317h1v5h-1zM471 318h1v5h-1zM472 315h1v1h-1zM472 319h1v3h-1zM472 325h1v2h-1zM473 318h1v6h-1zM474 315h1v2h-1zM474 318h1v5h-1zM475 317h1v1h-1zM475 319h1v4h-1zM475 325h1v1h-1zM476 316h1v1h-1zM476 318h1v1h-1zM476 320h1v6h-1zM477 314h1v2h-1zM477 318h1v1h-1zM477 320h1v2h-1zM477 323h1v1h-1zM478 316h1v1h-1zM478 318h1v1h-1zM478 320h1v5h-1zM479 320h1v5h-1zM479 326h1v1h-1zM480 318h1v6h-1zM481 315h1v1h-1zM481 318h1v8h-1zM482 320h1v6h-1zM483 320h1v7h-1zM484 321h1v7h-1zM484 342h1v1h-1zM485 321h1v1h-1zM485 323h1v6h-1zM486 322h1v1h-1zM486 324h1v4h-1zM486 330h1v1h-1zM487 325h1v6h-1zM488 327h1v4h-1zM488 335h1v1h-1zM489 329h1v5h-1zM490 329h1v5h-1zM491 329h1v1h-1zM491 331h1v4h-1zM491 337h1v1h-1zM492 329h1v6h-1zM493 332h1v5h-1zM494 329h1v1h-1zM494 331h1v5h-1zM494 337h1v1h-1zM495 330h1v6h-1zM496 328h1v6h-1zM496 336h1v1h-1zM497 328h1v5h-1zM498 327h1v5h-1zM499 327h1v5h-1zM500 326h1v7h-1zM500 334h1v1h-1zM501 324h1v1h-1zM501 326h1v7h-1zM502 327h1v5h-1zM503 327h1v1h-1zM503 329h1v4h-1zM504 328h1v6h-1zM505 328h1v7h-1zM506 327h1v6h-1zM507 329h1v4h-1zM507 334h1v1h-1zM508 331h1v4h-1zM508 336h1v1h-1zM508 339h1v1h-1zM509 330h1v5h-1zM510 330h1v8h-1zM511 329h1v1h-1zM511 333h1v5h-1zM511 343h1v1h-1zM512 333h1v4h-1zM513 333h1v4h-1zM513 338h1v1h-1zM514 328h1v1h-1zM514 334h1v5h-1zM514 340h1v1h-1zM515 335h1v4h-1zM516 335h1v3h-1zM517 333h1v6h-1zM517 340h1v1h-1zM518 334h1v6h-1zM519 333h1v7h-1zM519 346h1v1h-1zM520 336h1v4h-1zM521 334h1v7h-1zM522 335h1v1h-1zM522 337h1v4h-1zM523 332h1v1h-1zM523 336h1v4h-1zM523 342h1v1h-1zM524 333h1v6h-1zM524 340h1v1h-1zM525 332h1v6h-1zM525 340h1v1h-1zM526 331h1v1h-1zM526 333h1v5h-1zM526 348h1v1h-1zM527 333h1v2h-1zM527 336h1v2h-1zM528 333h1v6h-1zM529 334h1v5h-1zM529 340h1v1h-1zM530 336h1v4h-1zM530 342h1v1h-1zM531 333h1v1h-1zM531 336h1v1h-1zM531 338h1v5h-1zM532 336h1v1h-1zM532 338h1v4h-1zM532 343h1v1h-1zM533 336h1v1h-1zM533 338h1v1h-1zM533 340h1v1h-1zM533 342h1v2h-1zM534 341h1v6h-1zM535 341h1v5h-1zM536 342h1v5h-1zM536 348h1v1h-1zM537 339h1v5h-1zM537 345h1v3h-1zM538 341h1v6h-1zM539 343h1v4h-1zM540 342h1v5h-1zM541 341h1v6h-1zM541 348h1v1h-1zM542 341h1v2h-1zM542 344h1v4h-1zM543 342h1v1h-1zM543 344h1v1h-1zM543 346h1v1h-1zM543 349h1v1h-1zM544 339h1v1h-1zM544 341h1v3h-1zM544 345h1v4h-1zM545 342h1v1h-1zM545 344h1v4h-1zM546 342h1v1h-1zM546 344h1v4h-1zM546 349h1v1h-1zM547 344h1v4h-1zM547 349h1v1h-1zM548 345h1v5h-1zM549 342h1v5h-1zM549 349h1v2h-1zM550 340h1v1h-1zM550 344h1v4h-1zM550 349h1v2h-1zM551 345h1v4h-1zM552 344h1v1h-1zM552 346h1v5h-1zM552 352h1v1h-1zM553 345h1v5h-1zM553 353h1v1h-1zM554 345h1v1h-1zM554 347h1v4h-1zM555 346h1v4h-1zM556 345h1v5h-1zM556 351h1v2h-1zM556 354h1v1h-1zM557 347h1v4h-1zM557 352h1v1h-1zM558 344h1v1h-1zM558 346h1v6h-1zM559 344h1v1h-1zM559 346h1v6h-1zM560 345h1v6h-1zM561 344h1v1h-1zM561 346h1v4h-1zM562 347h1v6h-1zM563 346h1v1h-1zM563 348h1v3h-1zM563 353h1v1h-1zM564 346h1v6h-1zM565 345h1v1h-1zM565 347h1v6h-1zM565 354h1v1h-1zM566 350h1v6h-1zM567 349h1v1h-1zM567 351h1v7h-1zM568 350h1v5h-1zM569 351h1v4h-1zM569 356h1v1h-1zM570 351h1v5h-1zM570 359h1v1h-1zM571 352h1v6h-1zM572 351h1v7h-1zM572 359h1v1h-1zM573 353h1v6h-1zM574 353h1v6h-1zM575 348h1v1h-1zM575 352h1v1h-1zM575 354h1v5h-1zM576 351h1v7h-1zM577 353h1v5h-1zM578 354h1v3h-1zM578 358h1v1h-1zM579 353h1v5h-1zM579 359h1v1h-1zM579 361h1v1h-1zM580 354h1v5h-1zM581 353h1v5h-1zM581 360h1v2h-1zM582 354h1v6h-1zM583 351h1v1h-1zM583 355h1v1h-1zM583 357h1v3h-1zM584 355h1v2h-1zM584 358h1v5h-1zM585 352h1v1h-1zM585 357h1v5h-1zM586 355h1v1h-1zM586 357h1v6h-1zM587 354h1v1h-1zM587 358h1v2h-1zM587 361h1v1h-1zM587 363h1v1h-1zM588 357h1v6h-1zM589 357h1v5h-1zM590 355h1v6h-1zM590 367h1v1h-1zM591 353h1v1h-1zM591 356h1v5h-1zM592 354h1v1h-1zM592 356h1v4h-1zM592 363h1v1h-1zM593 354h1v1h-1zM593 356h1v3h-1zM593 360h1v1h-1zM593 363h1v1h-1zM594 354h1v6h-1zM595 352h1v6h-1zM595 359h1v1h-1zM596 353h1v5h-1zM597 353h1v4h-1zM598 352h1v1h-1zM598 354h1v3h-1zM599 352h1v7h-1zM600 353h1v6h-1zM601 353h1v4h-1zM601 358h1v1h-1zM601 360h1v1h-1zM602 350h1v6h-1zM603 351h1v6h-1zM603 358h1v1h-1zM604 352h1v5h-1zM605 351h1v6h-1zM606 351h1v5h-1zM606 357h1v2h-1zM607 350h1v4h-1zM607 355h1v1h-1zM608 350h1v1h-1zM608 352h1v4h-1zM608 357h1v1h-1zM609 350h1v7h-1zM610 351h1v2h-1zM610 354h1v4h-1zM611 349h1v1h-1zM611 353h1v6h-1zM612 353h1v1h-1zM612 355h1v4h-1zM612 360h1v1h-1zM613 356h1v6h-1zM613 363h1v1h-1zM614 356h1v6h-1zM614 363h1v1h-1zM614 368h1v1h-1zM615 361h1v3h-1zM615 365h1v2h-1zM616 360h1v6h-1zM617 359h1v5h-1zM617 365h1v2h-1zM618 356h1v1h-1zM618 359h1v5h-1zM618 365h1v1h-1zM619 359h1v4h-1zM619 364h1v1h-1zM620 358h1v3h-1zM620 362h1v2h-1zM620 368h1v1h-1zM621 341h1v1h-1zM621 360h1v4h-1zM621 368h1v1h-1zM622 354h1v1h-1zM622 356h1v1h-1zM622 359h1v5h-1zM623 358h1v4h-1zM623 366h1v1h-1zM624 358h1v6h-1zM625 356h1v5h-1zM625 362h1v1h-1zM626 351h1v1h-1zM626 354h1v1h-1zM626 356h1v1h-1zM626 358h1v3h-1zM626 364h1v1h-1zM627 357h1v5h-1zM627 363h1v1h-1zM627 366h1v1h-1zM628 357h1v5h-1zM628 363h1v1h-1zM629 357h1v1h-1zM629 359h1v6h-1zM630 356h1v1h-1zM630 358h1v5h-1zM630 364h1v1h-1zM631 357h1v1h-1zM631 359h1v4h-1zM631 365h1v1h-1zM632 358h1v7h-1zM633 358h1v6h-1zM634 356h1v1h-1zM634 358h1v5h-1zM634 364h1v1h-1zM635 360h1v4h-1zM635 365h1v1h-1zM636 357h1v7h-1zM636 365h1v1h-1zM637 356h1v6h-1zM637 364h1v1h-1zM638 357h1v6h-1zM638 364h1v1h-1zM639 357h1v5h-1zM639 367h1v1h-1zM640 354h1v1h-1zM640 356h1v6h-1zM641 355h1v1h-1zM641 357h1v5h-1zM641 368h1v1h-1zM642 350h1v1h-1zM642 352h1v1h-1zM642 355h1v6h-1zM643 356h1v1h-1zM643 358h1v4h-1zM644 354h1v1h-1zM644 356h1v3h-1zM645 352h1v7h-1zM645 362h1v1h-1zM646 351h1v1h-1zM646 353h1v7h-1zM647 353h1v7h-1zM647 362h1v1h-1zM648 349h1v1h-1zM648 352h1v7h-1zM649 351h1v7h-1zM650 352h1v6h-1zM650 360h1v2h-1zM650 364h1v1h-1zM651 352h1v2h-1zM651 355h1v6h-1zM652 347h1v1h-1zM652 351h1v2h-1zM652 354h1v4h-1zM652 359h1v1h-1zM653 347h1v1h-1zM653 351h1v8h-1zM654 351h1v1h-1zM654 354h1v4h-1zM655 348h1v1h-1zM655 350h1v1h-1zM655 353h1v7h-1zM656 354h1v6h-1zM657 353h1v5h-1zM657 363h1v2h-1zM658 348h1v1h-1zM658 351h1v2h-1zM658 354h1v3h-1zM658 358h1v1h-1zM659 352h1v7h-1zM659 361h1v1h-1zM660 350h1v3h-1zM660 354h1v4h-1zM661 348h1v1h-1zM661 350h1v1h-1zM661 353h1v4h-1zM661 359h1v1h-1zM662 350h1v1h-1zM662 353h1v5h-1zM663 348h1v1h-1zM663 350h1v5h-1zM663 357h1v1h-1zM664 350h1v6h-1zM664 359h1v1h-1zM665 352h1v7h-1zM666 347h1v1h-1zM666 351h1v4h-1zM667 349h1v5h-1zM667 355h1v1h-1zM668 348h1v1h-1zM668 350h1v5h-1zM668 356h1v1h-1zM669 342h1v1h-1zM669 346h1v6h-1zM669 353h1v1h-1zM670 343h1v1h-1zM670 345h1v3h-1zM670 349h1v5h-1zM671 343h1v1h-1zM671 346h1v1h-1zM671 348h1v3h-1zM671 352h1v1h-1zM672 339h1v1h-1zM672 346h1v4h-1zM672 351h1v1h-1zM672 353h1v1h-1zM673 343h1v7h-1zM673 351h1v1h-1zM674 342h1v1h-1zM674 344h1v6h-1zM675 342h1v1h-1zM675 344h1v6h-1zM675 351h1v1h-1zM676 343h1v1h-1zM676 345h1v4h-1zM676 350h1v2h-1zM677 345h1v5h-1zM678 337h1v1h-1zM678 340h1v8h-1zM679 340h1v8h-1zM679 349h1v1h-1zM680 338h1v10h-1zM681 337h1v2h-1zM681 340h1v4h-1zM681 346h1v1h-1zM681 351h1v1h-1zM682 334h1v1h-1zM682 338h1v2h-1zM682 341h1v2h-1zM683 338h1v7h-1zM684 339h1v7h-1zM685 336h1v1h-1zM685 339h1v5h-1zM685 346h1v1h-1zM686 335h1v1h-1zM686 337h1v3h-1zM686 341h1v1h-1zM686 343h1v3h-1zM687 334h1v2h-1zM687 337h1v6h-1zM688 335h1v6h-1zM688 342h1v1h-1zM689 337h1v5h-1zM690 335h1v4h-1zM690 340h1v1h-1zM691 330h1v1h-1zM691 334h1v9h-1zM691 344h1v1h-1zM692 334h1v2h-1zM692 337h1v5h-1zM692 343h1v1h-1zM692 345h1v1h-1zM693 334h1v1h-1zM693 336h1v6h-1zM694 331h1v1h-1zM694 333h1v6h-1zM694 340h1v1h-1zM695 332h1v1h-1zM695 335h1v8h-1zM696 333h1v2h-1zM696 336h1v4h-1zM697 330h1v1h-1zM697 332h1v9h-1zM697 342h1v1h-1zM698 332h1v7h-1zM699 330h1v3h-1zM699 334h1v3h-1zM699 340h1v1h-1zM700 325h1v1h-1zM700 327h1v1h-1zM700 330h1v5h-1zM700 337h1v1h-1zM701 326h1v2h-1zM701 330h1v4h-1zM702 328h1v1h-1zM702 331h1v4h-1zM702 336h1v1h-1zM702 338h1v1h-1zM703 327h1v1h-1zM703 331h1v2h-1zM703 334h1v5h-1zM703 340h1v1h-1zM704 332h1v2h-1zM704 336h1v4h-1zM704 341h1v1h-1zM705 330h1v1h-1zM705 334h1v4h-1zM705 342h1v2h-1zM706 333h1v3h-1zM706 337h1v6h-1zM707 337h1v6h-1zM707 344h1v1h-1zM707 346h1v2h-1zM708 331h1v1h-1zM708 335h1v1h-1zM708 337h1v4h-1zM708 346h1v1h-1zM708 349h1v1h-1zM709 333h1v1h-1zM709 336h1v4h-1zM709 341h1v2h-1zM709 344h1v1h-1zM709 348h1v1h-1zM710 336h1v5h-1zM710 342h1v1h-1zM710 344h1v2h-1zM710 351h1v1h-1zM711 332h1v1h-1zM711 335h1v6h-1zM711 343h1v1h-1zM712 327h1v1h-1zM712 332h1v1h-1zM712 334h1v3h-1zM712 338h1v4h-1zM712 343h1v1h-1zM713 326h1v1h-1zM713 329h1v2h-1zM713 332h1v2h-1zM713 335h1v1h-1zM713 339h1v1h-1zM714 327h1v1h-1zM714 329h1v3h-1zM714 333h1v2h-1zM714 338h1v1h-1zM714 341h1v2h-1zM715 327h1v1h-1zM715 329h1v8h-1zM716 325h1v1h-1zM716 331h1v3h-1zM716 335h1v2h-1zM716 338h1v2h-1zM716 342h1v2h-1zM716 350h1v1h-1zM717 320h1v1h-1zM717 326h1v1h-1zM717 328h1v1h-1zM717 330h1v3h-1zM717 334h1v1h-1zM717 336h1v1h-1zM717 338h1v1h-1zM718 323h1v1h-1zM718 328h1v3h-1zM718 332h1v5h-1zM718 340h1v1h-1zM718 342h1v1h-1zM719 323h1v1h-1zM719 325h1v3h-1zM719 329h1v3h-1zM719 333h1v1h-1zM719 335h1v1h-1zM719 337h1v1h-1zM719 341h1v1h-1zM720 325h1v1h-1zM720 327h1v2h-1zM720 330h1v2h-1zM720 333h1v2h-1zM720 338h1v3h-1zM721 328h1v5h-1zM721 334h1v3h-1zM721 340h1v1h-1zM722 331h1v3h-1zM722 335h1v5h-1zM723 323h1v1h-1zM723 328h1v1h-1zM723 330h1v4h-1zM723 335h1v3h-1zM723 346h1v1h-1zM724 329h1v5h-1zM724 337h1v2h-1zM724 340h1v4h-1zM725 328h1v3h-1zM725 332h1v7h-1zM726 324h1v1h-1zM726 328h1v3h-1zM726 332h1v4h-1zM726 337h1v1h-1zM727 315h1v1h-1zM727 324h1v1h-1zM727 326h1v5h-1zM727 332h1v1h-1zM728 319h1v1h-1zM728 323h1v2h-1zM728 326h1v1h-1zM728 329h1v2h-1zM728 332h1v2h-1zM728 346h1v1h-1zM729 322h1v4h-1zM729 327h1v1h-1zM729 329h1v5h-1zM729 335h1v1h-1zM729 337h1v1h-1zM730 322h1v7h-1zM730 332h1v1h-1zM730 336h1v1h-1zM730 338h1v1h-1zM731 312h1v1h-1zM731 319h1v3h-1zM731 323h1v2h-1zM731 328h1v2h-1zM731 331h1v1h-1zM731 334h1v1h-1zM732 311h1v1h-1zM732 316h1v2h-1zM732 319h1v3h-1zM732 323h1v2h-1zM732 326h1v1h-1zM732 328h1v1h-1zM732 333h1v1h-1zM733 314h1v1h-1zM733 318h1v5h-1zM733 324h1v4h-1zM734 313h1v1h-1zM734 316h1v3h-1zM734 321h1v1h-1zM734 324h1v2h-1zM735 316h1v2h-1zM735 320h1v2h-1zM735 323h1v5h-1zM736 311h1v2h-1zM736 314h1v1h-1zM736 316h1v1h-1zM736 318h1v1h-1zM736 321h1v2h-1zM736 327h1v1h-1zM736 332h1v1h-1zM737 311h1v2h-1zM737 316h1v1h-1zM737 318h1v3h-1zM737 322h1v3h-1zM737 329h1v1h-1zM737 335h1v1h-1zM738 313h1v2h-1zM738 317h1v1h-1zM738 320h1v2h-1zM738 323h1v7h-1zM739 318h1v1h-1zM739 321h1v5h-1zM739 327h1v3h-1zM739 333h1v1h-1zM740 314h1v1h-1zM740 318h1v2h-1zM740 321h1v5h-1zM740 329h1v2h-1zM740 335h1v1h-1zM741 312h1v1h-1zM741 317h1v5h-1zM741 324h1v1h-1zM741 328h1v1h-1zM741 330h1v1h-1zM741 333h1v1h-1zM742 315h1v6h-1zM742 322h1v2h-1zM742 329h1v1h-1zM743 312h1v1h-1zM743 315h1v2h-1zM743 318h1v3h-1zM743 322h1v1h-1zM743 327h1v2h-1zM743 330h1v1h-1zM743 333h1v1h-1zM744 312h1v1h-1zM744 315h1v2h-1zM744 318h1v2h-1zM744 322h1v1h-1zM744 324h1v1h-1zM744 327h1v1h-1zM744 332h1v1h-1zM745 312h1v3h-1zM745 317h1v6h-1zM745 330h1v1h-1zM746 313h1v1h-1zM746 316h1v5h-1zM746 322h1v2h-1zM746 327h1v1h-1zM747 312h1v1h-1zM747 314h1v2h-1zM747 317h1v2h-1zM747 324h1v1h-1zM748 311h1v5h-1zM748 318h1v2h-1zM748 321h1v2h-1zM749 311h1v1h-1zM749 313h1v3h-1zM749 317h1v1h-1zM749 323h1v1h-1zM749 326h1v1h-1zM749 334h1v1h-1zM750 315h1v8h-1zM750 325h1v1h-1z" fill="#ffff00" shape-rendering="crispEdges"/>
<path d="M75 448h1v4h-1zM75 454h1v1h-1zM76 447h1v5h-1zM76 453h1v1h-1zM76 458h1v1h-1zM77 448h1v1h-1zM77 451h1v4h-1zM77 457h1v1h-1zM78 443h1v1h-1zM78 451h1v5h-1zM79 448h1v2h-1zM79 452h1v1h-1zM79 455h1v3h-1zM79 459h1v1h-1zM80 451h1v3h-1zM80 455h1v1h-1zM81 450h1v6h-1zM82 451h1v5h-1zM82 457h1v1h-1zM82 460h1v1h-1zM82 463h1v1h-1zM83 437h1v1h-1zM83 452h1v5h-1zM83 461h1v1h-1zM84 452h1v6h-1zM84 459h1v1h-1zM85 455h1v4h-1zM85 460h1v1h-1zM85 466h1v1h-1zM86 445h1v1h-1zM86 455h1v1h-1zM86 457h1v4h-1zM86 462h1v2h-1zM86 465h1v1h-1zM87 453h1v2h-1zM87 458h1v4h-1zM87 463h1v1h-1zM88 457h1v4h-1zM89 455h1v7h-1zM90 451h1v1h-1zM90 454h1v4h-1zM90 460h1v1h-1zM91 453h1v3h-1zM92 449h1v7h-1zM92 460h1v1h-1zM93 448h1v5h-1zM94 446h1v1h-1zM94 449h1v3h-1zM94 453h1v1h-1zM94 455h1v1h-1zM94 462h1v1h-1zM95 444h1v7h-1zM95 453h1v1h-1zM96 447h1v5h-1zM96 454h1v1h-1zM97 446h1v3h-1zM97 451h1v5h-1zM97 463h1v1h-1zM98 445h1v5h-1zM98 451h1v1h-1zM98 453h1v1h-1zM98 461h1v1h-1zM99 447h1v5h-1zM99 453h1v1h-1zM100 443h1v1h-1zM100 445h1v1h-1zM100 447h1v5h-1zM101 448h1v4h-1zM101 453h1v2h-1zM102 447h1v5h-1zM102 461h1v1h-1zM103 448h1v6h-1zM104 445h1v1h-1zM104 447h1v6h-1zM105 444h1v6h-1zM105 451h1v3h-1zM105 455h1v1h-1zM106 442h1v6h-1zM106 451h1v2h-1zM107 442h1v7h-1zM107 466h1v1h-1zM108 442h1v4h-1zM108 447h1v1h-1zM108 449h1v1h-1zM108 456h1v1h-1zM109 438h1v7h-1zM109 446h1v1h-1zM109 448h1v1h-1zM110 438h1v4h-1zM110 443h1v1h-1zM111 438h1v1h-1zM111 440h1v6h-1zM112 440h1v6h-1zM112 447h1v2h-1zM113 421h1v1h-1zM113 442h1v4h-1zM113 447h1v1h-1zM114 426h1v1h-1zM114 442h1v7h-1zM114 451h1v1h-1zM115 442h1v7h-1zM115 450h1v1h-1zM115 453h1v1h-1zM116 444h1v6h-1zM117 444h1v4h-1zM118 442h1v1h-1zM118 444h1v3h-1zM118 448h1v2h-1zM119 445h1v7h-1zM119 454h1v1h-1zM120 446h1v6h-1zM120 453h1v1h-1zM121 447h1v4h-1zM121 453h1v1h-1zM121 456h1v1h-1zM122 446h1v2h-1zM122 449h1v4h-1zM122 454h1v1h-1zM122 457h1v2h-1zM123 450h1v4h-1zM123 455h1v1h-1zM123 457h1v1h-1zM124 450h1v2h-1zM124 453h1v3h-1zM124 457h1v1h-1zM125 447h1v1h-1zM125 449h1v5h-1zM125 455h1v2h-1zM125 471h1v1h-1zM126 452h1v5h-1zM126 458h1v1h-1zM127 450h1v9h-1zM128 449h1v7h-1zM129 448h1v3h-1zM129 452h1v1h-1zM129 455h1v1h-1zM129 457h1v1h-1zM130 449h1v6h-1zM130 456h1v1h-1zM130 458h1v1h-1zM131 448h1v1h-1zM131 451h1v3h-1zM131 455h1v3h-1zM131 459h1v1h-1zM132 451h1v2h-1zM132 454h1v3h-1zM132 465h1v1h-1zM133 453h1v5h-1zM133 461h1v1h-1zM134 450h1v1h-1zM134 453h1v5h-1zM134 460h1v1h-1zM135 455h1v4h-1zM135 460h1v1h-1zM136 453h1v2h-1zM136 456h1v3h-1zM136 460h1v3h-1zM136 464h1v1h-1zM137 457h1v6h-1zM138 460h1v5h-1zM138 467h1v1h-1zM139 457h1v5h-1zM140 453h1v2h-1zM140 458h1v1h-1zM140 460h1v4h-1zM141 452h1v6h-1zM141 459h1v2h-1zM142 450h1v5h-1zM142 456h1v2h-1zM143 449h1v5h-1zM143 455h1v1h-1zM144 445h1v1h-1zM144 450h1v5h-1zM144 456h1v2h-1zM145 447h1v1h-1zM145 450h1v5h-1zM146 449h1v3h-1zM146 453h1v2h-1zM146 456h1v1h-1zM146 463h1v1h-1zM147 449h1v1h-1zM147 452h1v2h-1zM147 455h1v3h-1zM147 459h1v2h-1zM148 430h1v1h-1zM148 450h1v5h-1zM148 456h1v4h-1zM148 462h1v1h-1zM148 475h1v1h-1zM149 452h1v1h-1zM149 455h1v5h-1zM150 448h1v2h-1zM150 452h1v3h-1zM150 457h1v2h-1zM150 460h1v1h-1zM151 448h1v3h-1zM151 454h1v1h-1zM151 456h1v1h-1zM151 458h1v2h-1zM151 461h1v2h-1zM151 465h1v1h-1zM152 450h1v6h-1zM152 457h1v2h-1zM152 460h1v2h-1zM152 465h1v1h-1zM153 451h1v1h-1zM153 453h1v3h-1zM153 458h1v1h-1zM153 460h1v3h-1zM154 451h1v4h-1zM154 456h1v4h-1zM154 462h1v2h-1zM155 446h1v1h-1zM155 448h1v1h-1zM155 450h1v1h-1zM155 452h1v4h-1zM155 458h1v2h-1zM155 468h1v1h-1zM156 445h1v1h-1zM156 448h1v4h-1zM156 453h1v2h-1zM156 456h1v1h-1zM156 458h1v2h-1zM156 472h1v1h-1zM157 451h1v4h-1zM157 456h1v3h-1zM157 461h1v1h-1zM157 463h1v1h-1zM157 467h1v1h-1zM158 454h1v5h-1zM158 461h1v1h-1zM159 456h1v6h-1zM159 463h1v1h-1zM159 469h1v1h-1zM160 458h1v6h-1zM161 453h1v1h-1zM161 457h1v2h-1zM161 460h1v6h-1zM161 467h1v1h-1zM161 476h1v1h-1zM162 454h1v1h-1zM162 457h1v1h-1zM162 460h1v3h-1zM162 464h1v1h-1zM162 468h1v1h-1zM162 470h1v1h-1zM163 458h1v2h-1zM163 461h1v3h-1zM163 465h1v2h-1zM163 468h1v2h-1zM163 471h1v1h-1zM164 459h1v4h-1zM164 465h1v2h-1zM164 468h1v1h-1zM165 453h1v1h-1zM165 456h1v1h-1zM165 459h1v1h-1zM165 461h1v3h-1zM165 466h1v1h-1zM166 462h1v2h-1zM166 465h1v3h-1zM166 469h1v1h-1zM166 473h1v1h-1zM167 460h1v7h-1zM168 461h1v3h-1zM168 465h1v1h-1zM169 457h1v4h-1zM169 462h1v2h-1zM169 466h1v1h-1zM169 472h1v1h-1zM170 455h1v1h-1zM170 457h1v5h-1zM170 463h1v1h-1zM170 468h1v2h-1zM171 449h1v1h-1zM171 452h1v1h-1zM171 454h1v5h-1zM171 461h1v1h-1zM171 464h1v1h-1zM171 473h1v1h-1zM172 451h1v4h-1zM172 456h1v3h-1zM172 460h1v1h-1zM172 465h1v1h-1zM173 449h1v1h-1zM173 451h1v4h-1zM173 457h1v1h-1zM173 461h1v4h-1zM174 442h1v1h-1zM174 449h1v1h-1zM174 451h1v3h-1zM174 455h1v1h-1zM174 457h1v2h-1zM174 461h1v1h-1zM174 464h1v1h-1zM174 466h1v1h-1zM175 444h1v1h-1zM175 446h1v8h-1zM175 458h1v1h-1zM176 446h1v4h-1zM176 451h1v1h-1zM176 456h1v1h-1zM176 459h1v1h-1zM177 444h1v10h-1zM178 439h1v1h-1zM178 447h1v1h-1zM178 449h1v4h-1zM178 457h1v1h-1zM178 459h1v1h-1zM179 450h1v5h-1zM180 450h1v1h-1zM180 452h1v2h-1zM180 456h1v2h-1zM181 450h1v1h-1zM181 452h1v4h-1zM181 458h1v1h-1zM181 460h1v1h-1zM182 451h1v4h-1zM182 456h1v3h-1zM182 460h1v1h-1zM183 455h1v4h-1zM183 462h1v1h-1zM184 451h1v1h-1zM184 454h1v5h-1zM185 450h1v1h-1zM185 454h1v3h-1zM185 458h1v3h-1zM185 462h1v1h-1zM185 464h1v1h-1zM186 447h1v1h-1zM186 451h1v4h-1zM186 456h1v1h-1zM186 459h1v1h-1zM186 461h1v2h-1zM186 464h1v1h-1zM187 449h1v1h-1zM187 451h1v5h-1zM187 457h1v2h-1zM187 464h1v1h-1zM188 452h1v7h-1zM189 451h1v6h-1zM189 459h1v1h-1zM190 454h1v2h-1zM190 457h1v3h-1zM191 455h1v6h-1zM191 464h1v1h-1zM192 450h1v1h-1zM192 456h1v4h-1zM192 461h1v1h-1zM192 464h1v1h-1zM192 468h1v1h-1zM193 447h1v1h-1zM193 456h1v3h-1zM193 460h1v1h-1zM193 463h1v1h-1zM193 465h1v1h-1zM193 473h1v1h-1zM194 456h1v7h-1zM195 449h1v1h-1zM195 454h1v1h-1zM195 456h1v2h-1zM195 459h1v3h-1zM195 464h1v2h-1zM195 468h1v1h-1zM196 456h1v1h-1zM196 459h1v5h-1zM197 459h1v3h-1zM197 463h1v4h-1zM198 460h1v4h-1zM198 465h1v2h-1zM198 468h1v1h-1zM199 462h1v4h-1zM199 468h1v1h-1zM200 457h1v7h-1zM200 467h1v2h-1zM201 458h1v4h-1zM201 463h1v3h-1zM202 457h1v5h-1zM203 440h1v1h-1zM203 454h1v2h-1zM203 458h1v2h-1zM203 461h1v2h-1zM203 464h1v1h-1zM204 455h1v1h-1zM204 457h1v5h-1zM204 463h1v1h-1zM204 466h1v1h-1zM205 424h1v1h-1zM205 457h1v5h-1zM205 464h1v1h-1zM205 466h1v1h-1zM206 455h1v1h-1zM206 459h1v5h-1zM207 459h1v7h-1zM207 467h1v2h-1zM207 474h1v1h-1zM208 458h1v6h-1zM208 467h1v1h-1zM209 455h1v5h-1zM209 462h1v3h-1zM210 455h1v3h-1zM210 459h1v2h-1zM210 462h1v1h-1zM211 432h1v1h-1zM211 453h1v7h-1zM211 463h1v1h-1zM212 453h1v4h-1zM212 461h1v1h-1zM213 449h1v7h-1zM213 463h1v1h-1zM214 451h1v4h-1zM214 458h1v1h-1zM215 449h1v4h-1zM215 454h1v2h-1zM215 457h1v1h-1zM216 446h1v5h-1zM216 452h1v3h-1zM217 440h1v1h-1zM217 446h1v8h-1zM217 456h1v3h-1zM217 461h1v1h-1zM217 464h1v1h-1zM218 446h1v7h-1zM219 434h1v1h-1zM219 442h1v5h-1zM219 448h1v1h-1zM219 450h1v1h-1zM219 453h1v1h-1zM220 445h1v2h-1zM220 448h1v3h-1zM220 452h1v2h-1zM220 455h1v1h-1zM220 460h1v1h-1zM221 440h1v1h-1zM221 444h1v2h-1zM221 447h1v1h-1zM221 450h1v1h-1zM221 452h1v1h-1zM221 454h1v1h-1zM222 442h1v1h-1zM222 444h1v7h-1zM222 459h1v1h-1zM223 444h1v5h-1zM223 450h1v1h-1zM223 457h1v1h-1zM224 444h1v5h-1zM224 450h1v1h-1zM224 452h1v2h-1zM224 455h1v1h-1zM225 436h1v1h-1zM225 449h1v2h-1zM225 452h1v6h-1zM226 445h1v9h-1zM226 455h1v1h-1zM227 428h1v1h-1zM227 441h1v1h-1zM227 444h1v1h-1zM227 447h1v1h-1zM227 449h1v1h-1zM227 455h1v2h-1zM227 458h1v2h-1zM227 466h1v1h-1zM227 469h1v1h-1zM228 439h1v1h-1zM228 445h1v4h-1zM228 450h1v1h-1zM228 453h1v1h-1zM228 459h1v1h-1zM229 445h1v8h-1zM229 455h1v2h-1zM230 448h1v1h-1zM230 450h1v6h-1zM230 457h1v2h-1zM231 449h1v1h-1zM231 451h1v1h-1zM231 453h1v3h-1zM231 458h1v4h-1zM232 449h1v1h-1zM232 453h1v6h-1zM232 461h1v2h-1zM233 455h1v1h-1zM233 457h1v6h-1zM233 465h1v1h-1zM233 470h1v1h-1zM234 450h1v1h-1zM234 453h1v1h-1zM234 455h1v5h-1zM234 463h1v1h-1zM235 448h1v1h-1zM235 450h1v3h-1zM235 454h1v1h-1zM235 458h1v2h-1zM236 444h1v5h-1zM236 450h1v1h-1zM236 453h1v2h-1zM236 456h1v2h-1zM236 459h1v1h-1zM237 442h1v6h-1zM237 451h1v1h-1zM238 433h1v1h-1zM238 439h1v2h-1zM238 442h1v3h-1zM238 446h1v1h-1zM238 457h1v2h-1zM239 436h1v6h-1zM239 445h1v1h-1zM240 422h1v1h-1zM240 433h1v6h-1zM240 440h1v2h-1zM240 443h1v2h-1zM240 446h1v1h-1zM240 460h1v1h-1zM241 437h1v2h-1zM241 440h1v4h-1zM241 446h1v2h-1zM241 449h1v1h-1zM242 440h1v1h-1zM242 442h1v4h-1zM242 447h1v2h-1zM242 451h1v1h-1zM243 441h1v1h-1zM243 444h1v6h-1zM243 451h1v1h-1zM244 446h1v4h-1zM245 447h1v5h-1zM245 455h1v1h-1zM246 446h1v1h-1zM246 448h1v7h-1zM246 459h1v1h-1zM247 452h1v5h-1zM247 458h1v1h-1zM247 461h1v1h-1zM248 452h1v2h-1zM248 455h1v5h-1zM248 461h1v1h-1zM248 467h1v1h-1zM249 452h1v7h-1zM249 460h1v1h-1zM250 443h1v1h-1zM250 446h1v3h-1zM250 451h1v2h-1zM250 454h1v3h-1zM250 458h1v1h-1zM250 465h1v1h-1zM250 471h1v1h-1zM251 450h1v9h-1zM251 462h1v1h-1zM251 465h1v1h-1zM252 446h1v1h-1zM252 448h1v2h-1zM252 451h1v5h-1zM252 458h1v2h-1zM253 438h1v1h-1zM253 448h1v1h-1zM253 450h1v4h-1zM253 455h1v1h-1zM253 457h1v3h-1zM254 447h1v4h-1zM254 452h1v1h-1zM254 454h1v3h-1zM254 459h1v1h-1zM254 463h1v1h-1zM254 466h1v1h-1zM255 448h1v4h-1zM255 454h1v1h-1zM255 456h1v1h-1zM256 446h1v3h-1zM256 450h1v2h-1zM256 453h1v1h-1zM257 443h1v7h-1zM257 451h1v4h-1zM257 468h1v1h-1zM258 443h1v7h-1zM258 451h1v1h-1zM258 458h1v1h-1zM259 436h1v1h-1zM259 440h1v1h-1zM259 443h1v4h-1zM259 452h1v1h-1zM260 437h1v1h-1zM260 440h1v2h-1zM260 443h1v2h-1zM260 446h1v2h-1zM260 449h1v1h-1zM260 452h1v1h-1zM260 456h1v1h-1zM261 441h1v2h-1zM261 444h1v2h-1zM261 447h1v6h-1zM261 458h1v1h-1zM262 443h1v1h-1zM262 446h1v5h-1zM262 452h1v1h-1zM262 454h1v1h-1zM263 444h1v9h-1zM263 454h1v1h-1zM264 438h1v1h-1zM264 441h1v1h-1zM264 444h1v3h-1zM264 449h1v1h-1zM264 451h1v2h-1zM264 455h1v1h-1zM265 440h1v1h-1zM265 442h1v1h-1zM265 445h1v2h-1zM265 448h1v1h-1zM265 450h1v1h-1zM265 452h1v2h-1zM265 465h1v1h-1zM266 445h1v1h-1zM266 448h1v2h-1zM266 452h1v3h-1zM266 456h1v1h-1zM266 458h1v1h-1zM267 436h1v1h-1zM267 446h1v1h-1zM267 448h1v6h-1zM267 457h1v1h-1zM267 459h1v1h-1zM268 447h1v1h-1zM268 449h1v2h-1zM268 452h1v2h-1zM268 456h1v2h-1zM269 445h1v4h-1zM269 450h1v1h-1zM269 452h1v3h-1zM269 456h1v1h-1zM270 444h1v1h-1zM270 447h1v6h-1zM270 454h1v1h-1zM270 456h1v1h-1zM270 458h1v1h-1zM271 442h1v3h-1zM271 446h1v5h-1zM271 452h1v1h-1zM272 443h1v1h-1zM272 445h1v5h-1zM272 452h1v1h-1zM273 441h1v5h-1zM273 447h1v2h-1zM273 450h1v1h-1zM273 452h1v1h-1zM273 455h1v1h-1zM273 460h1v1h-1zM274 443h1v7h-1zM274 453h1v1h-1zM275 444h1v5h-1zM275 450h1v2h-1zM275 456h1v1h-1zM276 439h1v1h-1zM276 446h1v4h-1zM276 451h1v1h-1zM276 453h1v1h-1zM276 456h1v2h-1zM277 439h1v1h-1zM277 449h1v1h-1zM277 451h1v2h-1zM277 454h1v4h-1zM277 461h1v1h-1zM277 467h1v1h-1zM278 445h1v8h-1zM278 454h1v1h-1zM278 456h1v1h-1zM279 444h1v1h-1zM279 448h1v8h-1zM280 430h1v1h-1zM280 440h1v1h-1zM280 444h1v6h-1zM280 451h1v1h-1zM280 458h1v1h-1zM281 442h1v8h-1zM281 452h1v1h-1zM282 435h1v1h-1zM282 442h1v1h-1zM282 445h1v4h-1zM282 454h1v1h-1zM282 457h1v1h-1zM283 444h1v4h-1zM284 433h1v1h-1zM284 443h1v5h-1zM285 440h1v8h-1zM286 436h1v2h-1zM286 439h1v7h-1zM286 452h1v1h-1zM287 435h1v2h-1zM287 438h1v6h-1zM287 446h1v1h-1zM288 426h1v1h-1zM288 438h1v4h-1zM288 443h1v3h-1zM288 447h1v1h-1zM289 438h1v1h-1zM289 440h1v3h-1zM289 444h1v1h-1zM289 446h1v3h-1zM289 450h1v1h-1zM290 440h1v6h-1zM290 451h1v1h-1zM291 440h1v6h-1zM291 447h1v2h-1zM291 450h1v1h-1zM291 462h1v1h-1zM292 438h1v4h-1zM292 445h1v2h-1zM292 449h1v2h-1zM292 455h1v1h-1zM293 440h1v8h-1zM293 451h1v1h-1zM294 440h1v1h-1zM294 442h1v2h-1zM294 445h1v4h-1zM295 441h1v5h-1zM295 447h1v1h-1zM295 449h1v1h-1zM295 456h1v1h-1zM296 443h1v8h-1zM297 439h1v9h-1zM297 452h1v1h-1zM298 443h1v4h-1zM298 451h1v1h-1zM299 443h1v9h-1zM300 444h1v1h-1zM300 446h1v5h-1zM300 452h1v2h-1zM301 447h1v1h-1zM301 449h1v5h-1zM302 448h1v2h-1zM302 451h1v3h-1zM302 455h1v3h-1zM302 461h1v2h-1zM303 449h1v4h-1zM303 454h1v3h-1zM304 445h1v4h-1zM304 450h1v5h-1zM304 460h1v1h-1zM305 448h1v5h-1zM305 455h1v1h-1zM306 445h1v8h-1zM307 442h1v1h-1zM307 444h1v1h-1zM307 446h1v1h-1zM307 448h1v5h-1zM307 454h1v1h-1zM307 460h1v1h-1zM308 443h1v8h-1zM309 441h1v1h-1zM309 443h1v3h-1zM309 448h1v2h-1zM309 453h1v2h-1zM310 441h1v7h-1zM311 440h1v1h-1zM311 442h1v5h-1zM311 448h1v2h-1zM311 452h1v1h-1zM311 465h1v1h-1zM312 435h1v1h-1zM312 439h1v4h-1zM312 445h1v2h-1zM312 450h1v1h-1zM312 461h1v1h-1zM313 442h1v6h-1zM314 443h1v5h-1zM315 438h1v1h-1zM315 440h1v9h-1zM315 453h1v1h-1zM316 439h1v5h-1zM316 446h1v2h-1zM317 441h1v5h-1zM317 447h1v4h-1zM318 440h1v1h-1zM318 442h1v6h-1zM318 457h1v1h-1zM319 441h1v5h-1zM319 448h1v2h-1zM319 451h1v1h-1zM320 442h1v5h-1zM320 448h1v4h-1zM320 454h1v1h-1zM320 457h1v1h-1zM321 441h1v1h-1zM321 443h1v7h-1zM322 442h1v1h-1zM322 444h1v5h-1zM322 459h1v1h-1zM323 439h1v1h-1zM323 443h1v6h-1zM323 450h1v2h-1zM324 444h1v7h-1zM324 453h1v1h-1zM325 436h1v1h-1zM325 441h1v1h-1zM325 443h1v1h-1zM325 445h1v3h-1zM325 449h1v1h-1zM326 443h1v9h-1zM327 442h1v1h-1zM327 444h1v1h-1zM327 446h1v4h-1zM327 451h1v2h-1zM327 455h1v2h-1zM328 444h1v2h-1zM328 447h1v7h-1zM328 455h1v1h-1zM329 443h1v3h-1zM329 447h1v1h-1zM329 450h1v1h-1zM329 453h1v1h-1zM330 443h1v6h-1zM330 451h1v1h-1zM330 460h1v1h-1zM331 443h1v8h-1zM331 452h1v1h-1zM332 443h1v1h-1zM332 445h1v5h-1zM332 452h1v2h-1zM333 444h1v1h-1zM333 446h1v2h-1zM333 449h1v1h-1zM333 451h1v1h-1zM334 439h1v1h-1zM334 442h1v1h-1zM334 444h1v3h-1zM334 448h1v2h-1zM334 451h1v1h-1zM334 456h1v1h-1zM335 442h1v8h-1zM335 453h1v1h-1zM336 443h1v1h-1zM336 445h1v7h-1zM336 454h1v1h-1zM337 445h1v6h-1zM337 453h1v1h-1zM337 458h1v1h-1zM338 443h1v2h-1zM338 446h1v1h-1zM338 448h1v1h-1zM338 450h1v4h-1zM338 457h1v1h-1zM338 468h1v1h-1zM339 443h1v8h-1zM339 453h1v1h-1zM340 442h1v1h-1zM340 444h1v1h-1zM340 446h1v4h-1zM340 451h1v1h-1zM340 453h1v2h-1zM341 448h1v4h-1zM341 453h1v1h-1zM342 447h1v1h-1zM342 450h1v5h-1zM342 456h1v3h-1zM343 448h1v2h-1zM343 451h1v3h-1zM343 455h1v2h-1zM343 459h1v1h-1zM343 466h1v1h-1zM344 451h1v5h-1zM345 454h1v6h-1zM346 451h1v9h-1zM346 463h1v1h-1zM346 469h1v1h-1zM347 449h1v1h-1zM347 452h1v2h-1zM347 455h1v1h-1zM347 458h1v1h-1zM347 460h1v4h-1zM348 454h1v5h-1zM348 460h1v1h-1zM349 454h1v3h-1zM349 458h1v3h-1zM349 464h1v1h-1zM349 467h1v1h-1zM349 474h1v1h-1zM350 454h1v1h-1zM350 456h1v3h-1zM350 460h1v2h-1zM350 465h1v1h-1zM351 450h1v2h-1zM351 454h1v3h-1zM351 458h1v1h-1zM351 460h1v2h-1zM352 453h1v4h-1zM352 460h1v2h-1zM352 463h1v1h-1zM353 451h1v6h-1zM354 450h1v5h-1zM355 447h1v6h-1zM356 445h1v6h-1zM357 436h1v1h-1zM357 443h1v1h-1zM357 447h1v1h-1zM357 449h1v4h-1zM357 454h1v1h-1zM357 457h1v1h-1zM358 441h1v2h-1zM358 445h1v1h-1zM358 447h1v2h-1zM358 450h1v1h-1zM358 455h1v1h-1zM359 442h1v5h-1zM359 450h1v1h-1zM360 436h1v1h-1zM360 441h1v3h-1zM360 445h1v1h-1zM360 447h1v2h-1zM361 438h1v2h-1zM361 441h1v2h-1zM361 444h1v3h-1zM361 452h1v1h-1zM362 438h1v1h-1zM362 440h1v4h-1zM363 439h1v5h-1zM364 434h1v1h-1zM364 437h1v5h-1zM364 443h1v2h-1zM365 413h1v1h-1zM365 432h1v1h-1zM365 434h1v2h-1zM365 437h1v3h-1zM365 441h1v1h-1zM366 432h1v7h-1zM367 431h1v1h-1zM367 433h1v3h-1zM367 437h1v1h-1zM367 441h1v1h-1zM367 450h1v1h-1zM368 431h1v1h-1zM368 433h1v1h-1zM368 435h1v4h-1zM369 432h1v2h-1zM369 436h1v2h-1zM369 440h1v1h-1zM369 442h1v3h-1zM370 429h1v1h-1zM370 432h1v1h-1zM370 434h1v4h-1zM370 440h1v2h-1zM370 443h1v1h-1zM370 447h1v1h-1zM371 431h1v8h-1zM371 440h1v2h-1zM371 443h1v1h-1zM372 433h1v6h-1zM373 429h1v3h-1zM373 433h1v4h-1zM373 439h1v1h-1zM373 441h1v1h-1zM374 433h1v5h-1zM374 439h1v1h-1zM375 430h1v7h-1zM375 443h1v1h-1zM376 431h1v5h-1zM376 437h1v1h-1zM376 441h1v1h-1zM377 427h1v2h-1zM377 432h1v7h-1zM378 433h1v2h-1zM378 436h1v4h-1zM378 441h1v1h-1zM378 446h1v1h-1zM379 432h1v1h-1zM379 434h1v8h-1zM380 429h1v2h-1zM380 432h1v5h-1zM381 428h1v1h-1zM381 431h1v4h-1zM381 436h1v2h-1zM381 439h1v1h-1zM381 441h1v2h-1zM381 444h1v1h-1zM381 472h1v1h-1zM382 432h1v1h-1zM382 435h1v3h-1zM382 440h1v1h-1zM382 442h1v1h-1zM383 432h1v5h-1zM383 440h1v1h-1zM384 432h1v3h-1zM384 436h1v3h-1zM384 457h1v1h-1zM385 432h1v7h-1zM385 440h1v3h-1zM386 428h1v3h-1zM386 432h1v3h-1zM386 443h1v1h-1zM386 449h1v1h-1zM387 433h1v3h-1zM387 438h1v1h-1zM387 440h1v2h-1zM387 443h1v3h-1zM388 431h1v1h-1zM388 433h1v7h-1zM388 445h1v1h-1zM389 433h1v7h-1zM389 450h1v1h-1zM390 431h1v3h-1zM390 435h1v1h-1zM390 439h1v3h-1zM391 424h1v1h-1zM391 433h1v5h-1zM391 440h1v1h-1zM392 433h1v5h-1zM392 440h1v1h-1zM393 432h1v1h-1zM393 434h1v7h-1zM394 431h1v7h-1zM394 439h1v1h-1zM395 430h1v5h-1zM395 436h1v1h-1zM396 428h1v7h-1zM396 436h1v2h-1zM396 444h1v1h-1zM397 429h1v1h-1zM397 433h1v4h-1zM397 439h1v1h-1zM397 444h1v1h-1zM398 433h1v5h-1zM399 431h1v1h-1zM399 433h1v4h-1zM399 440h1v1h-1zM400 431h1v5h-1zM400 442h1v1h-1zM401 431h1v7h-1zM401 460h1v1h-1zM402 425h1v1h-1zM402 429h1v6h-1zM402 437h1v4h-1zM403 427h1v5h-1zM403 433h1v2h-1zM403 437h1v1h-1zM403 446h1v1h-1zM404 426h1v7h-1zM404 434h1v3h-1zM404 439h1v1h-1zM405 425h1v1h-1zM405 427h1v5h-1zM405 433h1v1h-1zM406 425h1v7h-1zM406 434h1v1h-1zM407 415h1v1h-1zM407 423h1v4h-1zM407 429h1v1h-1zM407 436h1v1h-1zM408 422h1v1h-1zM408 424h1v4h-1zM408 430h1v4h-1zM409 423h1v3h-1zM409 428h1v3h-1zM409 433h1v1h-1zM410 423h1v5h-1zM411 421h1v4h-1zM411 426h1v3h-1zM412 414h1v1h-1zM412 416h1v3h-1zM412 421h1v3h-1zM412 425h1v2h-1zM413 414h1v8h-1zM414 414h1v5h-1zM414 420h1v1h-1zM414 450h1v1h-1zM415 413h1v7h-1zM416 412h1v1h-1zM416 415h1v2h-1zM416 418h1v3h-1zM417 410h1v1h-1zM417 413h1v4h-1zM417 418h1v1h-1zM417 422h1v1h-1zM417 424h1v1h-1zM417 426h1v1h-1zM418 414h1v1h-1zM418 416h1v3h-1zM418 421h1v4h-1zM419 415h1v4h-1zM419 420h1v1h-1zM420 406h1v1h-1zM420 413h1v8h-1zM421 416h1v4h-1zM421 423h1v1h-1zM422 417h1v4h-1zM422 425h1v1h-1zM423 415h1v6h-1zM423 423h1v1h-1zM424 416h1v7h-1zM425 414h1v1h-1zM425 416h1v4h-1zM425 421h1v3h-1zM426 411h1v1h-1zM426 413h1v5h-1zM426 419h1v2h-1zM427 411h1v4h-1zM427 416h1v1h-1zM427 419h1v1h-1zM427 422h1v1h-1zM428 409h1v1h-1zM428 412h1v8h-1zM428 432h1v1h-1zM429 411h1v1h-1zM429 413h1v5h-1zM429 419h1v1h-1zM429 421h1v1h-1zM429 425h1v1h-1zM429 434h1v1h-1zM430 408h1v1h-1zM430 410h1v6h-1zM430 425h1v1h-1zM431 406h1v1h-1zM431 409h1v1h-1zM431 411h1v1h-1zM431 414h1v4h-1zM431 419h1v1h-1zM431 421h1v1h-1zM431 425h1v1h-1zM432 413h1v6h-1zM432 421h1v2h-1zM432 425h1v1h-1zM433 411h1v1h-1zM433 414h1v6h-1zM433 422h1v2h-1zM434 416h1v6h-1zM434 423h1v2h-1zM435 419h1v6h-1zM435 427h1v2h-1zM436 419h1v2h-1zM436 422h1v4h-1zM436 428h1v2h-1zM437 424h1v1h-1zM437 426h1v3h-1zM437 430h1v2h-1zM437 433h1v1h-1zM437 444h1v1h-1zM438 427h1v2h-1zM438 430h1v6h-1zM439 425h1v2h-1zM439 429h1v7h-1zM439 438h1v1h-1zM439 441h1v1h-1zM439 443h1v1h-1zM440 409h1v1h-1zM440 428h1v4h-1zM441 421h1v1h-1zM441 425h1v1h-1zM441 427h1v3h-1zM441 432h1v2h-1zM441 435h1v3h-1zM441 441h1v2h-1zM442 424h1v7h-1zM442 432h1v1h-1zM442 434h1v2h-1zM443 428h1v6h-1zM443 435h1v1h-1zM443 440h1v1h-1zM444 428h1v3h-1zM444 432h1v1h-1zM444 434h1v2h-1zM444 438h1v1h-1zM444 448h1v1h-1zM445 427h1v1h-1zM445 429h1v1h-1zM445 431h1v1h-1zM445 434h1v1h-1zM445 436h1v5h-1zM445 455h1v1h-1zM446 426h1v1h-1zM446 428h1v6h-1zM446 438h1v1h-1zM447 423h1v1h-1zM447 428h1v1h-1zM447 430h1v6h-1zM448 430h1v6h-1zM449 426h1v1h-1zM449 429h1v4h-1zM449 437h1v1h-1zM449 439h1v1h-1zM449 441h1v1h-1zM449 449h1v1h-1zM450 430h1v2h-1zM450 433h1v2h-1zM450 436h1v2h-1zM450 439h1v1h-1zM451 423h1v1h-1zM451 427h1v1h-1zM451 429h1v6h-1zM451 436h1v2h-1zM452 425h1v2h-1zM452 428h1v4h-1zM452 433h1v1h-1zM452 436h1v1h-1zM453 424h1v4h-1zM453 430h1v3h-1zM453 435h1v1h-1zM453 450h1v1h-1zM454 425h1v8h-1zM454 436h1v1h-1zM455 423h1v1h-1zM455 425h1v4h-1zM455 430h1v1h-1zM456 424h1v7h-1zM456 433h1v2h-1zM457 426h1v4h-1zM457 431h1v3h-1zM457 436h1v1h-1zM458 426h1v8h-1zM459 424h1v1h-1zM459 427h1v4h-1zM460 425h1v5h-1zM460 431h1v1h-1zM460 433h1v1h-1zM460 437h1v1h-1zM461 428h1v3h-1zM461 433h1v3h-1zM461 437h1v1h-1zM462 429h1v4h-1zM462 434h1v2h-1zM463 420h1v1h-1zM463 424h1v1h-1zM463 430h1v5h-1zM463 436h1v1h-1zM463 438h1v1h-1zM464 425h1v3h-1zM464 429h1v4h-1zM464 434h1v1h-1zM465 429h1v6h-1zM466 429h1v3h-1zM466 433h1v5h-1zM466 448h1v1h-1zM467 430h1v4h-1zM467 436h1v1h-1zM468 429h1v5h-1zM468 435h1v1h-1zM468 438h1v1h-1zM468 442h1v1h-1zM469 429h1v5h-1zM469 439h1v1h-1zM470 430h1v3h-1zM470 434h1v4h-1zM470 440h1v1h-1zM471 429h1v1h-1zM471 431h1v2h-1zM471 434h1v2h-1zM471 439h1v2h-1zM471 442h1v1h-1zM472 424h1v1h-1zM472 428h1v2h-1zM472 431h1v2h-1zM472 435h1v1h-1zM472 438h1v2h-1zM472 442h1v1h-1zM472 444h1v1h-1zM473 424h1v1h-1zM473 429h1v1h-1zM473 431h1v4h-1zM473 436h1v1h-1zM473 439h1v1h-1zM474 430h1v7h-1zM475 430h1v5h-1zM475 437h1v1h-1zM476 430h1v5h-1zM476 438h1v1h-1zM477 427h1v1h-1zM477 429h1v7h-1zM478 429h1v3h-1zM478 433h1v4h-1zM479 426h1v5h-1zM479 434h1v3h-1zM479 438h1v1h-1zM480 422h1v1h-1zM480 425h1v1h-1zM480 427h1v5h-1zM480 433h1v1h-1zM480 435h1v2h-1zM480 443h1v1h-1zM480 457h1v1h-1zM481 412h1v1h-1zM481 430h1v3h-1zM481 434h1v3h-1zM481 438h1v1h-1zM482 411h1v1h-1zM482 424h1v1h-1zM482 429h1v5h-1zM482 435h1v1h-1zM482 448h1v1h-1zM483 428h1v7h-1zM484 427h1v5h-1zM484 433h1v1h-1zM484 435h1v1h-1zM484 445h1v1h-1zM485 421h1v1h-1zM485 427h1v5h-1zM485 433h1v1h-1zM486 426h1v4h-1zM486 431h1v6h-1zM487 425h1v7h-1zM487 433h1v2h-1zM488 423h1v6h-1zM488 431h1v1h-1zM488 433h1v1h-1zM488 436h1v1h-1zM489 427h1v4h-1zM489 432h1v1h-1zM489 436h1v1h-1zM489 445h1v1h-1zM490 425h1v5h-1zM490 435h1v1h-1zM491 424h1v8h-1zM491 434h1v2h-1zM492 426h1v3h-1zM492 430h1v5h-1zM492 436h1v1h-1zM493 426h1v1h-1zM493 428h1v3h-1zM493 432h1v1h-1zM493 434h1v2h-1zM493 439h1v1h-1zM493 444h1v1h-1zM494 429h1v5h-1zM495 425h1v1h-1zM495 428h1v5h-1zM495 434h1v1h-1zM495 436h1v2h-1zM496 427h1v1h-1zM496 431h1v7h-1zM496 440h1v1h-1zM497 430h1v6h-1zM497 439h1v1h-1zM497 443h1v2h-1zM497 446h1v1h-1zM498 431h1v6h-1zM498 438h1v1h-1zM498 440h1v1h-1zM499 433h1v7h-1zM500 431h1v1h-1zM500 434h1v5h-1zM501 429h1v1h-1zM501 431h1v1h-1zM501 433h1v1h-1zM501 435h1v2h-1zM501 438h1v1h-1zM501 440h1v1h-1zM501 442h1v1h-1zM502 432h1v3h-1zM502 436h1v2h-1zM502 440h1v1h-1zM502 452h1v1h-1zM503 428h1v1h-1zM503 432h1v4h-1zM503 437h1v2h-1zM503 442h1v1h-1zM504 429h1v5h-1zM504 436h1v4h-1zM504 442h1v1h-1zM505 428h1v1h-1zM505 431h1v6h-1zM506 428h1v3h-1zM506 433h1v2h-1zM506 436h1v2h-1zM506 439h1v1h-1zM507 430h1v2h-1zM507 433h1v2h-1zM507 437h1v1h-1zM507 439h1v1h-1zM507 452h1v1h-1zM508 432h1v1h-1zM508 434h1v3h-1zM508 438h1v2h-1zM509 428h1v1h-1zM509 430h1v3h-1zM509 434h1v2h-1zM509 438h1v3h-1zM510 432h1v1h-1zM510 434h1v4h-1zM511 433h1v6h-1zM511 444h1v1h-1zM512 433h1v2h-1zM512 436h1v6h-1zM512 447h1v1h-1zM513 433h1v5h-1zM513 440h1v1h-1zM514 432h1v3h-1zM514 437h1v3h-1zM515 429h1v1h-1zM515 432h1v3h-1zM515 436h1v2h-1zM515 439h1v1h-1zM515 446h1v1h-1zM516 429h1v1h-1zM516 431h1v1h-1zM516 433h1v4h-1zM516 438h1v1h-1zM517 430h1v5h-1zM517 436h1v2h-1zM517 439h1v1h-1zM518 427h1v1h-1zM518 429h1v4h-1zM518 434h1v1h-1zM518 436h1v1h-1zM518 439h1v1h-1zM519 426h1v2h-1zM519 429h1v4h-1zM520 427h1v2h-1zM520 430h1v5h-1zM521 422h1v1h-1zM521 427h1v5h-1zM521 433h1v1h-1zM521 435h1v1h-1zM522 428h1v1h-1zM522 431h1v5h-1zM523 431h1v5h-1zM523 437h1v2h-1zM524 425h1v1h-1zM524 429h1v1h-1zM524 431h1v5h-1zM524 439h1v1h-1zM524 443h1v1h-1zM525 430h1v1h-1zM525 432h1v3h-1zM525 436h1v2h-1zM525 441h1v1h-1zM526 431h1v1h-1zM526 435h1v3h-1zM526 439h1v1h-1zM526 441h1v1h-1zM526 443h1v2h-1zM526 449h1v1h-1zM527 434h1v1h-1zM527 436h1v7h-1zM528 438h1v8h-1zM529 435h1v8h-1zM529 444h1v2h-1zM530 436h1v4h-1zM530 441h1v1h-1zM531 434h1v1h-1zM531 436h1v6h-1zM531 444h1v1h-1zM531 454h1v1h-1zM532 435h1v5h-1zM532 441h1v1h-1zM533 435h1v3h-1zM533 439h1v5h-1zM534 439h1v6h-1zM535 439h1v4h-1zM535 444h1v2h-1zM535 448h1v1h-1zM536 438h1v3h-1zM536 442h1v2h-1zM537 436h1v6h-1zM537 444h1v1h-1zM537 449h1v1h-1zM538 438h1v7h-1zM539 434h1v1h-1zM539 437h1v3h-1zM539 441h1v1h-1zM539 444h1v2h-1zM540 434h1v3h-1zM540 438h1v3h-1zM541 433h1v6h-1zM541 441h1v2h-1zM542 428h1v1h-1zM542 433h1v1h-1zM542 435h1v5h-1zM542 443h1v1h-1zM543 429h1v1h-1zM543 431h1v1h-1zM543 433h1v4h-1zM543 438h1v2h-1zM543 441h1v1h-1zM544 432h1v1h-1zM544 434h1v7h-1zM544 448h1v1h-1zM545 435h1v7h-1zM546 434h1v2h-1zM546 437h1v4h-1zM546 444h1v1h-1zM546 449h1v1h-1zM546 451h1v1h-1zM547 437h1v1h-1zM547 439h1v2h-1zM547 443h1v5h-1zM548 436h1v1h-1zM548 439h1v1h-1zM548 442h1v7h-1zM548 450h1v1h-1zM548 465h1v1h-1zM549 438h1v1h-1zM549 440h1v5h-1zM549 446h1v4h-1zM549 452h1v1h-1zM550 440h1v5h-1zM550 446h1v2h-1zM550 449h1v1h-1zM551 440h1v5h-1zM551 446h1v1h-1zM551 448h1v1h-1zM551 452h1v1h-1zM552 442h1v6h-1zM552 449h1v1h-1zM552 451h1v1h-1zM552 456h1v1h-1zM553 442h1v4h-1zM553 447h1v3h-1zM553 451h1v1h-1zM554 441h1v2h-1zM554 444h1v5h-1zM554 450h1v1h-1zM555 435h1v1h-1zM555 439h1v3h-1zM555 443h1v5h-1zM556 435h1v1h-1zM556 439h1v2h-1zM556 442h1v7h-1zM557 441h1v8h-1zM557 450h1v2h-1zM558 440h1v2h-1zM558 443h1v3h-1zM558 448h1v1h-1zM558 451h1v1h-1zM558 454h1v1h-1zM559 439h1v6h-1zM559 446h1v2h-1zM559 453h1v1h-1zM560 441h1v1h-1zM560 443h1v1h-1zM560 445h1v5h-1zM560 451h1v2h-1zM561 432h1v1h-1zM561 440h1v4h-1zM561 445h1v1h-1zM561 447h1v1h-1zM561 452h1v1h-1zM562 441h1v6h-1zM562 448h1v1h-1zM563 437h1v7h-1zM563 445h1v2h-1zM563 451h1v1h-1zM563 457h1v1h-1zM564 436h1v1h-1zM564 440h1v6h-1zM564 450h1v1h-1zM565 439h1v3h-1zM565 445h1v5h-1zM566 438h1v2h-1zM566 441h1v6h-1zM567 434h1v1h-1zM567 439h1v3h-1zM567 443h1v3h-1zM567 448h1v1h-1zM567 450h1v1h-1zM568 440h1v7h-1zM568 449h1v2h-1zM569 439h1v2h-1zM569 442h1v4h-1zM569 447h1v1h-1zM570 440h1v5h-1zM570 447h1v1h-1zM570 451h1v1h-1zM570 453h1v1h-1zM570 455h1v1h-1zM571 441h1v4h-1zM571 446h1v1h-1zM571 449h1v2h-1zM571 454h1v1h-1zM572 437h1v1h-1zM572 439h1v5h-1zM572 447h1v3h-1zM572 451h1v1h-1zM572 453h1v1h-1zM572 461h1v1h-1zM573 438h1v1h-1zM573 441h1v1h-1zM573 443h1v6h-1zM573 452h1v1h-1zM573 454h1v1h-1zM574 441h1v1h-1zM574 444h1v3h-1zM574 448h1v3h-1zM574 452h1v1h-1zM574 456h1v1h-1zM575 439h1v5h-1zM575 445h1v2h-1zM575 449h1v1h-1zM575 451h1v2h-1zM576 444h1v4h-1zM576 449h1v1h-1zM576 454h1v1h-1zM577 443h1v1h-1zM577 447h1v7h-1zM577 456h1v1h-1zM577 459h1v1h-1zM578 446h1v6h-1zM578 453h1v1h-1zM578 470h1v1h-1zM579 444h1v6h-1zM579 453h1v1h-1zM579 474h1v1h-1zM580 443h1v7h-1zM580 462h1v1h-1zM581 442h1v3h-1zM581 446h1v3h-1zM581 450h1v1h-1zM581 452h1v1h-1zM582 441h1v8h-1zM582 450h1v1h-1zM582 458h1v1h-1zM583 443h1v5h-1zM584 441h1v1h-1zM584 443h1v5h-1zM584 449h1v2h-1zM584 453h1v1h-1zM585 435h1v1h-1zM585 442h1v3h-1zM585 446h1v1h-1zM585 448h1v1h-1zM585 456h1v1h-1zM586 441h1v6h-1zM586 448h1v1h-1zM586 453h1v1h-1zM586 457h1v1h-1zM587 442h1v4h-1zM587 447h1v1h-1zM587 449h1v1h-1zM588 439h1v6h-1zM588 446h1v2h-1zM588 452h1v1h-1zM588 455h1v1h-1zM588 458h1v1h-1zM589 442h1v3h-1zM589 446h1v2h-1zM590 438h1v2h-1zM590 441h1v6h-1zM590 452h1v2h-1zM591 441h1v5h-1zM591 447h1v1h-1zM591 450h1v2h-1zM592 440h1v6h-1zM592 448h1v2h-1zM592 454h1v1h-1zM593 439h1v6h-1zM593 447h1v2h-1zM594 440h1v5h-1zM594 446h1v1h-1zM595 441h1v5h-1zM595 447h1v1h-1zM596 441h1v1h-1zM596 443h1v4h-1zM596 448h1v1h-1zM596 450h1v1h-1zM597 439h1v2h-1zM597 442h1v3h-1zM597 446h1v2h-1zM597 454h1v1h-1zM598 436h1v1h-1zM598 439h1v5h-1zM598 445h1v2h-1zM598 448h1v1h-1zM598 451h1v1h-1zM599 437h1v1h-1zM599 439h1v1h-1zM599 441h1v3h-1zM599 445h1v2h-1zM599 448h1v1h-1zM599 453h1v2h-1zM600 442h1v7h-1zM600 451h1v1h-1zM601 440h1v4h-1zM601 446h1v4h-1zM601 451h1v1h-1zM601 468h1v1h-1zM602 440h1v1h-1zM602 443h1v6h-1zM602 450h1v1h-1zM602 452h1v1h-1zM603 414h1v1h-1zM603 441h1v2h-1zM603 444h1v1h-1zM603 446h1v1h-1zM603 448h1v1h-1zM603 450h1v2h-1zM603 455h1v2h-1zM603 459h1v1h-1zM604 441h1v2h-1zM604 444h1v2h-1zM604 447h1v1h-1zM604 451h1v1h-1zM604 454h1v1h-1zM604 458h1v1h-1zM605 441h1v1h-1zM605 443h1v2h-1zM605 446h1v3h-1zM605 450h1v1h-1zM605 460h1v1h-1zM606 445h1v5h-1zM607 443h1v4h-1zM607 449h1v1h-1zM607 452h1v3h-1zM607 456h1v1h-1zM608 441h1v5h-1zM608 449h1v1h-1zM608 453h1v1h-1zM609 438h1v1h-1zM609 442h1v7h-1zM610 439h1v1h-1zM610 441h1v1h-1zM610 443h1v4h-1zM610 448h1v1h-1zM610 450h1v1h-1zM611 443h1v6h-1zM611 451h1v1h-1zM612 441h1v5h-1zM612 448h1v1h-1zM612 450h1v1h-1zM612 453h1v1h-1zM612 458h1v2h-1zM613 440h1v6h-1zM613 447h1v2h-1zM613 450h1v1h-1zM613 453h1v1h-1zM613 456h1v1h-1zM614 441h1v5h-1zM614 450h1v1h-1zM615 442h1v7h-1zM615 454h1v1h-1zM616 440h1v7h-1zM616 448h1v2h-1zM617 438h1v2h-1zM617 441h1v1h-1zM617 443h1v3h-1zM617 450h1v1h-1zM618 441h1v3h-1zM618 445h1v2h-1zM618 448h1v3h-1zM619 440h1v2h-1zM619 443h1v6h-1zM619 450h1v1h-1zM620 442h1v5h-1zM620 449h1v1h-1zM620 452h1v1h-1zM621 443h1v4h-1zM621 448h1v2h-1zM621 451h1v2h-1zM621 458h1v1h-1zM622 439h1v1h-1zM622 442h1v2h-1zM622 445h1v5h-1zM622 452h1v2h-1zM622 459h1v1h-1zM623 443h1v1h-1zM623 446h1v5h-1zM623 452h1v3h-1zM624 440h1v1h-1zM624 446h1v7h-1zM624 454h1v1h-1zM625 444h1v3h-1zM625 448h1v3h-1zM625 454h1v1h-1zM626 436h1v1h-1zM626 438h1v1h-1zM626 440h1v1h-1zM626 442h1v3h-1zM626 446h1v1h-1zM626 448h1v1h-1zM626 450h1v1h-1zM626 467h1v1h-1zM627 443h1v5h-1zM627 449h1v1h-1zM628 440h1v1h-1zM628 442h1v5h-1zM628 448h1v1h-1zM629 440h1v5h-1zM629 446h1v2h-1zM629 449h1v1h-1zM629 451h1v1h-1zM629 454h1v1h-1zM630 440h1v4h-1zM630 445h1v1h-1zM630 460h1v1h-1zM631 437h1v7h-1zM631 447h1v1h-1zM632 436h1v6h-1zM632 443h1v1h-1zM633 421h1v1h-1zM633 436h1v9h-1zM634 436h1v4h-1zM634 441h1v2h-1zM634 447h1v1h-1zM635 426h1v1h-1zM635 432h1v5h-1zM635 440h1v1h-1zM635 445h1v1h-1zM635 449h1v1h-1zM636 433h1v7h-1zM636 441h1v1h-1zM636 445h1v1h-1zM637 433h1v7h-1zM637 441h1v1h-1zM638 433h1v1h-1zM638 435h1v2h-1zM638 438h1v5h-1zM639 434h1v8h-1zM640 431h1v7h-1zM640 443h1v1h-1zM641 429h1v6h-1zM641 439h1v1h-1zM641 441h1v1h-1zM642 428h1v1h-1zM642 430h1v5h-1zM642 436h1v1h-1zM643 426h1v1h-1zM643 431h1v1h-1zM643 434h1v5h-1zM643 440h1v1h-1zM644 432h1v1h-1zM644 434h1v4h-1zM644 441h1v1h-1zM644 443h1v1h-1zM645 433h1v1h-1zM645 437h1v5h-1zM645 443h1v1h-1zM645 446h1v1h-1zM646 435h1v2h-1zM646 438h1v3h-1zM646 442h1v1h-1zM647 435h1v5h-1zM647 441h1v1h-1zM647 443h1v2h-1zM648 437h1v2h-1zM648 440h1v5h-1zM648 447h1v4h-1zM649 437h1v4h-1zM649 442h1v1h-1zM650 437h1v5h-1zM650 448h1v1h-1zM651 436h1v5h-1zM651 442h1v2h-1zM651 446h1v1h-1zM651 448h1v2h-1zM652 437h1v8h-1zM653 432h1v1h-1zM653 438h1v3h-1zM653 446h1v2h-1zM653 450h1v1h-1zM654 435h1v1h-1zM654 439h1v3h-1zM654 443h1v1h-1zM654 446h1v1h-1zM654 451h1v1h-1zM655 441h1v6h-1zM655 448h1v1h-1zM655 450h1v1h-1zM656 437h1v1h-1zM656 440h1v5h-1zM656 447h1v4h-1zM657 434h1v1h-1zM657 436h1v1h-1zM657 439h1v1h-1zM657 441h1v5h-1zM657 447h1v1h-1zM657 451h1v1h-1zM657 454h1v1h-1zM658 442h1v6h-1zM658 449h1v1h-1zM659 442h1v5h-1zM659 448h1v1h-1zM660 442h1v7h-1zM660 450h1v1h-1zM661 441h1v1h-1zM661 444h1v4h-1zM661 449h1v2h-1zM662 443h1v4h-1zM663 445h1v3h-1zM663 451h1v2h-1zM663 462h1v1h-1zM664 444h1v1h-1zM664 446h1v5h-1zM665 447h1v4h-1zM665 452h1v2h-1zM666 447h1v6h-1zM667 443h1v1h-1zM667 446h1v3h-1zM667 450h1v2h-1zM667 453h1v1h-1zM667 456h1v1h-1zM668 446h1v1h-1zM668 448h1v5h-1zM669 448h1v3h-1zM669 453h1v1h-1zM669 455h1v1h-1zM670 446h1v3h-1zM670 450h1v3h-1zM670 454h1v1h-1zM670 458h1v1h-1zM670 463h1v1h-1zM671 447h1v5h-1zM671 456h1v2h-1zM672 440h1v1h-1zM672 442h1v7h-1zM672 450h1v1h-1zM672 452h1v1h-1zM673 438h1v1h-1zM673 441h1v7h-1zM674 439h1v7h-1zM675 434h1v6h-1zM675 441h1v2h-1zM676 430h1v8h-1zM677 427h1v6h-1zM677 435h1v1h-1zM678 428h1v2h-1zM678 431h1v3h-1zM678 438h1v1h-1zM679 425h1v1h-1zM679 427h1v5h-1zM679 433h1v2h-1zM680 427h1v5h-1zM680 433h1v2h-1zM681 428h1v5h-1zM681 434h1v1h-1zM682 424h1v3h-1zM682 428h1v1h-1zM682 430h1v2h-1zM682 434h1v1h-1zM682 436h1v2h-1zM683 428h1v4h-1zM684 424h1v6h-1zM684 432h1v2h-1zM685 424h1v5h-1zM685 430h1v1h-1zM685 432h1v1h-1zM686 423h1v1h-1zM686 427h1v6h-1zM686 436h1v2h-1zM687 427h1v1h-1zM687 429h1v2h-1zM687 432h1v2h-1zM687 439h1v1h-1zM688 421h1v1h-1zM688 424h1v6h-1zM688 436h1v1h-1zM688 438h1v1h-1zM689 425h1v1h-1zM689 427h1v4h-1zM689 433h1v3h-1zM690 425h1v1h-1zM690 427h1v6h-1zM690 440h1v1h-1zM691 420h1v1h-1zM691 422h1v1h-1zM691 425h1v5h-1zM691 433h1v2h-1zM691 437h1v1h-1zM691 439h1v1h-1zM691 447h1v1h-1zM692 425h1v7h-1zM692 433h1v3h-1zM692 441h1v1h-1zM693 421h1v8h-1zM693 430h1v1h-1zM694 420h1v1h-1zM694 422h1v5h-1zM694 433h1v1h-1zM695 418h1v5h-1zM695 424h1v2h-1zM695 430h1v1h-1zM695 437h1v1h-1zM696 415h1v1h-1zM696 420h1v2h-1zM696 423h1v1h-1zM696 425h1v1h-1zM696 427h1v1h-1zM696 432h1v1h-1zM696 434h1v1h-1zM697 407h1v1h-1zM697 418h1v1h-1zM697 420h1v4h-1zM697 425h1v1h-1zM698 418h1v4h-1zM698 424h1v2h-1zM698 427h1v2h-1zM699 419h1v3h-1zM699 423h1v2h-1zM699 426h1v3h-1zM699 430h1v1h-1zM700 420h1v3h-1zM700 427h1v2h-1zM700 431h1v1h-1zM701 418h1v2h-1zM701 421h1v1h-1zM701 423h1v6h-1zM702 421h1v6h-1zM702 428h1v1h-1zM702 436h1v1h-1zM703 419h1v2h-1zM703 423h1v3h-1zM703 428h1v1h-1zM703 430h1v2h-1zM704 421h1v1h-1zM704 423h1v5h-1zM704 429h1v4h-1zM705 423h1v6h-1zM705 430h1v2h-1zM706 421h1v1h-1zM706 423h1v4h-1zM706 428h1v1h-1zM707 425h1v6h-1zM708 422h1v1h-1zM708 424h1v7h-1zM708 432h1v1h-1zM708 434h1v1h-1zM709 424h1v8h-1zM710 424h1v6h-1zM711 426h1v6h-1zM711 439h1v1h-1zM712 421h1v2h-1zM712 424h1v2h-1zM712 427h1v1h-1zM712 431h1v2h-1zM712 434h1v1h-1zM712 441h1v1h-1zM713 422h1v3h-1zM713 426h1v3h-1zM714 421h1v1h-1zM714 423h1v5h-1zM715 421h1v1h-1zM715 424h1v6h-1zM716 424h1v2h-1zM716 427h1v3h-1zM716 431h1v1h-1zM716 436h1v1h-1zM717 422h1v1h-1zM717 424h1v6h-1zM718 424h1v5h-1zM719 418h1v1h-1zM719 424h1v2h-1zM719 427h1v2h-1zM719 430h1v4h-1zM720 424h1v8h-1zM720 436h1v1h-1zM721 425h1v4h-1zM721 430h1v1h-1zM721 432h1v1h-1zM721 436h1v1h-1zM722 422h1v1h-1zM722 424h1v4h-1zM722 429h1v1h-1zM722 439h1v1h-1zM723 424h1v11h-1zM724 424h1v1h-1zM724 426h1v4h-1zM724 431h1v1h-1zM724 437h1v1h-1zM725 423h1v1h-1zM725 427h1v1h-1zM725 429h1v6h-1zM725 438h1v1h-1zM726 422h1v1h-1zM726 425h1v4h-1zM726 430h1v1h-1zM726 433h1v2h-1zM727 422h1v4h-1zM727 427h1v3h-1zM727 433h1v1h-1zM728 420h1v1h-1zM728 423h1v5h-1zM729 422h1v3h-1zM730 420h1v4h-1zM730 426h1v1h-1zM730 428h1v1h-1zM730 432h1v1h-1zM731 420h1v5h-1zM731 427h1v1h-1zM732 418h1v8h-1zM733 421h1v6h-1zM733 428h1v1h-1zM734 418h1v1h-1zM734 421h1v5h-1zM734 427h1v1h-1zM734 429h1v2h-1zM735 416h1v2h-1zM735 420h1v1h-1zM735 422h1v3h-1zM735 426h1v1h-1zM735 428h1v2h-1zM735 431h1v1h-1zM736 418h1v6h-1zM736 425h1v1h-1zM736 427h1v1h-1zM737 419h1v6h-1zM737 426h1v1h-1zM737 429h1v1h-1zM737 433h1v1h-1zM738 413h1v1h-1zM738 416h1v1h-1zM738 418h1v1h-1zM738 420h1v2h-1zM738 423h1v1h-1zM738 426h1v1h-1zM739 419h1v7h-1zM739 428h1v1h-1zM740 420h1v5h-1zM740 428h1v1h-1zM741 416h1v1h-1zM741 419h1v9h-1zM742 415h1v1h-1zM742 420h1v5h-1zM743 416h1v1h-1zM743 419h1v5h-1zM744 417h1v1h-1zM744 421h1v3h-1zM744 426h1v2h-1zM745 420h1v4h-1zM745 425h1v1h-1zM745 430h1v1h-1zM745 435h1v1h-1zM746 417h1v8h-1zM746 428h1v2h-1zM746 432h1v1h-1zM746 435h1v1h-1zM746 460h1v1h-1zM747 417h1v1h-1zM747 422h1v2h-1zM747 425h1v1h-1zM747 427h1v1h-1zM747 430h1v1h-1zM748 423h1v4h-1zM748 428h1v1h-1zM749 421h1v1h-1zM749 423h1v1h-1zM749 425h1v5h-1zM750 425h1v4h-1zM750 430h1v1h-1z" fill="#00ff00" shape-rendering="crispEdges"/>
<path d="M75.5 40.5H775.5V120.5H75.5ZM75.5 130.5H775.5V210.5H75.5ZM75.5 220.5H775.5V300.5H75.5ZM75.5 310.5H775.5V390.5H75.5ZM75.5 400.5H775.5V480.5H75.5Z" stroke="#fff" stroke-width="1" fill="none"/>
<path d="M71 44.5H75M71 65.5H75M71 85.5H75M71 106.5H75M71 130.5H75M71 150.5H75M71 170.5H75M71 190.5H75M71 210.5H75M71 222.5H75M71 245.5H75M71 269.5H75M71 292.5H75M71 310.5H75M71 320.5H75M71 330.5H75M71 340.5H75M71 350.5H75M71 360.5H75M71 370.5H75M71 380.5H75M71 390.5H75M71 413.5H75M71 443.5H75M71 472.5H75" stroke="#fff" stroke-width="1" fill="none"/>
<g fill="#fff" stroke="#fff" stroke-width="0.3" font-size="11" font-family="Liberation Sans, Arial, sans-serif"><text x="69" y="47.8" text-anchor="end">20</text><text x="69" y="68.8" text-anchor="end">10</text><text x="69" y="88.8" text-anchor="end">0</text><text x="69" y="109.8" text-anchor="end">-10</text><text x="69" y="133.8" text-anchor="end">360</text><text x="69" y="153.8" text-anchor="end">270</text><text x="69" y="173.8" text-anchor="end">180</text><text x="69" y="193.8" text-anchor="end">90</text><text x="69" y="213.8" text-anchor="end">0</text><text x="69" y="225.8" text-anchor="end">100</text><text x="69" y="248.8" text-anchor="end">10</text><text x="69" y="272.8" text-anchor="end">1</text><text x="69" y="295.8" text-anchor="end">0.1</text><text x="69" y="313.8" text-anchor="end">700</text><text x="69" y="323.8" text-anchor="end">650</text><text x="69" y="333.8" text-anchor="end">600</text><text x="69" y="343.8" text-anchor="end">550</text><text x="69" y="353.8" text-anchor="end">500</text><text x="69" y="363.8" text-anchor="end">450</text><text x="69" y="373.8" text-anchor="end">400</text><text x="69" y="383.8" text-anchor="end">350</text><text x="69" y="393.8" text-anchor="end">300</text><text x="69" y="416.8" text-anchor="end">1e+6</text><text x="69" y="446.8" text-anchor="end">1e+5</text><text x="69" y="475.8" text-anchor="end">1e+4</text></g>
<g fill="#fff" font-size="15.7" font-family="Liberation Sans, Arial, sans-serif"><text x="126.3" y="498" text-anchor="middle">10.12.2025</text><text x="226.3" y="498" text-anchor="middle">11</text><text x="326.3" y="498" text-anchor="middle">12</text><text x="426.3" y="498" text-anchor="middle">13</text><text x="526.3" y="498" text-anchor="middle">14</text><text x="626.3" y="498" text-anchor="middle">15</text><text x="726.3" y="498" text-anchor="middle">16</text></g>
<text transform="translate(24 76) rotate(-90)" text-anchor="middle" stroke-width="0.2" font-size="11" font-family="Liberation Sans, Arial, sans-serif"><tspan fill="#fff" stroke="#fff">Bt </tspan><tspan fill="#ff0000" stroke="#ff0000">Bz</tspan><tspan fill="#fff" stroke="#fff"> (gsm)</tspan></text>
<text transform="translate(24 166) rotate(-90)" text-anchor="middle" stroke-width="0.2" font-size="11" font-family="Liberation Sans, Arial, sans-serif"><tspan fill="#5ff8f0" stroke="#5ff8f0">Phi</tspan><tspan fill="#fff" stroke="#fff"> (gsm)</tspan></text>
<text transform="translate(24 256) rotate(-90)" text-anchor="middle" stroke-width="0.2" font-size="11" font-family="Liberation Sans, Arial, sans-serif"><tspan fill="#ffcc33" stroke="#ffcc33">Density</tspan><tspan fill="#fff" stroke="#fff"> (cm</tspan><tspan fill="#fff" stroke="#fff" font-size="7.5" dy="-3.2">-3</tspan><tspan fill="#fff" stroke="#fff" dy="3.2">)</tspan></text>
<text transform="translate(24 346) rotate(-90)" text-anchor="middle" stroke-width="0.2" font-size="11" font-family="Liberation Sans, Arial, sans-serif"><tspan fill="#ffff00" stroke="#ffff00">Speed</tspan><tspan fill="#fff" stroke="#fff"> (km/s)</tspan></text>
<text transform="translate(24 436) rotate(-90)" text-anchor="middle" stroke-width="0.2" font-size="11" font-family="Liberation Sans, Arial, sans-serif"><tspan fill="#00ff00" stroke="#00ff00">Temp</tspan><tspan fill="#fff" stroke="#fff"> (K)</tspan></text>
</svg>
</body></html>
